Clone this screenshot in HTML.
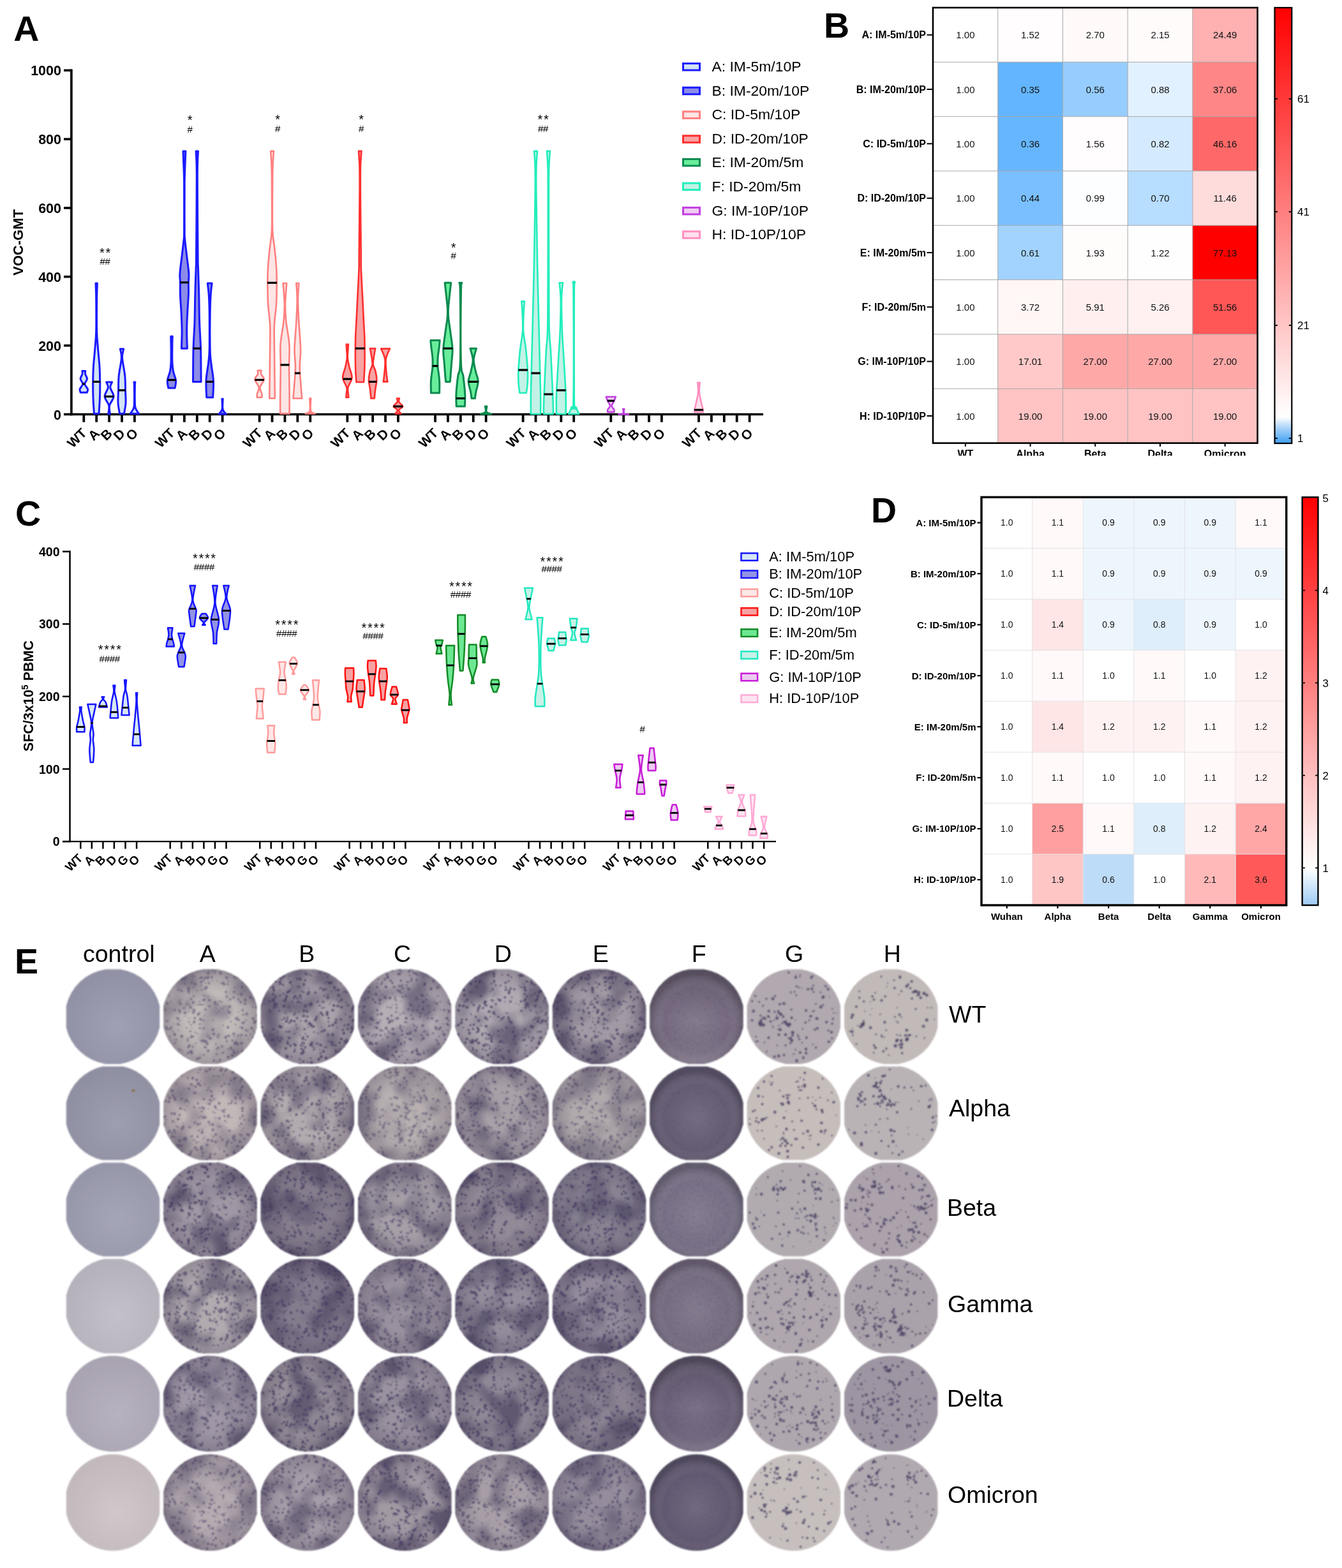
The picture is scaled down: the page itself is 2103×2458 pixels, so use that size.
<!DOCTYPE html>
<html><head><meta charset="utf-8"><title>Figure</title>
<style>html,body{margin:0;padding:0;background:#fff;width:2103px;height:2458px;overflow:hidden}svg{display:block}</style>
</head><body><svg xmlns="http://www.w3.org/2000/svg" width="2103" height="2458" viewBox="0 0 2103 2458" font-family="'Liberation Sans', Arial, Helvetica, sans-serif"><text x="21.2" y="64.2" font-size="55.5" font-weight="bold" text-anchor="start" fill="#000">A</text><line x1="111.9" y1="108.5" x2="111.9" y2="651.3" stroke="#000" stroke-width="3.6"/><line x1="100" y1="649.5" x2="111.9" y2="649.5" stroke="#000" stroke-width="3.6"/><text x="96" y="657.5" font-size="21.5" font-weight="bold" text-anchor="end" fill="#000">0</text><line x1="100" y1="541.7" x2="111.9" y2="541.7" stroke="#000" stroke-width="3.6"/><text x="96" y="549.7" font-size="21.5" font-weight="bold" text-anchor="end" fill="#000">200</text><line x1="100" y1="433.8" x2="111.9" y2="433.8" stroke="#000" stroke-width="3.6"/><text x="96" y="441.8" font-size="21.5" font-weight="bold" text-anchor="end" fill="#000">400</text><line x1="100" y1="326" x2="111.9" y2="326" stroke="#000" stroke-width="3.6"/><text x="96" y="334" font-size="21.5" font-weight="bold" text-anchor="end" fill="#000">600</text><line x1="100" y1="218.1" x2="111.9" y2="218.1" stroke="#000" stroke-width="3.6"/><text x="96" y="226.1" font-size="21.5" font-weight="bold" text-anchor="end" fill="#000">800</text><line x1="100" y1="110.3" x2="111.9" y2="110.3" stroke="#000" stroke-width="3.6"/><text x="96" y="118.3" font-size="21.5" font-weight="bold" text-anchor="end" fill="#000">1000</text><text transform="translate(36 380) rotate(-90)" font-size="22" font-weight="bold" text-anchor="middle">VOC-GMT</text><line x1="110.1" y1="649.5" x2="1196" y2="649.5" stroke="#000" stroke-width="3.6"/><line x1="131.3" y1="649.5" x2="131.3" y2="661.7" stroke="#000" stroke-width="3.8"/><text transform="translate(120.2 686.3) rotate(-45)" font-size="21" font-weight="bold" text-anchor="middle" y="7.5">WT</text><line x1="151.2" y1="649.5" x2="151.2" y2="661.7" stroke="#000" stroke-width="3.8"/><text transform="translate(146.7 681) rotate(-45)" font-size="21" font-weight="bold" text-anchor="middle" y="7.5">A</text><line x1="171.1" y1="649.5" x2="171.1" y2="661.7" stroke="#000" stroke-width="3.8"/><text transform="translate(166.6 681) rotate(-45)" font-size="21" font-weight="bold" text-anchor="middle" y="7.5">B</text><line x1="191" y1="649.5" x2="191" y2="661.7" stroke="#000" stroke-width="3.8"/><text transform="translate(186.5 681) rotate(-45)" font-size="21" font-weight="bold" text-anchor="middle" y="7.5">D</text><line x1="210.9" y1="649.5" x2="210.9" y2="661.7" stroke="#000" stroke-width="3.8"/><text transform="translate(206.4 681) rotate(-45)" font-size="21" font-weight="bold" text-anchor="middle" y="7.5">O</text><line x1="269" y1="649.5" x2="269" y2="661.7" stroke="#000" stroke-width="3.8"/><text transform="translate(257.9 686.3) rotate(-45)" font-size="21" font-weight="bold" text-anchor="middle" y="7.5">WT</text><line x1="288.9" y1="649.5" x2="288.9" y2="661.7" stroke="#000" stroke-width="3.8"/><text transform="translate(284.4 681) rotate(-45)" font-size="21" font-weight="bold" text-anchor="middle" y="7.5">A</text><line x1="308.8" y1="649.5" x2="308.8" y2="661.7" stroke="#000" stroke-width="3.8"/><text transform="translate(304.3 681) rotate(-45)" font-size="21" font-weight="bold" text-anchor="middle" y="7.5">B</text><line x1="328.7" y1="649.5" x2="328.7" y2="661.7" stroke="#000" stroke-width="3.8"/><text transform="translate(324.2 681) rotate(-45)" font-size="21" font-weight="bold" text-anchor="middle" y="7.5">D</text><line x1="348.6" y1="649.5" x2="348.6" y2="661.7" stroke="#000" stroke-width="3.8"/><text transform="translate(344.1 681) rotate(-45)" font-size="21" font-weight="bold" text-anchor="middle" y="7.5">O</text><line x1="406.6" y1="649.5" x2="406.6" y2="661.7" stroke="#000" stroke-width="3.8"/><text transform="translate(395.5 686.3) rotate(-45)" font-size="21" font-weight="bold" text-anchor="middle" y="7.5">WT</text><line x1="426.5" y1="649.5" x2="426.5" y2="661.7" stroke="#000" stroke-width="3.8"/><text transform="translate(422 681) rotate(-45)" font-size="21" font-weight="bold" text-anchor="middle" y="7.5">A</text><line x1="446.4" y1="649.5" x2="446.4" y2="661.7" stroke="#000" stroke-width="3.8"/><text transform="translate(441.9 681) rotate(-45)" font-size="21" font-weight="bold" text-anchor="middle" y="7.5">B</text><line x1="466.3" y1="649.5" x2="466.3" y2="661.7" stroke="#000" stroke-width="3.8"/><text transform="translate(461.8 681) rotate(-45)" font-size="21" font-weight="bold" text-anchor="middle" y="7.5">D</text><line x1="486.2" y1="649.5" x2="486.2" y2="661.7" stroke="#000" stroke-width="3.8"/><text transform="translate(481.7 681) rotate(-45)" font-size="21" font-weight="bold" text-anchor="middle" y="7.5">O</text><line x1="544.3" y1="649.5" x2="544.3" y2="661.7" stroke="#000" stroke-width="3.8"/><text transform="translate(533.2 686.3) rotate(-45)" font-size="21" font-weight="bold" text-anchor="middle" y="7.5">WT</text><line x1="564.2" y1="649.5" x2="564.2" y2="661.7" stroke="#000" stroke-width="3.8"/><text transform="translate(559.7 681) rotate(-45)" font-size="21" font-weight="bold" text-anchor="middle" y="7.5">A</text><line x1="584.1" y1="649.5" x2="584.1" y2="661.7" stroke="#000" stroke-width="3.8"/><text transform="translate(579.6 681) rotate(-45)" font-size="21" font-weight="bold" text-anchor="middle" y="7.5">B</text><line x1="604" y1="649.5" x2="604" y2="661.7" stroke="#000" stroke-width="3.8"/><text transform="translate(599.5 681) rotate(-45)" font-size="21" font-weight="bold" text-anchor="middle" y="7.5">D</text><line x1="623.9" y1="649.5" x2="623.9" y2="661.7" stroke="#000" stroke-width="3.8"/><text transform="translate(619.4 681) rotate(-45)" font-size="21" font-weight="bold" text-anchor="middle" y="7.5">O</text><line x1="682" y1="649.5" x2="682" y2="661.7" stroke="#000" stroke-width="3.8"/><text transform="translate(670.9 686.3) rotate(-45)" font-size="21" font-weight="bold" text-anchor="middle" y="7.5">WT</text><line x1="701.9" y1="649.5" x2="701.9" y2="661.7" stroke="#000" stroke-width="3.8"/><text transform="translate(697.4 681) rotate(-45)" font-size="21" font-weight="bold" text-anchor="middle" y="7.5">A</text><line x1="721.8" y1="649.5" x2="721.8" y2="661.7" stroke="#000" stroke-width="3.8"/><text transform="translate(717.3 681) rotate(-45)" font-size="21" font-weight="bold" text-anchor="middle" y="7.5">B</text><line x1="741.7" y1="649.5" x2="741.7" y2="661.7" stroke="#000" stroke-width="3.8"/><text transform="translate(737.2 681) rotate(-45)" font-size="21" font-weight="bold" text-anchor="middle" y="7.5">D</text><line x1="761.6" y1="649.5" x2="761.6" y2="661.7" stroke="#000" stroke-width="3.8"/><text transform="translate(757.1 681) rotate(-45)" font-size="21" font-weight="bold" text-anchor="middle" y="7.5">O</text><line x1="819.6" y1="649.5" x2="819.6" y2="661.7" stroke="#000" stroke-width="3.8"/><text transform="translate(808.5 686.3) rotate(-45)" font-size="21" font-weight="bold" text-anchor="middle" y="7.5">WT</text><line x1="839.5" y1="649.5" x2="839.5" y2="661.7" stroke="#000" stroke-width="3.8"/><text transform="translate(835 681) rotate(-45)" font-size="21" font-weight="bold" text-anchor="middle" y="7.5">A</text><line x1="859.4" y1="649.5" x2="859.4" y2="661.7" stroke="#000" stroke-width="3.8"/><text transform="translate(854.9 681) rotate(-45)" font-size="21" font-weight="bold" text-anchor="middle" y="7.5">B</text><line x1="879.3" y1="649.5" x2="879.3" y2="661.7" stroke="#000" stroke-width="3.8"/><text transform="translate(874.8 681) rotate(-45)" font-size="21" font-weight="bold" text-anchor="middle" y="7.5">D</text><line x1="899.2" y1="649.5" x2="899.2" y2="661.7" stroke="#000" stroke-width="3.8"/><text transform="translate(894.7 681) rotate(-45)" font-size="21" font-weight="bold" text-anchor="middle" y="7.5">O</text><line x1="957.3" y1="649.5" x2="957.3" y2="661.7" stroke="#000" stroke-width="3.8"/><text transform="translate(946.2 686.3) rotate(-45)" font-size="21" font-weight="bold" text-anchor="middle" y="7.5">WT</text><line x1="977.2" y1="649.5" x2="977.2" y2="661.7" stroke="#000" stroke-width="3.8"/><text transform="translate(972.7 681) rotate(-45)" font-size="21" font-weight="bold" text-anchor="middle" y="7.5">A</text><line x1="997.1" y1="649.5" x2="997.1" y2="661.7" stroke="#000" stroke-width="3.8"/><text transform="translate(992.6 681) rotate(-45)" font-size="21" font-weight="bold" text-anchor="middle" y="7.5">B</text><line x1="1017" y1="649.5" x2="1017" y2="661.7" stroke="#000" stroke-width="3.8"/><text transform="translate(1012.5 681) rotate(-45)" font-size="21" font-weight="bold" text-anchor="middle" y="7.5">D</text><line x1="1036.9" y1="649.5" x2="1036.9" y2="661.7" stroke="#000" stroke-width="3.8"/><text transform="translate(1032.4 681) rotate(-45)" font-size="21" font-weight="bold" text-anchor="middle" y="7.5">O</text><line x1="1095" y1="649.5" x2="1095" y2="661.7" stroke="#000" stroke-width="3.8"/><text transform="translate(1083.9 686.3) rotate(-45)" font-size="21" font-weight="bold" text-anchor="middle" y="7.5">WT</text><line x1="1114.9" y1="649.5" x2="1114.9" y2="661.7" stroke="#000" stroke-width="3.8"/><text transform="translate(1110.4 681) rotate(-45)" font-size="21" font-weight="bold" text-anchor="middle" y="7.5">A</text><line x1="1134.8" y1="649.5" x2="1134.8" y2="661.7" stroke="#000" stroke-width="3.8"/><text transform="translate(1130.3 681) rotate(-45)" font-size="21" font-weight="bold" text-anchor="middle" y="7.5">B</text><line x1="1154.7" y1="649.5" x2="1154.7" y2="661.7" stroke="#000" stroke-width="3.8"/><text transform="translate(1150.2 681) rotate(-45)" font-size="21" font-weight="bold" text-anchor="middle" y="7.5">D</text><line x1="1174.6" y1="649.5" x2="1174.6" y2="661.7" stroke="#000" stroke-width="3.8"/><text transform="translate(1170.1 681) rotate(-45)" font-size="21" font-weight="bold" text-anchor="middle" y="7.5">O</text><path d="M128.8 581.5C128.9 582.2 129.6 583.9 129.1 586C128.7 588.1 126 591.3 126.1 594C126.2 596.7 130 599.3 129.8 602C129.6 604.7 125.7 607.8 125.1 610C124.5 612.2 126.1 614.4 126.3 615.3L136.3 615.3C136.5 614.4 138.1 612.2 137.5 610C136.9 607.8 133 604.7 132.8 602C132.6 599.3 136.4 596.7 136.5 594C136.6 591.3 133.9 588.1 133.5 586C133.1 583.9 133.8 582.2 133.8 581.5Z" fill="#d2e3f3" stroke="#1a1aff" stroke-width="3.0" stroke-linejoin="round"/><line x1="129.5" y1="601.9" x2="133.1" y2="601.9" stroke="#000" stroke-width="3.2"/><path d="M150 444C150.1 448.2 150.6 456.5 150.7 469C150.8 481.5 151 506 150.7 519C150.4 532 149.5 537.7 148.8 547C148.1 556.3 146.9 566.5 146.4 575C145.9 583.5 145.8 589.8 145.7 598C145.6 606.2 145.7 616.1 146 624.5C146.3 632.9 147.2 644.4 147.4 648.4L155 648.4C155.2 644.4 156.1 632.9 156.4 624.5C156.7 616.1 156.8 606.2 156.7 598C156.6 589.8 156.5 583.5 156 575C155.5 566.5 154.3 556.3 153.6 547C152.9 537.7 152 532 151.7 519C151.4 506 151.6 481.5 151.7 469C151.8 456.5 152.3 448.2 152.4 444Z" fill="#d2e3f3" stroke="#1a1aff" stroke-width="3.0" stroke-linejoin="round"/><line x1="145.4" y1="598.4" x2="157" y2="598.4" stroke="#000" stroke-width="3.2"/><path d="M166.6 599C167.1 600.4 169.8 603.7 169.4 607.5C169 611.3 163.9 616.9 164.1 621.6C164.3 626.3 169.7 631.1 170.6 635.7C171.6 640.3 169.9 646.8 169.8 649L172.4 649C172.3 646.8 170.7 640.3 171.6 635.7C172.6 631.1 177.9 626.3 178.1 621.6C178.3 616.9 173.2 611.3 172.8 607.5C172.4 603.7 175.1 600.4 175.6 599Z" fill="#d2e3f3" stroke="#1a1aff" stroke-width="3.0" stroke-linejoin="round"/><line x1="163.8" y1="621.6" x2="178.4" y2="621.6" stroke="#000" stroke-width="3.2"/><path d="M188.3 547C188.7 549.3 190.8 554 190.4 561C190.1 568 187 580.5 186.2 589C185.4 597.5 185.7 604.7 185.5 611.8C185.3 618.9 184.7 625.4 185 631.5C185.3 637.6 187.1 645.6 187.5 648.4L194.5 648.4C194.9 645.6 196.7 637.6 197 631.5C197.3 625.4 196.7 618.9 196.5 611.8C196.3 604.7 196.6 597.5 195.8 589C195 580.5 191.9 568 191.6 561C191.2 554 193.3 549.3 193.7 547Z" fill="#d2e3f3" stroke="#1a1aff" stroke-width="3.0" stroke-linejoin="round"/><line x1="185.2" y1="611.8" x2="196.8" y2="611.8" stroke="#000" stroke-width="3.2"/><path d="M209.9 599C210 600 210.3 599.6 210.4 605C210.5 610.4 210.6 625.7 210.4 631.5C210.2 637.3 210.4 637.2 209.4 640C208.4 642.8 205.2 647 204.3 648.4L217.5 648.4C216.7 647 213.4 642.8 212.4 640C211.4 637.2 211.6 637.3 211.4 631.5C211.2 625.7 211.3 610.4 211.4 605C211.5 599.6 211.8 600 211.9 599Z" fill="#d2e3f3" stroke="#1a1aff" stroke-width="3.0" stroke-linejoin="round"/><path d="M267.7 527.2C267.7 530.2 268 538.2 268.1 545C268.1 551.8 268.2 561.8 268 568C267.7 574.2 267.4 577.3 266.5 582C265.5 586.7 262.8 591.9 262.4 596.3C261.9 600.7 263.5 606.2 263.8 608.2L274.2 608.2C274.4 606.2 276 600.7 275.6 596.3C275.1 591.9 272.4 586.7 271.5 582C270.5 577.3 270.2 574.2 270 568C269.7 561.8 269.8 551.8 269.9 545C269.9 538.2 270.2 530.2 270.3 527.2Z" fill="#8c8ce8" stroke="#1a1aff" stroke-width="3.0" stroke-linejoin="round"/><line x1="262.3" y1="595.6" x2="275.7" y2="595.6" stroke="#000" stroke-width="3.2"/><path d="M286.9 236.9C287.1 243.4 288.1 266 288.4 276C288.7 286 288.5 282.8 288.6 297C288.6 311.2 288.7 348 288.6 361C288.5 374 288.7 367.9 288.1 375C287.4 382.1 285.8 394.4 284.8 403.3C283.7 412.2 282.3 422.1 281.9 428.7C281.5 435.3 282.3 437.2 282.4 442.8C282.5 448.4 282.1 454.1 282.4 462C282.7 469.9 283.6 481.1 284.1 490.5C284.5 499.9 285 509.4 285.1 518.7C285.1 528 284.5 541.6 284.4 546.2L293.4 546.2C293.3 541.6 292.6 528 292.7 518.7C292.7 509.4 293.2 499.9 293.7 490.5C294.1 481.1 295.1 469.9 295.4 462C295.7 454.1 295.3 448.4 295.4 442.8C295.5 437.2 296.3 435.3 295.9 428.7C295.5 422.1 294 412.2 293 403.3C291.9 394.4 290.3 382.1 289.7 375C289 367.9 289.3 374 289.2 361C289.1 348 289.1 311.2 289.2 297C289.2 282.8 289.1 286 289.4 276C289.7 266 290.6 243.4 290.9 236.9Z" fill="#8c8ce8" stroke="#1a1aff" stroke-width="3.0" stroke-linejoin="round"/><line x1="282.1" y1="442.8" x2="295.7" y2="442.8" stroke="#000" stroke-width="3.2"/><path d="M307.1 236.9C307.3 243.4 308.2 248.3 308.3 276C308.3 303.7 307.7 379 307.5 403C307.3 427 307.4 410.2 307.1 420C306.8 429.8 306.1 447.9 305.8 462C305.4 476.1 305.4 490.4 305 504.6C304.5 518.8 303.4 531.4 303 547C302.6 562.6 302.6 589.8 302.5 598.4L315.1 598.4C315 589.8 315 562.6 314.6 547C314.2 531.4 313 518.8 312.6 504.6C312.1 490.4 312.1 476.1 311.8 462C311.4 447.9 310.8 429.8 310.5 420C310.2 410.2 310.3 427 310.1 403C309.9 379 309.2 303.7 309.3 276C309.3 248.3 310.3 243.4 310.5 236.9Z" fill="#8c8ce8" stroke="#1a1aff" stroke-width="3.0" stroke-linejoin="round"/><line x1="302.7" y1="546.2" x2="314.8" y2="546.2" stroke="#000" stroke-width="3.2"/><path d="M325.3 444C325.6 447 326.7 454.2 327.2 462C327.7 469.8 328 476.3 328.2 490.5C328.3 504.7 328.4 534.1 328.2 547C327.9 559.9 327.5 559.8 326.7 568C325.8 576.2 323.5 587.1 323 596.3C322.5 605.5 323.6 618.5 323.7 623L333.7 623C333.8 618.5 334.9 605.5 334.4 596.3C333.9 587.1 331.5 576.2 330.7 568C329.8 559.8 329.4 559.9 329.2 547C328.9 534.1 329 504.7 329.2 490.5C329.3 476.3 329.7 469.8 330.2 462C330.7 454.2 331.8 447 332.1 444Z" fill="#8c8ce8" stroke="#1a1aff" stroke-width="3.0" stroke-linejoin="round"/><line x1="322.7" y1="598.4" x2="334.6" y2="598.4" stroke="#000" stroke-width="3.2"/><path d="M347.9 625.2C347.9 627.9 348.9 637.4 348.1 641.4C347.3 645.4 343.9 647.7 343.1 649L354.1 649C353.2 647.7 349.9 645.4 349.1 641.4C348.3 637.4 349.2 627.9 349.3 625.2Z" fill="#8c8ce8" stroke="#1a1aff" stroke-width="3.0" stroke-linejoin="round"/><path d="M403.6 580.7C403.7 581.7 404.8 584 404.1 586.4C403.4 588.8 399.2 591.3 399.4 594.8C399.7 598.3 405.3 603.7 405.8 607.5C406.4 611.3 403.4 614.8 402.9 617.4C402.5 620 402.9 622.1 402.9 623L410.3 623C410.3 622.1 410.8 620 410.3 617.4C409.9 614.8 406.9 611.3 407.4 607.5C408 603.7 413.6 598.3 413.8 594.8C414.1 591.3 409.8 588.8 409.1 586.4C408.4 584 409.6 581.7 409.6 580.7Z" fill="#fde5e5" stroke="#ff8080" stroke-width="2.6" stroke-linejoin="round"/><line x1="399.5" y1="595.5" x2="413.8" y2="595.5" stroke="#000" stroke-width="3.2"/><path d="M424.1 236.9C424.4 240.8 425.2 249.5 425.5 260C425.9 270.5 426 283.2 426 300C426.1 316.8 426.5 346.2 425.9 361C425.4 375.8 423.7 379.2 422.7 389C421.7 398.8 420.5 410.9 419.9 420C419.4 429.1 419.3 433.9 419.3 443.3C419.4 452.7 419.4 465 420 476.4C420.7 487.8 422.8 497.6 423.2 511.7C423.7 525.8 423.1 542.2 422.9 561C422.8 579.8 422.4 613.9 422.2 624.5L430.8 624.5C430.7 613.9 430.3 579.8 430.1 561C430 542.2 429.4 525.8 429.8 511.7C430.3 497.6 432.4 487.8 433 476.4C433.7 465 433.7 452.7 433.7 443.3C433.8 433.9 433.7 429.1 433.1 420C432.6 410.9 431.3 398.8 430.3 389C429.3 379.2 427.7 375.8 427.1 361C426.6 346.2 427 316.8 427 300C427.1 283.2 427.2 270.5 427.5 260C427.9 249.5 428.7 240.8 428.9 236.9Z" fill="#fde5e5" stroke="#ff8080" stroke-width="2.6" stroke-linejoin="round"/><line x1="419" y1="443.3" x2="434" y2="443.3" stroke="#000" stroke-width="3.2"/><path d="M443.6 444C444 449.4 445.7 466.3 445.8 476.4C446 486.5 445.5 494 444.4 504.6C443.4 515.2 440.3 528.2 439.5 539.9C438.8 551.6 439.9 562.1 439.8 575C439.8 587.9 439.3 605.2 439.2 617.4C439.1 629.6 439.2 643.2 439.2 648.4L453.6 648.4C453.6 643.2 453.7 629.6 453.6 617.4C453.5 605.2 453.1 587.9 453 575C453 562.1 454.1 551.6 453.3 539.9C452.6 528.2 449.5 515.2 448.4 504.6C447.4 494 446.9 486.5 447 476.4C447.2 466.3 448.9 449.4 449.2 444Z" fill="#fde5e5" stroke="#ff8080" stroke-width="2.6" stroke-linejoin="round"/><line x1="439.5" y1="572" x2="453.4" y2="572" stroke="#000" stroke-width="3.2"/><path d="M464.3 444C464.6 448.2 465.7 459.3 465.7 469.4C465.7 479.5 465 491.7 464.3 504.6C463.6 517.5 461.8 535.3 461.5 547C461.3 558.7 463 565.6 462.9 575C462.9 584.4 461.8 595 461.2 603.3C460.7 611.5 459.7 621 459.4 624.5L473.2 624.5C472.9 621 472 611.5 471.4 603.3C470.9 595 469.8 584.4 469.7 575C469.7 565.6 471.4 558.7 471.1 547C470.9 535.3 469 517.5 468.3 504.6C467.6 491.7 466.9 479.5 466.9 469.4C466.9 459.3 468.1 448.2 468.3 444Z" fill="#fde5e5" stroke="#ff8080" stroke-width="2.6" stroke-linejoin="round"/><line x1="462" y1="585" x2="470.6" y2="585" stroke="#000" stroke-width="3.2"/><path d="M485.2 624.5C485.3 627.8 486.6 640.2 485.5 644.2C484.4 648.2 479.8 647.7 478.6 648.4L493.8 648.4C492.7 647.7 488 648.2 486.9 644.2C485.8 640.2 487.2 627.8 487.2 624.5Z" fill="#fde5e5" stroke="#ff8080" stroke-width="2.6" stroke-linejoin="round"/><path d="M542.7 539.9C542.8 541.1 542.9 543.5 543.1 547C543.3 550.5 544.1 556.3 543.8 561C543.5 565.7 542.4 569.8 541.3 575C540.2 580.2 536.8 586.6 537.1 592C537.4 597.4 542.4 603.3 543.3 607.5C544.3 611.7 543 614.8 542.8 617.4C542.6 620 542.4 622.1 542.3 623L546.3 623C546.2 622.1 546 620 545.8 617.4C545.6 614.8 544.4 611.7 545.3 607.5C546.3 603.3 551.2 597.4 551.5 592C551.8 586.6 548.4 580.2 547.3 575C546.2 569.8 545.1 565.7 544.8 561C544.5 556.3 545.3 550.5 545.5 547C545.7 543.5 545.8 541.1 545.9 539.9Z" fill="#f7a3a3" stroke="#ff2e2e" stroke-width="2.6" stroke-linejoin="round"/><line x1="537.6" y1="594.1" x2="551" y2="594.1" stroke="#000" stroke-width="3.2"/><path d="M562 236.9C562.2 240.8 563.1 249.5 563.4 260C563.7 270.5 563.7 277.2 563.6 300C563.5 322.8 562.9 377 562.7 397C562.5 417 563 409.1 562.6 420C562.2 430.9 561.2 448.2 560.5 462.3C559.8 476.4 559 492.9 558.4 504.6C557.8 516.4 557.2 521.1 557 532.8C556.8 544.5 556.8 564 557 575C557.2 586 558.2 595 558.4 599L570 599C570.2 595 571.2 586 571.4 575C571.6 564 571.6 544.5 571.4 532.8C571.2 521.1 570.6 516.4 570 504.6C569.4 492.9 568.6 476.4 567.9 462.3C567.2 448.2 566.2 430.9 565.8 420C565.4 409.1 565.9 417 565.7 397C565.5 377 564.9 322.8 564.8 300C564.7 277.2 564.7 270.5 565 260C565.3 249.5 566.2 240.8 566.4 236.9Z" fill="#f7a3a3" stroke="#ff2e2e" stroke-width="2.6" stroke-linejoin="round"/><line x1="556.7" y1="546.2" x2="571.7" y2="546.2" stroke="#000" stroke-width="3.2"/><path d="M580 546.2C580.2 547.5 580.8 549.9 581.4 554C582 558.1 583.9 566.2 583.6 570.9C583.3 575.6 580.7 577.8 579.7 582C578.8 586.2 577.9 591.6 577.9 596.3C578 601 579.4 605.7 580 610.4C580.6 615.1 581.2 622.1 581.4 624.5L586.8 624.5C587 622.1 587.6 615.1 588.2 610.4C588.8 605.7 590.3 601 590.3 596.3C590.4 591.6 589.5 586.2 588.5 582C587.6 577.8 584.9 575.6 584.6 570.9C584.3 566.2 586.2 558.1 586.8 554C587.4 549.9 588 547.5 588.2 546.2Z" fill="#f7a3a3" stroke="#ff2e2e" stroke-width="2.6" stroke-linejoin="round"/><line x1="577.9" y1="598.4" x2="590.3" y2="598.4" stroke="#000" stroke-width="3.2"/><path d="M597.1 546.6C598.2 549.5 602.6 556.7 603.4 563.8C604.2 570.9 602.5 583.4 602 589.2C601.5 595 600.8 596.9 600.6 598.4L607.4 598.4C607.2 596.9 606.5 595 606 589.2C605.5 583.4 603.8 570.9 604.6 563.8C605.4 556.7 609.9 549.5 610.9 546.6Z" fill="#f7a3a3" stroke="#ff2e2e" stroke-width="2.6" stroke-linejoin="round"/><path d="M621.9 624.5C622 625.4 623.6 627.9 622.7 630C621.8 632.1 616.7 635 616.7 637.1C616.7 639.2 622.4 640.9 622.9 642.8C623.4 644.7 620.1 647.5 619.5 648.4L628.3 648.4C627.7 647.5 624.4 644.7 624.9 642.8C625.4 640.9 631.1 639.2 631.1 637.1C631.1 635 626 632.1 625.1 630C624.2 627.9 625.8 625.4 625.9 624.5Z" fill="#f7a3a3" stroke="#ff2e2e" stroke-width="2.6" stroke-linejoin="round"/><line x1="616.4" y1="637.1" x2="631.4" y2="637.1" stroke="#000" stroke-width="3.2"/><path d="M674.8 533.5C674.9 535.2 675.3 539.4 675.8 544C676.3 548.6 677.5 555.8 677.9 561C678.2 566.2 678.3 569.1 677.9 575C677.5 580.9 675.8 589.5 675.4 596.3C675 603.1 675.4 612.7 675.4 616L688.6 616C688.6 612.7 689 603.1 688.6 596.3C688.2 589.5 686.5 580.9 686.1 575C685.7 569.1 685.7 566.2 686.1 561C686.4 555.8 687.7 548.6 688.2 544C688.7 539.4 689 535.2 689.2 533.5Z" fill="#68ee9b" stroke="#0b8a4f" stroke-width="3.0" stroke-linejoin="round"/><line x1="677.6" y1="573.7" x2="686.4" y2="573.7" stroke="#000" stroke-width="3.2"/><path d="M697.1 443.3C697.4 446.5 698.5 455.6 699.2 462.3C699.9 469 701 477.6 701.3 483.5C701.6 489.4 701.6 491.7 701.1 497.6C700.6 503.5 699.2 510.5 698.2 518.7C697.1 526.9 695 538.8 694.7 547C694.3 555.2 695.4 559.4 696.1 568C696.7 576.6 698.1 593.3 698.5 598.4L705.3 598.4C705.7 593.3 707 576.6 707.7 568C708.3 559.4 709.4 555.2 709.1 547C708.7 538.8 706.6 526.9 705.6 518.7C704.5 510.5 703.2 503.5 702.7 497.6C702.2 491.7 702.2 489.4 702.5 483.5C702.8 477.6 703.9 469 704.6 462.3C705.3 455.6 706.3 446.5 706.7 443.3Z" fill="#68ee9b" stroke="#0b8a4f" stroke-width="3.0" stroke-linejoin="round"/><line x1="694.5" y1="546.2" x2="709.3" y2="546.2" stroke="#000" stroke-width="3.2"/><path d="M719.8 443.3C720 446.1 720.9 439.2 721.2 460C721.4 480.8 721.8 546.5 721.2 568C720.6 589.5 718.7 581 717.7 589.2C716.6 597.4 715.3 609.4 714.9 617.4C714.5 625.4 715.1 633.8 715.2 637.1L728.4 637.1C728.4 633.8 729.1 625.4 728.7 617.4C728.3 609.4 726.9 597.4 725.9 589.2C724.8 581 723 589.5 722.4 568C721.8 546.5 722.1 480.8 722.4 460C722.6 439.2 723.5 446.1 723.8 443.3Z" fill="#68ee9b" stroke="#0b8a4f" stroke-width="3.0" stroke-linejoin="round"/><line x1="714.7" y1="624.5" x2="728.9" y2="624.5" stroke="#000" stroke-width="3.2"/><path d="M736.9 546.2C737.6 549.1 740.9 557.8 741.1 563.8C741.3 569.8 739.1 576.6 738 582.2C736.8 587.9 734.1 592.3 734.1 597.7C734 603.1 736.8 610.1 737.6 614.6C738.4 619.1 738.7 622.9 739 624.5L744.4 624.5C744.6 622.9 745 619.1 745.8 614.6C746.6 610.1 749.3 603.1 749.3 597.7C749.2 592.3 746.5 587.9 745.4 582.2C744.2 576.6 742.1 569.8 742.3 563.8C742.5 557.8 745.8 549.1 746.5 546.2Z" fill="#68ee9b" stroke="#0b8a4f" stroke-width="3.0" stroke-linejoin="round"/><line x1="733.9" y1="598.4" x2="749.4" y2="598.4" stroke="#000" stroke-width="3.2"/><path d="M760.3 637.1C760.4 638.5 762 643.6 760.9 645.6C759.8 647.6 754.8 648.4 753.6 649L769.6 649C768.4 648.4 763.4 647.6 762.3 645.6C761.2 643.6 762.8 638.5 762.9 637.1Z" fill="#68ee9b" stroke="#0b8a4f" stroke-width="3.0" stroke-linejoin="round"/><path d="M817.3 472.2C817.6 475.2 818.3 482.8 818.6 490.5C818.9 498.2 819.7 509.3 819.1 518.7C818.6 528.1 816.4 536.5 815.2 547C814.1 557.5 812.8 572.6 812.3 582C811.9 591.4 812.4 597.6 812.7 603.3C813.1 609 814.2 613.9 814.5 616L824.7 616C825 613.9 826.2 609 826.5 603.3C826.9 597.6 827.4 591.4 826.9 582C826.5 572.6 825.2 557.5 824 547C822.9 536.5 820.7 528.1 820.1 518.7C819.6 509.3 820.3 498.2 820.6 490.5C820.9 482.8 821.7 475.2 821.9 472.2Z" fill="#c2f2e6" stroke="#22eebb" stroke-width="2.6" stroke-linejoin="round"/><line x1="812.2" y1="580" x2="827.1" y2="580" stroke="#000" stroke-width="3.2"/><path d="M837 236.9C837.3 240.8 838.3 249.5 838.5 260C838.8 270.5 839 273.3 838.7 300C838.5 326.7 837.4 388.2 836.8 420C836.2 451.8 835.7 467 835.1 490.5C834.6 514 833.9 539.9 833.3 561C832.8 582.1 832.2 602.7 831.9 617.4C831.7 632.1 831.9 643.7 831.9 649L847.1 649C847.1 643.7 847.4 632.1 847.1 617.4C846.9 602.7 846.3 582.1 845.7 561C845.2 539.9 844.5 514 843.9 490.5C843.4 467 842.8 451.8 842.2 420C841.6 388.2 840.6 326.7 840.3 300C840.1 273.3 840.3 270.5 840.5 260C840.8 249.5 841.8 240.8 842 236.9Z" fill="#c2f2e6" stroke="#22eebb" stroke-width="2.6" stroke-linejoin="round"/><line x1="832.5" y1="585" x2="846.6" y2="585" stroke="#000" stroke-width="3.2"/><path d="M856.9 236.9C857.2 240.8 858.1 249.5 858.4 260C858.8 270.5 858.8 260 858.8 300C858.8 340 858.9 458.8 858.4 500C858 541.2 856.7 534.5 856 547C855.4 559.5 855.3 560.9 854.6 575C854 589.1 852.6 619.2 852.1 631.5C851.7 643.8 852.1 646.1 852.1 649L866.7 649C866.7 646.1 867.2 643.8 866.7 631.5C866.3 619.2 864.9 589.1 864.2 575C863.6 560.9 863.5 559.5 862.8 547C862.2 534.5 860.9 541.2 860.4 500C860 458.8 860 340 860 300C860 260 860.1 270.5 860.4 260C860.8 249.5 861.7 240.8 861.9 236.9Z" fill="#c2f2e6" stroke="#22eebb" stroke-width="2.6" stroke-linejoin="round"/><line x1="852.4" y1="618" x2="866.5" y2="618" stroke="#000" stroke-width="3.2"/><path d="M876.6 443.3C877 447.6 878.6 456.8 878.7 469.4C878.9 482 878.3 503.4 877.7 518.7C877.2 534 876.2 544.5 875.2 561C874.3 577.5 872.6 602.7 872 617.4C871.5 632.1 872 643.7 872 649L886.6 649C886.6 643.7 887.2 632.1 886.6 617.4C886.1 602.7 884.4 577.5 883.4 561C882.5 544.5 881.5 534 880.9 518.7C880.4 503.4 879.8 482 879.9 469.4C880.1 456.8 881.7 447.6 882 443.3Z" fill="#c2f2e6" stroke="#22eebb" stroke-width="2.6" stroke-linejoin="round"/><line x1="872.1" y1="611.8" x2="886.6" y2="611.8" stroke="#000" stroke-width="3.2"/><path d="M897.6 443.3C897.8 446.1 898.5 429.8 898.6 460C898.8 490.2 899.2 594.7 898.6 624.5C898.1 654.3 896.8 634.5 895.5 638.6C894.3 642.7 892 647.3 891.2 649L907.2 649C906.5 647.3 904.2 642.7 902.9 638.6C901.7 634.5 900.4 654.3 899.8 624.5C899.3 594.7 899.7 490.2 899.8 460C900 429.8 900.7 446.1 900.8 443.3Z" fill="#c2f2e6" stroke="#22eebb" stroke-width="2.6" stroke-linejoin="round"/><path d="M949.8 622C950.2 623 951.1 625.9 952.1 628.3C953.2 630.7 956 633.9 956 636.2C956.1 638.5 952.9 640.5 952.3 642.1C951.7 643.7 952.3 645.4 952.3 646L962.3 646C962.3 645.4 962.9 643.7 962.3 642.1C961.7 640.5 958.6 638.5 958.6 636.2C958.7 633.9 961.5 630.7 962.5 628.3C963.6 625.9 964.4 623 964.8 622Z" fill="#f0cdf5" stroke="#c040e0" stroke-width="2.6" stroke-linejoin="round"/><line x1="951.8" y1="628.3" x2="962.8" y2="628.3" stroke="#000" stroke-width="3.2"/><path d="M976.2 641.1C976.3 642.2 977.7 646.6 976.5 648C975.4 649.4 970.4 649.2 969.2 649.4L985.2 649.4C984 649.2 979.1 649.4 977.9 648C976.8 646.6 978.2 642.2 978.2 641.1Z" fill="#f0cdf5" stroke="#c040e0" stroke-width="2.6" stroke-linejoin="round"/><path d="M1093.2 599.7C1093.4 601.5 1094.1 607.4 1094.2 610.5C1094.3 613.6 1094.3 614.4 1093.7 618.4C1093 622.4 1091.2 630.2 1090.3 634.2C1089.4 638.2 1088.6 640.1 1088.3 642.1C1088 644.1 1088.3 645.4 1088.3 646L1101.7 646C1101.7 645.4 1102 644.1 1101.7 642.1C1101.4 640.1 1100.6 638.2 1099.7 634.2C1098.8 630.2 1096.9 622.4 1096.3 618.4C1095.6 614.4 1095.7 613.6 1095.8 610.5C1095.9 607.4 1096.6 601.5 1096.8 599.7Z" fill="#fde1ee" stroke="#ff8fc0" stroke-width="2.6" stroke-linejoin="round"/><line x1="1088" y1="642.5" x2="1102" y2="642.5" stroke="#000" stroke-width="3.2"/><text x="165.5" y="403" font-size="20" text-anchor="middle" letter-spacing="1.7">**</text><text x="164.5" y="415.1" font-size="15" text-anchor="middle" letter-spacing="-0.3">##</text><text x="298.4" y="195.3" font-size="20" text-anchor="middle" letter-spacing="1.7">*</text><text x="297.4" y="207.7" font-size="15" text-anchor="middle" letter-spacing="-0.3">#</text><text x="435.9" y="194.1" font-size="20" text-anchor="middle" letter-spacing="1.7">*</text><text x="434.9" y="206.6" font-size="15" text-anchor="middle" letter-spacing="-0.3">#</text><text x="567" y="194.1" font-size="20" text-anchor="middle" letter-spacing="1.7">*</text><text x="566" y="206.6" font-size="15" text-anchor="middle" letter-spacing="-0.3">#</text><text x="711.6" y="395" font-size="20" text-anchor="middle" letter-spacing="1.7">*</text><text x="710.6" y="406.1" font-size="15" text-anchor="middle" letter-spacing="-0.3">#</text><text x="852.1" y="194" font-size="20" text-anchor="middle" letter-spacing="1.7">**</text><text x="851.1" y="206.6" font-size="15" text-anchor="middle" letter-spacing="-0.3">##</text><rect x="1070.5" y="99.5" width="26" height="10.5" fill="#d2e3f3" stroke="#1a1aff" stroke-width="3"/><text x="1115.5" y="111.9" font-size="22.9" font-weight="normal" text-anchor="start" fill="#000">A: IM-5m/10P</text><rect x="1070.5" y="137.2" width="26" height="10.5" fill="#8c8ce8" stroke="#1a1aff" stroke-width="3"/><text x="1115.5" y="149.7" font-size="22.9" font-weight="normal" text-anchor="start" fill="#000">B: IM-20m/10P</text><rect x="1070.5" y="174.9" width="26" height="10.5" fill="#fde5e5" stroke="#ff8080" stroke-width="3"/><text x="1115.5" y="187.4" font-size="22.9" font-weight="normal" text-anchor="start" fill="#000">C: ID-5m/10P</text><rect x="1070.5" y="212.8" width="26" height="10.5" fill="#f7a3a3" stroke="#ff2e2e" stroke-width="3"/><text x="1115.5" y="225.2" font-size="22.9" font-weight="normal" text-anchor="start" fill="#000">D: ID-20m/10P</text><rect x="1070.5" y="249.4" width="26" height="10.5" fill="#68ee9b" stroke="#0b8a4f" stroke-width="3"/><text x="1115.5" y="261.9" font-size="22.9" font-weight="normal" text-anchor="start" fill="#000">E: IM-20m/5m</text><rect x="1070.5" y="287.1" width="26" height="10.5" fill="#c2f2e6" stroke="#22eebb" stroke-width="3"/><text x="1115.5" y="299.6" font-size="22.9" font-weight="normal" text-anchor="start" fill="#000">F: ID-20m/5m</text><rect x="1070.5" y="325.4" width="26" height="10.5" fill="#f0cdf5" stroke="#c040e0" stroke-width="3"/><text x="1115.5" y="337.8" font-size="22.9" font-weight="normal" text-anchor="start" fill="#000">G: IM-10P/10P</text><rect x="1070.5" y="362.8" width="26" height="10.5" fill="#fde1ee" stroke="#ff8fc0" stroke-width="3"/><text x="1115.5" y="375.2" font-size="22.9" font-weight="normal" text-anchor="start" fill="#000">H: ID-10P/10P</text><text x="1290.9" y="58.7" font-size="55.5" font-weight="bold" text-anchor="start" fill="#000">B</text><rect x="1462" y="12" width="102.2" height="85.8" fill="#ffffff"/><rect x="1563.7" y="12" width="102.2" height="85.8" fill="#fffdfd"/><rect x="1665.4" y="12" width="102.2" height="85.8" fill="#fff9f9"/><rect x="1767.2" y="12" width="102.2" height="85.8" fill="#fffbfb"/><rect x="1868.9" y="12" width="102.2" height="85.8" fill="#ffb0b0"/><rect x="1462" y="97.3" width="102.2" height="85.8" fill="#ffffff"/><rect x="1563.7" y="97.3" width="102.2" height="85.8" fill="#64b5ff"/><rect x="1665.4" y="97.3" width="102.2" height="85.8" fill="#96cdff"/><rect x="1767.2" y="97.3" width="102.2" height="85.8" fill="#e2f1ff"/><rect x="1868.9" y="97.3" width="102.2" height="85.8" fill="#ff8686"/><rect x="1462" y="182.7" width="102.2" height="85.8" fill="#ffffff"/><rect x="1563.7" y="182.7" width="102.2" height="85.8" fill="#66b6ff"/><rect x="1665.4" y="182.7" width="102.2" height="85.8" fill="#fffdfd"/><rect x="1767.2" y="182.7" width="102.2" height="85.8" fill="#d4ebff"/><rect x="1868.9" y="182.7" width="102.2" height="85.8" fill="#ff6868"/><rect x="1462" y="268" width="102.2" height="85.8" fill="#ffffff"/><rect x="1563.7" y="268" width="102.2" height="85.8" fill="#79bfff"/><rect x="1665.4" y="268" width="102.2" height="85.8" fill="#fdfeff"/><rect x="1767.2" y="268" width="102.2" height="85.8" fill="#b7ddff"/><rect x="1868.9" y="268" width="102.2" height="85.8" fill="#ffdcdc"/><rect x="1462" y="353.3" width="102.2" height="85.8" fill="#ffffff"/><rect x="1563.7" y="353.3" width="102.2" height="85.8" fill="#a2d3ff"/><rect x="1665.4" y="353.3" width="102.2" height="85.8" fill="#fffcfc"/><rect x="1767.2" y="353.3" width="102.2" height="85.8" fill="#fffefe"/><rect x="1868.9" y="353.3" width="102.2" height="85.8" fill="#ff0000"/><rect x="1462" y="438.6" width="102.2" height="85.8" fill="#ffffff"/><rect x="1563.7" y="438.6" width="102.2" height="85.8" fill="#fff6f6"/><rect x="1665.4" y="438.6" width="102.2" height="85.8" fill="#ffefef"/><rect x="1767.2" y="438.6" width="102.2" height="85.8" fill="#fff1f1"/><rect x="1868.9" y="438.6" width="102.2" height="85.8" fill="#ff5656"/><rect x="1462" y="524" width="102.2" height="85.8" fill="#ffffff"/><rect x="1563.7" y="524" width="102.2" height="85.8" fill="#ffc9c9"/><rect x="1665.4" y="524" width="102.2" height="85.8" fill="#ffa8a8"/><rect x="1767.2" y="524" width="102.2" height="85.8" fill="#ffa8a8"/><rect x="1868.9" y="524" width="102.2" height="85.8" fill="#ffa8a8"/><rect x="1462" y="609.3" width="102.2" height="85.8" fill="#ffffff"/><rect x="1563.7" y="609.3" width="102.2" height="85.8" fill="#ffc3c3"/><rect x="1665.4" y="609.3" width="102.2" height="85.8" fill="#ffc3c3"/><rect x="1767.2" y="609.3" width="102.2" height="85.8" fill="#ffc3c3"/><rect x="1868.9" y="609.3" width="102.2" height="85.8" fill="#ffc3c3"/><line x1="1563.7" y1="12.0" x2="1563.7" y2="694.6" stroke="#a8a8a8" stroke-width="1"/><line x1="1665.4" y1="12.0" x2="1665.4" y2="694.6" stroke="#a8a8a8" stroke-width="1"/><line x1="1767.2" y1="12.0" x2="1767.2" y2="694.6" stroke="#a8a8a8" stroke-width="1"/><line x1="1868.9" y1="12.0" x2="1868.9" y2="694.6" stroke="#a8a8a8" stroke-width="1"/><line x1="1462.0" y1="97.3" x2="1970.6" y2="97.3" stroke="#a8a8a8" stroke-width="1"/><line x1="1462.0" y1="182.7" x2="1970.6" y2="182.7" stroke="#a8a8a8" stroke-width="1"/><line x1="1462.0" y1="268" x2="1970.6" y2="268" stroke="#a8a8a8" stroke-width="1"/><line x1="1462.0" y1="353.3" x2="1970.6" y2="353.3" stroke="#a8a8a8" stroke-width="1"/><line x1="1462.0" y1="438.6" x2="1970.6" y2="438.6" stroke="#a8a8a8" stroke-width="1"/><line x1="1462.0" y1="524" x2="1970.6" y2="524" stroke="#a8a8a8" stroke-width="1"/><line x1="1462.0" y1="609.3" x2="1970.6" y2="609.3" stroke="#a8a8a8" stroke-width="1"/><text x="1512.9" y="60.2" font-size="15" font-weight="normal" text-anchor="middle" fill="#111">1.00</text><text x="1614.6" y="60.2" font-size="15" font-weight="normal" text-anchor="middle" fill="#111">1.52</text><text x="1716.3" y="60.2" font-size="15" font-weight="normal" text-anchor="middle" fill="#111">2.70</text><text x="1818" y="60.2" font-size="15" font-weight="normal" text-anchor="middle" fill="#111">2.15</text><text x="1919.7" y="60.2" font-size="15" font-weight="normal" text-anchor="middle" fill="#111">24.49</text><text x="1512.9" y="145.5" font-size="15" font-weight="normal" text-anchor="middle" fill="#111">1.00</text><text x="1614.6" y="145.5" font-size="15" font-weight="normal" text-anchor="middle" fill="#111">0.35</text><text x="1716.3" y="145.5" font-size="15" font-weight="normal" text-anchor="middle" fill="#111">0.56</text><text x="1818" y="145.5" font-size="15" font-weight="normal" text-anchor="middle" fill="#111">0.88</text><text x="1919.7" y="145.5" font-size="15" font-weight="normal" text-anchor="middle" fill="#111">37.06</text><text x="1512.9" y="230.8" font-size="15" font-weight="normal" text-anchor="middle" fill="#111">1.00</text><text x="1614.6" y="230.8" font-size="15" font-weight="normal" text-anchor="middle" fill="#111">0.36</text><text x="1716.3" y="230.8" font-size="15" font-weight="normal" text-anchor="middle" fill="#111">1.56</text><text x="1818" y="230.8" font-size="15" font-weight="normal" text-anchor="middle" fill="#111">0.82</text><text x="1919.7" y="230.8" font-size="15" font-weight="normal" text-anchor="middle" fill="#111">46.16</text><text x="1512.9" y="316.2" font-size="15" font-weight="normal" text-anchor="middle" fill="#111">1.00</text><text x="1614.6" y="316.2" font-size="15" font-weight="normal" text-anchor="middle" fill="#111">0.44</text><text x="1716.3" y="316.2" font-size="15" font-weight="normal" text-anchor="middle" fill="#111">0.99</text><text x="1818" y="316.2" font-size="15" font-weight="normal" text-anchor="middle" fill="#111">0.70</text><text x="1919.7" y="316.2" font-size="15" font-weight="normal" text-anchor="middle" fill="#111">11.46</text><text x="1512.9" y="401.5" font-size="15" font-weight="normal" text-anchor="middle" fill="#111">1.00</text><text x="1614.6" y="401.5" font-size="15" font-weight="normal" text-anchor="middle" fill="#111">0.61</text><text x="1716.3" y="401.5" font-size="15" font-weight="normal" text-anchor="middle" fill="#111">1.93</text><text x="1818" y="401.5" font-size="15" font-weight="normal" text-anchor="middle" fill="#111">1.22</text><text x="1919.7" y="401.5" font-size="15" font-weight="normal" text-anchor="middle" fill="#111">77.13</text><text x="1512.9" y="486.8" font-size="15" font-weight="normal" text-anchor="middle" fill="#111">1.00</text><text x="1614.6" y="486.8" font-size="15" font-weight="normal" text-anchor="middle" fill="#111">3.72</text><text x="1716.3" y="486.8" font-size="15" font-weight="normal" text-anchor="middle" fill="#111">5.91</text><text x="1818" y="486.8" font-size="15" font-weight="normal" text-anchor="middle" fill="#111">5.26</text><text x="1919.7" y="486.8" font-size="15" font-weight="normal" text-anchor="middle" fill="#111">51.56</text><text x="1512.9" y="572.1" font-size="15" font-weight="normal" text-anchor="middle" fill="#111">1.00</text><text x="1614.6" y="572.1" font-size="15" font-weight="normal" text-anchor="middle" fill="#111">17.01</text><text x="1716.3" y="572.1" font-size="15" font-weight="normal" text-anchor="middle" fill="#111">27.00</text><text x="1818" y="572.1" font-size="15" font-weight="normal" text-anchor="middle" fill="#111">27.00</text><text x="1919.7" y="572.1" font-size="15" font-weight="normal" text-anchor="middle" fill="#111">27.00</text><text x="1512.9" y="657.5" font-size="15" font-weight="normal" text-anchor="middle" fill="#111">1.00</text><text x="1614.6" y="657.5" font-size="15" font-weight="normal" text-anchor="middle" fill="#111">19.00</text><text x="1716.3" y="657.5" font-size="15" font-weight="normal" text-anchor="middle" fill="#111">19.00</text><text x="1818" y="657.5" font-size="15" font-weight="normal" text-anchor="middle" fill="#111">19.00</text><text x="1919.7" y="657.5" font-size="15" font-weight="normal" text-anchor="middle" fill="#111">19.00</text><rect x="1462.0" y="12.0" width="508.6" height="682.6" fill="none" stroke="#000" stroke-width="2.6"/><line x1="1452.5" y1="54.7" x2="1462.0" y2="54.7" stroke="#000" stroke-width="2"/><text x="1451" y="60.4" font-size="16" font-weight="bold" text-anchor="end" fill="#000">A: IM-5m/10P</text><line x1="1452.5" y1="140" x2="1462.0" y2="140" stroke="#000" stroke-width="2"/><text x="1451" y="145.7" font-size="16" font-weight="bold" text-anchor="end" fill="#000">B: IM-20m/10P</text><line x1="1452.5" y1="225.3" x2="1462.0" y2="225.3" stroke="#000" stroke-width="2"/><text x="1451" y="231" font-size="16" font-weight="bold" text-anchor="end" fill="#000">C: ID-5m/10P</text><line x1="1452.5" y1="310.7" x2="1462.0" y2="310.7" stroke="#000" stroke-width="2"/><text x="1451" y="316.4" font-size="16" font-weight="bold" text-anchor="end" fill="#000">D: ID-20m/10P</text><line x1="1452.5" y1="396" x2="1462.0" y2="396" stroke="#000" stroke-width="2"/><text x="1451" y="401.7" font-size="16" font-weight="bold" text-anchor="end" fill="#000">E: IM-20m/5m</text><line x1="1452.5" y1="481.3" x2="1462.0" y2="481.3" stroke="#000" stroke-width="2"/><text x="1451" y="487" font-size="16" font-weight="bold" text-anchor="end" fill="#000">F: ID-20m/5m</text><line x1="1452.5" y1="566.6" x2="1462.0" y2="566.6" stroke="#000" stroke-width="2"/><text x="1451" y="572.3" font-size="16" font-weight="bold" text-anchor="end" fill="#000">G: IM-10P/10P</text><line x1="1452.5" y1="652" x2="1462.0" y2="652" stroke="#000" stroke-width="2"/><text x="1451" y="657.7" font-size="16" font-weight="bold" text-anchor="end" fill="#000">H: ID-10P/10P</text><clipPath id="clipB"><rect x="1400" y="690" width="700" height="24.5"/></clipPath><g clip-path="url(#clipB)"><line x1="1512.9" y1="694.6" x2="1512.9" y2="700" stroke="#000" stroke-width="2"/><text x="1512.9" y="717.2" font-size="16" font-weight="bold" text-anchor="middle" fill="#000">WT</text><line x1="1614.6" y1="694.6" x2="1614.6" y2="700" stroke="#000" stroke-width="2"/><text x="1614.6" y="717.2" font-size="16" font-weight="bold" text-anchor="middle" fill="#000">Alpha</text><line x1="1716.3" y1="694.6" x2="1716.3" y2="700" stroke="#000" stroke-width="2"/><text x="1716.3" y="717.2" font-size="16" font-weight="bold" text-anchor="middle" fill="#000">Beta</text><line x1="1818" y1="694.6" x2="1818" y2="700" stroke="#000" stroke-width="2"/><text x="1818" y="717.2" font-size="16" font-weight="bold" text-anchor="middle" fill="#000">Delta</text><line x1="1919.7" y1="694.6" x2="1919.7" y2="700" stroke="#000" stroke-width="2"/><text x="1919.7" y="717.2" font-size="16" font-weight="bold" text-anchor="middle" fill="#000">Omicron</text></g><linearGradient id="gB" x1="0" y1="1" x2="0" y2="0"><stop offset="0" stop-color="#3d9ef2"/><stop offset="0.035" stop-color="#a8d2f8"/><stop offset="0.06" stop-color="#ffffff"/><stop offset="1" stop-color="#ff0000"/></linearGradient><rect x="1997.5" y="12" width="26.8" height="683" fill="url(#gB)" stroke="#000" stroke-width="2.2"/><line x1="1998" y1="155" x2="2002" y2="155" stroke="#000" stroke-width="1.8"/><line x1="2019.8" y1="155" x2="2024" y2="155" stroke="#000" stroke-width="1.8"/><text x="2033" y="161" font-size="17" font-weight="normal" text-anchor="start" fill="#000">61</text><line x1="1998" y1="332" x2="2002" y2="332" stroke="#000" stroke-width="1.8"/><line x1="2019.8" y1="332" x2="2024" y2="332" stroke="#000" stroke-width="1.8"/><text x="2033" y="338" font-size="17" font-weight="normal" text-anchor="start" fill="#000">41</text><line x1="1998" y1="510" x2="2002" y2="510" stroke="#000" stroke-width="1.8"/><line x1="2019.8" y1="510" x2="2024" y2="510" stroke="#000" stroke-width="1.8"/><text x="2033" y="516" font-size="17" font-weight="normal" text-anchor="start" fill="#000">21</text><line x1="1998" y1="687" x2="2002" y2="687" stroke="#000" stroke-width="1.8"/><line x1="2019.8" y1="687" x2="2024" y2="687" stroke="#000" stroke-width="1.8"/><text x="2033" y="693" font-size="17" font-weight="normal" text-anchor="start" fill="#000">1</text><text x="24" y="823.5" font-size="55.5" font-weight="bold" text-anchor="start" fill="#000">C</text><line x1="109.5" y1="863.3" x2="109.5" y2="1320.3" stroke="#000" stroke-width="2.5"/><line x1="98" y1="1319.1" x2="109.5" y2="1319.1" stroke="#000" stroke-width="2.5"/><text x="93.5" y="1326.1" font-size="19.5" font-weight="bold" text-anchor="end" fill="#000">0</text><line x1="98" y1="1205.5" x2="109.5" y2="1205.5" stroke="#000" stroke-width="2.5"/><text x="93.5" y="1212.5" font-size="19.5" font-weight="bold" text-anchor="end" fill="#000">100</text><line x1="98" y1="1091.8" x2="109.5" y2="1091.8" stroke="#000" stroke-width="2.5"/><text x="93.5" y="1098.8" font-size="19.5" font-weight="bold" text-anchor="end" fill="#000">200</text><line x1="98" y1="978.2" x2="109.5" y2="978.2" stroke="#000" stroke-width="2.5"/><text x="93.5" y="985.2" font-size="19.5" font-weight="bold" text-anchor="end" fill="#000">300</text><line x1="98" y1="864.6" x2="109.5" y2="864.6" stroke="#000" stroke-width="2.5"/><text x="93.5" y="871.6" font-size="19.5" font-weight="bold" text-anchor="end" fill="#000">400</text><text transform="translate(52 1091) rotate(-90)" font-size="21.5" font-weight="bold" text-anchor="middle">SFC/3x10<tspan font-size="14" dy="-8.5">5</tspan><tspan dy="8.5"> PBMC</tspan></text><line x1="98" y1="1319.1" x2="1216" y2="1319.1" stroke="#000" stroke-width="2.4"/><line x1="126.3" y1="1319.1" x2="126.3" y2="1330.6" stroke="#000" stroke-width="2.5"/><text transform="translate(115.5 1352.1) rotate(-45)" font-size="19" font-weight="bold" text-anchor="middle" y="6.8">WT</text><line x1="143.8" y1="1319.1" x2="143.8" y2="1330.6" stroke="#000" stroke-width="2.5"/><text transform="translate(139.5 1348.6) rotate(-45)" font-size="19" font-weight="bold" text-anchor="middle" y="6.8">A</text><line x1="161.4" y1="1319.1" x2="161.4" y2="1330.6" stroke="#000" stroke-width="2.5"/><text transform="translate(157.1 1348.6) rotate(-45)" font-size="19" font-weight="bold" text-anchor="middle" y="6.8">B</text><line x1="178.9" y1="1319.1" x2="178.9" y2="1330.6" stroke="#000" stroke-width="2.5"/><text transform="translate(174.6 1348.6) rotate(-45)" font-size="19" font-weight="bold" text-anchor="middle" y="6.8">D</text><line x1="196.5" y1="1319.1" x2="196.5" y2="1330.6" stroke="#000" stroke-width="2.5"/><text transform="translate(192.2 1348.6) rotate(-45)" font-size="19" font-weight="bold" text-anchor="middle" y="6.8">G</text><line x1="214.1" y1="1319.1" x2="214.1" y2="1330.6" stroke="#000" stroke-width="2.5"/><text transform="translate(209.8 1348.6) rotate(-45)" font-size="19" font-weight="bold" text-anchor="middle" y="6.8">O</text><line x1="266.7" y1="1319.1" x2="266.7" y2="1330.6" stroke="#000" stroke-width="2.5"/><text transform="translate(255.9 1352.1) rotate(-45)" font-size="19" font-weight="bold" text-anchor="middle" y="6.8">WT</text><line x1="284.3" y1="1319.1" x2="284.3" y2="1330.6" stroke="#000" stroke-width="2.5"/><text transform="translate(280 1348.6) rotate(-45)" font-size="19" font-weight="bold" text-anchor="middle" y="6.8">A</text><line x1="301.8" y1="1319.1" x2="301.8" y2="1330.6" stroke="#000" stroke-width="2.5"/><text transform="translate(297.5 1348.6) rotate(-45)" font-size="19" font-weight="bold" text-anchor="middle" y="6.8">B</text><line x1="319.4" y1="1319.1" x2="319.4" y2="1330.6" stroke="#000" stroke-width="2.5"/><text transform="translate(315.1 1348.6) rotate(-45)" font-size="19" font-weight="bold" text-anchor="middle" y="6.8">D</text><line x1="336.9" y1="1319.1" x2="336.9" y2="1330.6" stroke="#000" stroke-width="2.5"/><text transform="translate(332.6 1348.6) rotate(-45)" font-size="19" font-weight="bold" text-anchor="middle" y="6.8">G</text><line x1="354.5" y1="1319.1" x2="354.5" y2="1330.6" stroke="#000" stroke-width="2.5"/><text transform="translate(350.2 1348.6) rotate(-45)" font-size="19" font-weight="bold" text-anchor="middle" y="6.8">O</text><line x1="407.2" y1="1319.1" x2="407.2" y2="1330.6" stroke="#000" stroke-width="2.5"/><text transform="translate(396.4 1352.1) rotate(-45)" font-size="19" font-weight="bold" text-anchor="middle" y="6.8">WT</text><line x1="424.7" y1="1319.1" x2="424.7" y2="1330.6" stroke="#000" stroke-width="2.5"/><text transform="translate(420.4 1348.6) rotate(-45)" font-size="19" font-weight="bold" text-anchor="middle" y="6.8">A</text><line x1="442.3" y1="1319.1" x2="442.3" y2="1330.6" stroke="#000" stroke-width="2.5"/><text transform="translate(438 1348.6) rotate(-45)" font-size="19" font-weight="bold" text-anchor="middle" y="6.8">B</text><line x1="459.8" y1="1319.1" x2="459.8" y2="1330.6" stroke="#000" stroke-width="2.5"/><text transform="translate(455.5 1348.6) rotate(-45)" font-size="19" font-weight="bold" text-anchor="middle" y="6.8">D</text><line x1="477.4" y1="1319.1" x2="477.4" y2="1330.6" stroke="#000" stroke-width="2.5"/><text transform="translate(473.1 1348.6) rotate(-45)" font-size="19" font-weight="bold" text-anchor="middle" y="6.8">G</text><line x1="494.9" y1="1319.1" x2="494.9" y2="1330.6" stroke="#000" stroke-width="2.5"/><text transform="translate(490.6 1348.6) rotate(-45)" font-size="19" font-weight="bold" text-anchor="middle" y="6.8">O</text><line x1="547.6" y1="1319.1" x2="547.6" y2="1330.6" stroke="#000" stroke-width="2.5"/><text transform="translate(536.8 1352.1) rotate(-45)" font-size="19" font-weight="bold" text-anchor="middle" y="6.8">WT</text><line x1="565.1" y1="1319.1" x2="565.1" y2="1330.6" stroke="#000" stroke-width="2.5"/><text transform="translate(560.8 1348.6) rotate(-45)" font-size="19" font-weight="bold" text-anchor="middle" y="6.8">A</text><line x1="582.7" y1="1319.1" x2="582.7" y2="1330.6" stroke="#000" stroke-width="2.5"/><text transform="translate(578.4 1348.6) rotate(-45)" font-size="19" font-weight="bold" text-anchor="middle" y="6.8">B</text><line x1="600.2" y1="1319.1" x2="600.2" y2="1330.6" stroke="#000" stroke-width="2.5"/><text transform="translate(595.9 1348.6) rotate(-45)" font-size="19" font-weight="bold" text-anchor="middle" y="6.8">D</text><line x1="617.8" y1="1319.1" x2="617.8" y2="1330.6" stroke="#000" stroke-width="2.5"/><text transform="translate(613.5 1348.6) rotate(-45)" font-size="19" font-weight="bold" text-anchor="middle" y="6.8">G</text><line x1="635.3" y1="1319.1" x2="635.3" y2="1330.6" stroke="#000" stroke-width="2.5"/><text transform="translate(631 1348.6) rotate(-45)" font-size="19" font-weight="bold" text-anchor="middle" y="6.8">O</text><line x1="688" y1="1319.1" x2="688" y2="1330.6" stroke="#000" stroke-width="2.5"/><text transform="translate(677.2 1352.1) rotate(-45)" font-size="19" font-weight="bold" text-anchor="middle" y="6.8">WT</text><line x1="705.6" y1="1319.1" x2="705.6" y2="1330.6" stroke="#000" stroke-width="2.5"/><text transform="translate(701.3 1348.6) rotate(-45)" font-size="19" font-weight="bold" text-anchor="middle" y="6.8">A</text><line x1="723.1" y1="1319.1" x2="723.1" y2="1330.6" stroke="#000" stroke-width="2.5"/><text transform="translate(718.8 1348.6) rotate(-45)" font-size="19" font-weight="bold" text-anchor="middle" y="6.8">B</text><line x1="740.7" y1="1319.1" x2="740.7" y2="1330.6" stroke="#000" stroke-width="2.5"/><text transform="translate(736.4 1348.6) rotate(-45)" font-size="19" font-weight="bold" text-anchor="middle" y="6.8">D</text><line x1="758.2" y1="1319.1" x2="758.2" y2="1330.6" stroke="#000" stroke-width="2.5"/><text transform="translate(753.9 1348.6) rotate(-45)" font-size="19" font-weight="bold" text-anchor="middle" y="6.8">G</text><line x1="775.8" y1="1319.1" x2="775.8" y2="1330.6" stroke="#000" stroke-width="2.5"/><text transform="translate(771.5 1348.6) rotate(-45)" font-size="19" font-weight="bold" text-anchor="middle" y="6.8">O</text><line x1="828.5" y1="1319.1" x2="828.5" y2="1330.6" stroke="#000" stroke-width="2.5"/><text transform="translate(817.7 1352.1) rotate(-45)" font-size="19" font-weight="bold" text-anchor="middle" y="6.8">WT</text><line x1="846" y1="1319.1" x2="846" y2="1330.6" stroke="#000" stroke-width="2.5"/><text transform="translate(841.7 1348.6) rotate(-45)" font-size="19" font-weight="bold" text-anchor="middle" y="6.8">A</text><line x1="863.6" y1="1319.1" x2="863.6" y2="1330.6" stroke="#000" stroke-width="2.5"/><text transform="translate(859.3 1348.6) rotate(-45)" font-size="19" font-weight="bold" text-anchor="middle" y="6.8">B</text><line x1="881.1" y1="1319.1" x2="881.1" y2="1330.6" stroke="#000" stroke-width="2.5"/><text transform="translate(876.8 1348.6) rotate(-45)" font-size="19" font-weight="bold" text-anchor="middle" y="6.8">D</text><line x1="898.7" y1="1319.1" x2="898.7" y2="1330.6" stroke="#000" stroke-width="2.5"/><text transform="translate(894.4 1348.6) rotate(-45)" font-size="19" font-weight="bold" text-anchor="middle" y="6.8">G</text><line x1="916.2" y1="1319.1" x2="916.2" y2="1330.6" stroke="#000" stroke-width="2.5"/><text transform="translate(911.9 1348.6) rotate(-45)" font-size="19" font-weight="bold" text-anchor="middle" y="6.8">O</text><line x1="968.9" y1="1319.1" x2="968.9" y2="1330.6" stroke="#000" stroke-width="2.5"/><text transform="translate(958.1 1352.1) rotate(-45)" font-size="19" font-weight="bold" text-anchor="middle" y="6.8">WT</text><line x1="986.4" y1="1319.1" x2="986.4" y2="1330.6" stroke="#000" stroke-width="2.5"/><text transform="translate(982.1 1348.6) rotate(-45)" font-size="19" font-weight="bold" text-anchor="middle" y="6.8">A</text><line x1="1004" y1="1319.1" x2="1004" y2="1330.6" stroke="#000" stroke-width="2.5"/><text transform="translate(999.7 1348.6) rotate(-45)" font-size="19" font-weight="bold" text-anchor="middle" y="6.8">B</text><line x1="1021.5" y1="1319.1" x2="1021.5" y2="1330.6" stroke="#000" stroke-width="2.5"/><text transform="translate(1017.2 1348.6) rotate(-45)" font-size="19" font-weight="bold" text-anchor="middle" y="6.8">D</text><line x1="1039.1" y1="1319.1" x2="1039.1" y2="1330.6" stroke="#000" stroke-width="2.5"/><text transform="translate(1034.8 1348.6) rotate(-45)" font-size="19" font-weight="bold" text-anchor="middle" y="6.8">G</text><line x1="1056.6" y1="1319.1" x2="1056.6" y2="1330.6" stroke="#000" stroke-width="2.5"/><text transform="translate(1052.3 1348.6) rotate(-45)" font-size="19" font-weight="bold" text-anchor="middle" y="6.8">O</text><line x1="1109.3" y1="1319.1" x2="1109.3" y2="1330.6" stroke="#000" stroke-width="2.5"/><text transform="translate(1098.5 1352.1) rotate(-45)" font-size="19" font-weight="bold" text-anchor="middle" y="6.8">WT</text><line x1="1126.9" y1="1319.1" x2="1126.9" y2="1330.6" stroke="#000" stroke-width="2.5"/><text transform="translate(1122.6 1348.6) rotate(-45)" font-size="19" font-weight="bold" text-anchor="middle" y="6.8">A</text><line x1="1144.4" y1="1319.1" x2="1144.4" y2="1330.6" stroke="#000" stroke-width="2.5"/><text transform="translate(1140.1 1348.6) rotate(-45)" font-size="19" font-weight="bold" text-anchor="middle" y="6.8">B</text><line x1="1162" y1="1319.1" x2="1162" y2="1330.6" stroke="#000" stroke-width="2.5"/><text transform="translate(1157.7 1348.6) rotate(-45)" font-size="19" font-weight="bold" text-anchor="middle" y="6.8">D</text><line x1="1179.5" y1="1319.1" x2="1179.5" y2="1330.6" stroke="#000" stroke-width="2.5"/><text transform="translate(1175.2 1348.6) rotate(-45)" font-size="19" font-weight="bold" text-anchor="middle" y="6.8">G</text><line x1="1197.1" y1="1319.1" x2="1197.1" y2="1330.6" stroke="#000" stroke-width="2.5"/><text transform="translate(1192.8 1348.6) rotate(-45)" font-size="19" font-weight="bold" text-anchor="middle" y="6.8">O</text><path d="M124.8 1108.6C124.9 1109.6 125.6 1111.1 125.2 1114.7C124.8 1118.3 123.3 1126.1 122.5 1130.2C121.7 1134.3 120.6 1136.7 120.2 1139.5C119.8 1142.3 120.2 1145.9 120.2 1147.2L132.4 1147.2C132.4 1145.9 132.8 1142.3 132.4 1139.5C132 1136.7 130.9 1134.3 130.1 1130.2C129.3 1126.1 127.8 1118.3 127.4 1114.7C127 1111.1 127.7 1109.6 127.8 1108.6Z" fill="#d6e6f4" stroke="#1414ff" stroke-width="2.5" stroke-linejoin="round"/><line x1="119.9" y1="1139.5" x2="132.7" y2="1139.5" stroke="#000" stroke-width="2.8"/><path d="M137.3 1104C137.7 1105.8 138.7 1109.8 139.7 1114.7C140.6 1119.6 142.9 1127.4 143.2 1133.3C143.4 1139.2 141.4 1145.5 141.2 1150C140.9 1154.5 142 1155.8 141.8 1160C141.7 1164.2 140.4 1169.2 140.3 1175C140.3 1180.8 141.4 1191.7 141.7 1195L146 1195C146.3 1191.7 147.4 1180.8 147.3 1175C147.3 1169.2 146 1164.2 145.8 1160C145.7 1155.8 146.8 1154.5 146.5 1150C146.3 1145.5 144.3 1139.2 144.5 1133.3C144.8 1127.4 147.1 1119.6 148 1114.7C149 1109.8 150 1105.8 150.3 1104Z" fill="#d6e6f4" stroke="#1414ff" stroke-width="2.5" stroke-linejoin="round"/><line x1="142" y1="1133.3" x2="145.7" y2="1133.3" stroke="#000" stroke-width="2.8"/><path d="M159.5 1092.4C159.7 1093 161.3 1094.8 160.9 1096.2C160.5 1097.6 158.2 1098.8 157.2 1100.9C156.2 1103 155.3 1107.3 154.9 1108.6L167.9 1108.6C167.5 1107.3 166.6 1103 165.6 1100.9C164.6 1098.8 162.3 1097.6 161.9 1096.2C161.5 1094.8 163.1 1093 163.3 1092.4Z" fill="#d6e6f4" stroke="#1414ff" stroke-width="2.5" stroke-linejoin="round"/><line x1="155.1" y1="1107" x2="167.7" y2="1107" stroke="#000" stroke-width="2.8"/><path d="M177.4 1074.6C177.6 1076.1 178.7 1079.8 178.3 1083.9C178 1088 176.1 1092.9 175.1 1099.3C174.2 1105.7 173.2 1118.1 172.8 1122.5C172.5 1126.9 172.8 1125.1 172.8 1125.6L185 1125.6C185 1125.1 185.4 1126.9 185 1122.5C184.7 1118.1 183.7 1105.7 182.8 1099.3C181.8 1092.9 179.9 1088 179.5 1083.9C179.2 1079.8 180.3 1076.1 180.4 1074.6Z" fill="#d6e6f4" stroke="#1414ff" stroke-width="2.5" stroke-linejoin="round"/><line x1="173.2" y1="1116.3" x2="184.7" y2="1116.3" stroke="#000" stroke-width="2.8"/><path d="M195 1066.1C195.2 1068.5 196.2 1076.5 196 1080.8C195.8 1085 194.4 1084.9 193.5 1091.6C192.6 1098.3 190.9 1116 190.4 1120.9L202.6 1120.9C202.1 1116 200.4 1098.3 199.5 1091.6C198.6 1084.9 197.2 1085 197 1080.8C196.8 1076.5 197.8 1068.5 198 1066.1Z" fill="#d6e6f4" stroke="#1414ff" stroke-width="2.5" stroke-linejoin="round"/><line x1="191.3" y1="1109.3" x2="201.7" y2="1109.3" stroke="#000" stroke-width="2.8"/><path d="M213 1086.2C213.1 1088.4 213.8 1093.2 213.6 1099.3C213.4 1105.3 212.3 1116.1 211.8 1122.5C211.2 1128.9 210.7 1133.2 210.2 1137.9C209.8 1142.7 209.5 1145.8 209.1 1151C208.6 1156.2 207.8 1165.8 207.6 1168.8L220.6 1168.8C220.3 1165.8 219.5 1156.2 219.1 1151C218.6 1145.8 218.3 1142.7 217.9 1137.9C217.4 1133.2 216.9 1128.9 216.4 1122.5C215.8 1116.1 214.8 1105.3 214.6 1099.3C214.4 1093.2 215.1 1088.4 215.2 1086.2Z" fill="#d6e6f4" stroke="#1414ff" stroke-width="2.5" stroke-linejoin="round"/><line x1="208.8" y1="1151" x2="219.4" y2="1151" stroke="#000" stroke-width="2.8"/><path d="M262.9 984.3C263.2 986 264.4 991.3 264.4 994.3C264.5 997.2 263.7 999.7 263.2 1002C262.7 1004.3 261.8 1006.3 261.3 1008.2C260.9 1010.1 260.7 1012.7 260.6 1013.6L272.8 1013.6C272.7 1012.7 272.6 1010.1 272.1 1008.2C271.7 1006.3 270.7 1004.3 270.2 1002C269.7 999.7 269 997.2 269 994.3C269.1 991.3 270.3 986 270.5 984.3Z" fill="#9393e6" stroke="#1414ff" stroke-width="2.5" stroke-linejoin="round"/><line x1="262.9" y1="1002" x2="270.5" y2="1002" stroke="#000" stroke-width="2.8"/><path d="M279.3 992.8C280 995.9 283.6 1006.3 283.6 1011.3C283.6 1016.3 280.2 1019.8 279.3 1022.9C278.3 1026 277.6 1026.1 277.8 1029.8C277.9 1033.5 279.7 1042.7 280.1 1045.3L288.5 1045.3C288.9 1042.7 290.6 1033.5 290.8 1029.8C290.9 1026.1 290.2 1026 289.3 1022.9C288.3 1019.8 285 1016.3 285 1011.3C285 1006.3 288.6 995.9 289.3 992.8Z" fill="#9393e6" stroke="#1414ff" stroke-width="2.5" stroke-linejoin="round"/><line x1="279" y1="1022.9" x2="289.6" y2="1022.9" stroke="#000" stroke-width="2.8"/><path d="M297.6 917.9C298.2 921.6 301.5 934.2 301.3 940.3C301.2 946.3 297.7 951.1 296.8 954.2C296 957.3 295.7 954.2 296.1 958.8C296.5 963.4 298.6 978.1 299.1 982L304.5 982C305 978.1 307.1 963.4 307.5 958.8C307.9 954.2 307.7 957.3 306.8 954.2C306 951.1 302.5 946.3 302.3 940.3C302.2 934.2 305.4 921.6 306 917.9Z" fill="#9393e6" stroke="#1414ff" stroke-width="2.5" stroke-linejoin="round"/><line x1="296.5" y1="954.2" x2="307.1" y2="954.2" stroke="#000" stroke-width="2.8"/><path d="M316.4 961.9C315.8 963 312.5 966.5 312.9 968.8C313.3 971.1 318.2 974 318.9 975.8C319.6 977.6 317.4 979.1 317.1 979.7L321.7 979.7C321.4 979.1 319.2 977.6 319.9 975.8C320.6 974 325.5 971.1 325.9 968.8C326.3 966.5 323 963 322.4 961.9Z" fill="#9393e6" stroke="#1414ff" stroke-width="2.5" stroke-linejoin="round"/><line x1="312.6" y1="968.8" x2="326.2" y2="968.8" stroke="#000" stroke-width="2.8"/><path d="M333.1 917.9C333.7 922.4 336.8 936 336.4 944.9C336 953.8 331.2 963.5 330.8 971.2C330.4 978.9 333.3 984.9 333.9 991.2C334.6 997.5 334.5 1006 334.6 1009L339.2 1009C339.3 1006 339.3 997.5 339.9 991.2C340.6 984.9 343.4 978.9 343 971.2C342.6 963.5 337.8 953.8 337.4 944.9C337 936 340.2 922.4 340.7 917.9Z" fill="#9393e6" stroke="#1414ff" stroke-width="2.5" stroke-linejoin="round"/><line x1="330.5" y1="971.2" x2="343.3" y2="971.2" stroke="#000" stroke-width="2.8"/><path d="M350.3 917.9C350.8 921.1 354.1 930.6 353.7 937.2C353.3 943.8 348.3 949.1 348 957.3C347.6 965.5 350.9 981.7 351.5 986.6L357.5 986.6C358.1 981.7 361.3 965.5 361 957.3C360.6 949.1 355.7 943.8 355.3 937.2C354.9 930.6 358.1 921.1 358.7 917.9Z" fill="#9393e6" stroke="#1414ff" stroke-width="2.5" stroke-linejoin="round"/><line x1="347.7" y1="957.3" x2="361.3" y2="957.3" stroke="#000" stroke-width="2.8"/><path d="M400.7 1079.5C400.8 1081.6 401.4 1088.7 401.8 1092C402.1 1095.3 402.4 1096.9 402.7 1099.3C403 1101.7 403.6 1103.4 403.6 1106.6C403.5 1109.8 402.8 1115.1 402.5 1118.4C402.2 1121.7 401.9 1125.1 401.8 1126.4L412.6 1126.4C412.4 1125.1 412.2 1121.7 411.9 1118.4C411.6 1115.1 410.8 1109.8 410.8 1106.6C410.7 1103.4 411.4 1101.7 411.7 1099.3C412 1096.9 412.2 1095.3 412.6 1092C412.9 1088.7 413.5 1081.6 413.7 1079.5Z" fill="#fde8e8" stroke="#ff9c9c" stroke-width="2.5" stroke-linejoin="round"/><line x1="402.4" y1="1099.3" x2="412" y2="1099.3" stroke="#000" stroke-width="2.8"/><path d="M419.3 1137.5C419.5 1139.6 420.4 1145.4 420.2 1150C420 1154.6 418.4 1160 418.2 1165C418 1170 419 1177.3 419.2 1179.8L430.2 1179.8C430.4 1177.3 431.4 1170 431.2 1165C431 1160 429.4 1154.6 429.2 1150C429 1145.4 430 1139.6 430.1 1137.5Z" fill="#fde8e8" stroke="#ff9c9c" stroke-width="2.5" stroke-linejoin="round"/><line x1="418.4" y1="1161.5" x2="431" y2="1161.5" stroke="#000" stroke-width="2.8"/><path d="M436.9 1037.7C437.2 1040.4 439.1 1049.1 439.1 1053.9C439.1 1058.7 437.4 1062.4 436.9 1066.3C436.3 1070.2 435.7 1073.6 435.8 1077.3C435.8 1081 437 1086.5 437.3 1088.3L447.3 1088.3C447.5 1086.5 448.7 1081 448.8 1077.3C448.8 1073.6 448.2 1070.2 447.7 1066.3C447.1 1062.4 445.5 1058.7 445.5 1053.9C445.5 1049.1 447.3 1040.4 447.7 1037.7Z" fill="#fde8e8" stroke="#ff9c9c" stroke-width="2.5" stroke-linejoin="round"/><line x1="436.6" y1="1066.3" x2="448" y2="1066.3" stroke="#000" stroke-width="2.8"/><path d="M458.1 1030.4C457.4 1031.9 453.8 1036.3 453.7 1039.2C453.6 1042.1 456.4 1045.9 457.3 1048C458.2 1050.1 459.2 1050.2 459.3 1051.7C459.4 1053.2 458.3 1056 458.1 1056.8L461.5 1056.8C461.3 1056 460.2 1053.2 460.3 1051.7C460.4 1050.2 461.4 1050.1 462.3 1048C463.2 1045.9 466 1042.1 465.9 1039.2C465.8 1036.3 462.2 1031.9 461.5 1030.4Z" fill="#fde8e8" stroke="#ff9c9c" stroke-width="2.5" stroke-linejoin="round"/><line x1="453.9" y1="1040.4" x2="465.7" y2="1040.4" stroke="#000" stroke-width="2.8"/><path d="M476 1073.7C475.1 1075 471 1079.2 470.9 1081.7C470.7 1084.2 474.3 1087.3 475.3 1089C476.3 1090.7 476.8 1090.8 476.9 1092C476.9 1093.2 475.9 1095.7 475.7 1096.4L479.1 1096.4C478.9 1095.7 477.8 1093.2 477.9 1092C477.9 1090.8 478.5 1090.7 479.5 1089C480.5 1087.3 484 1084.2 483.9 1081.7C483.7 1079.2 479.6 1075 478.8 1073.7Z" fill="#fde8e8" stroke="#ff9c9c" stroke-width="2.5" stroke-linejoin="round"/><line x1="470.6" y1="1081.7" x2="484.2" y2="1081.7" stroke="#000" stroke-width="2.8"/><path d="M489.9 1066.3C490.3 1070.6 492 1085.6 492.1 1092C492.2 1098.4 491 1101 490.4 1104.9C489.8 1108.8 488.6 1111.5 488.4 1115.4C488.2 1119.4 489 1126.4 489.1 1128.6L500.7 1128.6C500.8 1126.4 501.6 1119.4 501.4 1115.4C501.2 1111.5 500 1108.8 499.4 1104.9C498.8 1101 497.6 1098.4 497.7 1092C497.8 1085.6 499.5 1070.6 499.9 1066.3Z" fill="#fde8e8" stroke="#ff9c9c" stroke-width="2.5" stroke-linejoin="round"/><line x1="490.1" y1="1104.9" x2="499.7" y2="1104.9" stroke="#000" stroke-width="2.8"/><path d="M541.1 1047.3C541 1048.9 540.7 1053.3 540.8 1056.8C540.9 1060.2 541.3 1064.1 541.6 1068C541.9 1071.9 542 1076.3 542.6 1080.3C543.2 1084.3 544.8 1088.7 545.1 1092C545.4 1095.3 544.5 1098.7 544.4 1100L550.8 1100C550.7 1098.7 549.8 1095.3 550.1 1092C550.4 1088.7 552 1084.3 552.6 1080.3C553.2 1076.3 553.3 1071.9 553.6 1068C553.9 1064.1 554.3 1060.2 554.4 1056.8C554.5 1053.3 554.1 1048.9 554.1 1047.3Z" fill="#f6a2a2" stroke="#ff1010" stroke-width="2.5" stroke-linejoin="round"/><line x1="541.3" y1="1068" x2="553.9" y2="1068" stroke="#000" stroke-width="2.8"/><path d="M559.7 1065.9C559.6 1067.8 558.8 1074.3 558.6 1077.3C558.5 1080.3 558.4 1080.2 558.8 1083.9C559.3 1087.6 560.6 1095.2 561.2 1099.3C561.9 1103.4 562.4 1107.2 562.6 1108.8L567.6 1108.8C567.9 1107.2 568.4 1103.4 569 1099.3C569.7 1095.2 571 1087.6 571.4 1083.9C571.9 1080.2 571.8 1080.3 571.6 1077.3C571.5 1074.3 570.7 1067.8 570.5 1065.9Z" fill="#f6a2a2" stroke="#ff1010" stroke-width="2.5" stroke-linejoin="round"/><line x1="558.5" y1="1083.9" x2="571.7" y2="1083.9" stroke="#000" stroke-width="2.8"/><path d="M576.6 1035.5C576.5 1037.1 575.8 1041.5 575.9 1045C576 1048.5 576.7 1052.6 577.2 1056.8C577.7 1061 578.6 1064.4 579.1 1070C579.6 1075.6 580 1087.1 580.2 1090.5L585.2 1090.5C585.4 1087.1 585.8 1075.6 586.3 1070C586.8 1064.4 587.7 1061 588.2 1056.8C588.7 1052.6 589.4 1048.5 589.5 1045C589.6 1041.5 588.9 1037.1 588.8 1035.5Z" fill="#f6a2a2" stroke="#ff1010" stroke-width="2.5" stroke-linejoin="round"/><line x1="576.9" y1="1056.8" x2="588.5" y2="1056.8" stroke="#000" stroke-width="2.8"/><path d="M595.2 1048C595 1050 593.9 1056.4 593.7 1059.7C593.6 1063 593.8 1063.8 594.2 1068C594.7 1072.2 596.1 1079.9 596.6 1084.7C597.2 1089.5 597.3 1095 597.4 1097.1L603 1097.1C603.2 1095 603.3 1089.5 603.8 1084.7C604.4 1079.9 605.8 1072.2 606.2 1068C606.7 1063.8 606.9 1063 606.7 1059.7C606.6 1056.4 605.5 1050 605.2 1048Z" fill="#f6a2a2" stroke="#ff1010" stroke-width="2.5" stroke-linejoin="round"/><line x1="593.9" y1="1068" x2="606.5" y2="1068" stroke="#000" stroke-width="2.8"/><path d="M614.6 1076.6C614.1 1078.7 611.4 1086 611.7 1089C611.9 1092 615.7 1092.5 616.1 1094.9C616.5 1097.4 614.3 1102.2 613.9 1103.7L621.7 1103.7C621.3 1102.2 619.1 1097.4 619.5 1094.9C619.9 1092.5 623.6 1092 623.9 1089C624.1 1086 621.5 1078.7 621 1076.6Z" fill="#f6a2a2" stroke="#ff1010" stroke-width="2.5" stroke-linejoin="round"/><line x1="611.4" y1="1089" x2="624.2" y2="1089" stroke="#000" stroke-width="2.8"/><path d="M631.7 1097.1C631.3 1099.4 629.6 1108.3 629.2 1111C628.8 1113.7 628.7 1110.8 629.3 1113.2C629.9 1115.7 632.3 1122.4 632.8 1125.7C633.4 1129 632.8 1131.8 632.8 1133L637.8 1133C637.8 1131.8 637.3 1129 637.8 1125.7C638.4 1122.4 640.7 1115.7 641.3 1113.2C641.9 1110.8 641.8 1113.7 641.4 1111C641 1108.3 639.4 1099.4 638.9 1097.1Z" fill="#f6a2a2" stroke="#ff1010" stroke-width="2.5" stroke-linejoin="round"/><line x1="629" y1="1113.2" x2="641.6" y2="1113.2" stroke="#000" stroke-width="2.8"/><path d="M682.2 1003.6C682.5 1005 683.4 1010.1 684 1012C684.6 1013.9 685.8 1012.7 685.7 1014.8C685.7 1016.9 684 1023.1 683.6 1024.7L692.4 1024.7C692.1 1023.1 690.4 1016.9 690.3 1014.8C690.3 1012.7 691.4 1013.9 692 1012C692.6 1010.1 693.5 1005 693.8 1003.6Z" fill="#6de892" stroke="#138a26" stroke-width="2.5" stroke-linejoin="round"/><line x1="683.7" y1="1012" x2="692.3" y2="1012" stroke="#000" stroke-width="2.8"/><path d="M699.1 1012C699.2 1017.2 699.6 1034.1 700.1 1043C700.5 1051.9 701.1 1058.1 701.9 1065.6C702.6 1073.1 704.3 1081.6 704.6 1088.2C704.8 1094.8 703.5 1102.2 703.3 1105L707.9 1105C707.7 1102.2 706.3 1094.8 706.6 1088.2C706.8 1081.6 708.5 1073.1 709.3 1065.6C710 1058.1 710.6 1051.9 711.1 1043C711.5 1034.1 711.9 1017.2 712.1 1012Z" fill="#6de892" stroke="#138a26" stroke-width="2.5" stroke-linejoin="round"/><line x1="699.8" y1="1043" x2="711.4" y2="1043" stroke="#000" stroke-width="2.8"/><path d="M717.3 964C717.3 966.8 717.3 976 717.3 981C717.4 986 717.4 986.7 717.6 993.7C717.9 1000.8 718.2 1013.7 718.7 1023.3C719.3 1032.9 720.5 1046.8 720.8 1051.5L725.4 1051.5C725.8 1046.8 727 1032.9 727.5 1023.3C728.1 1013.7 728.4 1000.8 728.6 993.7C728.9 986.7 728.9 986 728.9 981C729 976 728.9 966.8 728.9 964Z" fill="#6de892" stroke="#138a26" stroke-width="2.5" stroke-linejoin="round"/><line x1="717.3" y1="993.7" x2="728.9" y2="993.7" stroke="#000" stroke-width="2.8"/><path d="M734.9 1010.6C734.8 1014.1 734.6 1026.4 734.5 1031.8C734.4 1037.2 733.3 1037.8 734.2 1043C735 1048.2 739 1058.1 739.7 1062.8C740.4 1067.5 738.6 1069.8 738.4 1071.2L743 1071.2C742.8 1069.8 741 1067.5 741.7 1062.8C742.4 1058.1 746.3 1048.2 747.2 1043C748 1037.8 747 1037.2 746.9 1031.8C746.8 1026.4 746.5 1014.1 746.5 1010.6Z" fill="#6de892" stroke="#138a26" stroke-width="2.5" stroke-linejoin="round"/><line x1="734.2" y1="1031.8" x2="747.2" y2="1031.8" stroke="#000" stroke-width="2.8"/><path d="M755.2 997.9C754.8 1000.2 752.2 1006.4 752.4 1012C752.7 1017.6 755.9 1027.3 756.6 1031.8C757.3 1036.3 756.6 1037.6 756.6 1038.8L759.8 1038.8C759.8 1037.6 759.1 1036.3 759.8 1031.8C760.5 1027.3 763.8 1017.6 764 1012C764.3 1006.4 761.7 1000.2 761.2 997.9Z" fill="#6de892" stroke="#138a26" stroke-width="2.5" stroke-linejoin="round"/><line x1="752.3" y1="1012.8" x2="764.2" y2="1012.8" stroke="#000" stroke-width="2.8"/><path d="M770.7 1065.6C770.4 1066.8 768.8 1069.5 769.3 1072.7C769.7 1075.9 772.8 1082.8 773.5 1084.8L778.1 1084.8C778.8 1082.8 781.8 1075.9 782.3 1072.7C782.7 1069.5 781.1 1066.8 780.9 1065.6Z" fill="#6de892" stroke="#138a26" stroke-width="2.5" stroke-linejoin="round"/><line x1="769" y1="1072.7" x2="782.6" y2="1072.7" stroke="#000" stroke-width="2.8"/><path d="M822 921.8C822.5 924.6 824.5 933.5 825.5 938.7C826.4 943.9 827.8 947.4 827.5 952.8C827.1 958.2 824 968 823.4 971.1L833.6 971.1C832.9 968 829.8 958.2 829.5 952.8C829.1 947.4 830.5 943.9 831.5 938.7C832.4 933.5 834.4 924.6 835 921.8Z" fill="#c8f1e8" stroke="#22e8c0" stroke-width="2.5" stroke-linejoin="round"/><line x1="825.2" y1="938.7" x2="831.8" y2="938.7" stroke="#000" stroke-width="2.8"/><path d="M841.6 968.3C842.1 975.1 843.9 995.3 844.4 1009.2C844.9 1023.1 844.8 1041.1 844.4 1051.5C844 1061.9 842.9 1064.8 842 1071.8C841.1 1078.8 839.3 1087.9 838.8 1093.8C838.3 1099.7 838.8 1105 838.8 1107.3L853.2 1107.3C853.2 1105 853.7 1099.7 853.2 1093.8C852.7 1087.9 850.9 1078.8 850 1071.8C849.1 1064.8 848 1061.9 847.6 1051.5C847.2 1041.1 847.1 1023.1 847.6 1009.2C848.1 995.3 849.9 975.1 850.4 968.3Z" fill="#c8f1e8" stroke="#22e8c0" stroke-width="2.5" stroke-linejoin="round"/><line x1="841.7" y1="1071.8" x2="850.3" y2="1071.8" stroke="#000" stroke-width="2.8"/><path d="M858.5 1000.7C858.2 1002.1 856.8 1006 857.1 1009.2C857.3 1012.4 859.4 1018.1 859.9 1019.9L867.3 1019.9C867.7 1018.1 869.8 1012.4 870.1 1009.2C870.3 1006 868.9 1002.1 868.7 1000.7Z" fill="#c8f1e8" stroke="#22e8c0" stroke-width="2.5" stroke-linejoin="round"/><line x1="856.8" y1="1009.2" x2="870.4" y2="1009.2" stroke="#000" stroke-width="2.8"/><path d="M876 990.9C875.8 992.5 875.1 998.6 874.9 1000.7C874.7 1002.8 874.4 1001.8 874.6 1003.6C874.8 1005.4 875.8 1010.2 876 1011.5L886.2 1011.5C886.4 1010.2 887.4 1005.4 887.6 1003.6C887.8 1001.8 887.5 1002.8 887.3 1000.7C887.1 998.6 886.4 992.5 886.2 990.9Z" fill="#c8f1e8" stroke="#22e8c0" stroke-width="2.5" stroke-linejoin="round"/><line x1="874.6" y1="1000.7" x2="887.6" y2="1000.7" stroke="#000" stroke-width="2.8"/><path d="M892.9 969.7C893.2 972.1 894 980 894.7 983.8C895.4 987.6 897.1 989 897.1 992.3C897 995.6 894.7 1001.7 894.3 1003.6L903.1 1003.6C902.6 1001.7 900.3 995.6 900.3 992.3C900.2 989 902 987.6 902.7 983.8C903.4 980 904.2 972.1 904.5 969.7Z" fill="#c8f1e8" stroke="#22e8c0" stroke-width="2.5" stroke-linejoin="round"/><line x1="894.4" y1="983.8" x2="903" y2="983.8" stroke="#000" stroke-width="2.8"/><path d="M910.8 985.2C910.7 986.8 910.2 992.4 910 994.5C909.8 996.6 909.4 995.9 909.7 997.9C910 999.9 911.5 1005 911.8 1006.4L920.6 1006.4C921 1005 922.4 999.9 922.7 997.9C923 995.9 922.6 996.6 922.4 994.5C922.2 992.4 921.7 986.8 921.6 985.2Z" fill="#c8f1e8" stroke="#22e8c0" stroke-width="2.5" stroke-linejoin="round"/><line x1="909.7" y1="994.5" x2="922.7" y2="994.5" stroke="#000" stroke-width="2.8"/><path d="M962.4 1198.1C962.6 1199.8 963.2 1204.2 963.9 1208C964.6 1211.8 966.4 1216.2 966.6 1220.7C966.8 1225.2 965.4 1232.5 965.2 1234.8L972.6 1234.8C972.3 1232.5 971 1225.2 971.2 1220.7C971.4 1216.2 973.2 1211.8 973.9 1208C974.6 1204.2 975.1 1199.8 975.4 1198.1Z" fill="#eccaf1" stroke="#c81ad8" stroke-width="2.5" stroke-linejoin="round"/><line x1="963.6" y1="1208" x2="974.2" y2="1208" stroke="#000" stroke-width="2.8"/><path d="M980.6 1271.5C980.6 1272.6 980.4 1275.9 980.2 1278C980.1 1280.1 979.9 1283.2 979.8 1284.2L993 1284.2C993 1283.2 992.8 1280.1 992.6 1278C992.5 1275.9 992.3 1272.6 992.2 1271.5Z" fill="#eccaf1" stroke="#c81ad8" stroke-width="2.5" stroke-linejoin="round"/><line x1="979.9" y1="1278" x2="992.9" y2="1278" stroke="#000" stroke-width="2.8"/><path d="M1000.3 1184C1000.7 1187.8 1003.1 1199.5 1003 1206.6C1002.8 1213.6 1000.3 1220.7 999.5 1226.3C998.6 1231.9 998.1 1237.3 997.9 1240.4C997.6 1243.5 997.9 1244 997.9 1244.7L1010.1 1244.7C1010.1 1244 1010.3 1243.5 1010.1 1240.4C1009.8 1237.3 1009.3 1231.9 1008.5 1226.3C1007.6 1220.7 1005.1 1213.6 1005 1206.6C1004.8 1199.5 1007.2 1187.8 1007.7 1184Z" fill="#eccaf1" stroke="#c81ad8" stroke-width="2.5" stroke-linejoin="round"/><line x1="999.2" y1="1226.3" x2="1008.8" y2="1226.3" stroke="#000" stroke-width="2.8"/><path d="M1018.5 1172.8C1018.1 1176.5 1016.5 1190.6 1016 1195.3C1015.5 1200 1015.5 1198.9 1015.4 1201C1015.4 1203.1 1015.7 1206.8 1015.7 1208L1027.3 1208C1027.4 1206.8 1027.7 1203.1 1027.6 1201C1027.6 1198.9 1027.5 1200 1027 1195.3C1026.5 1190.6 1024.9 1176.5 1024.5 1172.8Z" fill="#eccaf1" stroke="#c81ad8" stroke-width="2.5" stroke-linejoin="round"/><line x1="1015.7" y1="1195.3" x2="1027.3" y2="1195.3" stroke="#000" stroke-width="2.8"/><path d="M1034 1223.5C1034 1224.6 1033.8 1228.1 1034.1 1230C1034.3 1231.9 1034.8 1231.9 1035.4 1234.8C1035.9 1237.7 1037.1 1245.4 1037.5 1247.5L1040.7 1247.5C1041 1245.4 1042.2 1237.7 1042.8 1234.8C1043.3 1231.9 1043.8 1231.9 1044.1 1230C1044.3 1228.1 1044.2 1224.6 1044.2 1223.5Z" fill="#eccaf1" stroke="#c81ad8" stroke-width="2.5" stroke-linejoin="round"/><line x1="1033.8" y1="1230" x2="1044.4" y2="1230" stroke="#000" stroke-width="2.8"/><path d="M1053.6 1261.6C1053.2 1263.7 1051.2 1270.3 1050.8 1274.3C1050.5 1278.3 1051.5 1283.7 1051.6 1285.6L1061.6 1285.6C1061.8 1283.7 1062.8 1278.3 1062.4 1274.3C1062.1 1270.3 1060.1 1263.7 1059.6 1261.6Z" fill="#eccaf1" stroke="#c81ad8" stroke-width="2.5" stroke-linejoin="round"/><line x1="1050.5" y1="1274.3" x2="1062.7" y2="1274.3" stroke="#000" stroke-width="2.8"/><path d="M1103.2 1264.4C1103.4 1265 1104 1266.6 1104.3 1268C1104.6 1269.4 1104.8 1272.1 1104.9 1272.9L1113.7 1272.9C1113.8 1272.1 1114 1269.4 1114.3 1268C1114.6 1266.6 1115.2 1265 1115.4 1264.4Z" fill="#fde5f1" stroke="#ffaad6" stroke-width="2.5" stroke-linejoin="round"/><line x1="1104" y1="1268" x2="1114.6" y2="1268" stroke="#000" stroke-width="2.8"/><path d="M1122 1279.9C1122.6 1281.3 1125.8 1286.1 1125.9 1288.4C1125.9 1290.8 1123.3 1292.1 1122.4 1294C1121.4 1295.9 1120.7 1298.8 1120.4 1299.7L1133.4 1299.7C1133 1298.8 1132.3 1295.9 1131.4 1294C1130.4 1292.1 1127.8 1290.8 1127.9 1288.4C1127.9 1286.1 1131.1 1281.3 1131.8 1279.9Z" fill="#fde5f1" stroke="#ffaad6" stroke-width="2.5" stroke-linejoin="round"/><line x1="1122.1" y1="1294" x2="1131.7" y2="1294" stroke="#000" stroke-width="2.8"/><path d="M1138.6 1230.6C1138.7 1231.3 1138.4 1232.7 1138.9 1234.8C1139.4 1236.9 1141 1241.9 1141.4 1243.3L1147.4 1243.3C1147.8 1241.9 1149.4 1236.9 1149.9 1234.8C1150.4 1232.7 1150.2 1231.3 1150.2 1230.6Z" fill="#fde5f1" stroke="#ffaad6" stroke-width="2.5" stroke-linejoin="round"/><line x1="1138.6" y1="1234.8" x2="1150.2" y2="1234.8" stroke="#000" stroke-width="2.8"/><path d="M1157.6 1246.1C1158.1 1248 1161.1 1253.4 1161 1257.4C1160.8 1261.4 1157.4 1266.3 1156.5 1270C1155.5 1273.7 1155.6 1277.8 1155.5 1279.4L1168.5 1279.4C1168.3 1277.8 1168.4 1273.7 1167.5 1270C1166.5 1266.3 1163.1 1261.4 1163 1257.4C1162.8 1253.4 1165.8 1248 1166.4 1246.1Z" fill="#fde5f1" stroke="#ffaad6" stroke-width="2.5" stroke-linejoin="round"/><line x1="1156.2" y1="1270" x2="1167.8" y2="1270" stroke="#000" stroke-width="2.8"/><path d="M1175.8 1246.1C1176.3 1252.7 1178.7 1276.7 1178.5 1285.6C1178.3 1294.5 1175.3 1296.4 1174.5 1299.7C1173.7 1303 1173.8 1303.7 1173.7 1305.3C1173.6 1306.9 1173.7 1308.8 1173.7 1309.5L1185.3 1309.5C1185.3 1308.8 1185.4 1306.9 1185.3 1305.3C1185.2 1303.7 1185.3 1303 1184.5 1299.7C1183.7 1296.4 1180.7 1294.5 1180.5 1285.6C1180.3 1276.7 1182.8 1252.7 1183.2 1246.1Z" fill="#fde5f1" stroke="#ffaad6" stroke-width="2.5" stroke-linejoin="round"/><line x1="1174.2" y1="1299.7" x2="1184.8" y2="1299.7" stroke="#000" stroke-width="2.8"/><path d="M1192.7 1279.9C1193.2 1282.7 1196.2 1292.3 1196.1 1296.8C1196 1301.3 1192.9 1303.9 1192.1 1306.7C1191.3 1309.5 1191.4 1312.6 1191.3 1313.8L1202.9 1313.8C1202.7 1312.6 1202.9 1309.5 1202.1 1306.7C1201.3 1303.9 1198.2 1301.3 1198.1 1296.8C1198 1292.3 1200.9 1282.7 1201.5 1279.9Z" fill="#fde5f1" stroke="#ffaad6" stroke-width="2.5" stroke-linejoin="round"/><line x1="1191.8" y1="1306.7" x2="1202.4" y2="1306.7" stroke="#000" stroke-width="2.8"/><text x="172.7" y="1024.5" font-size="20" text-anchor="middle" letter-spacing="1.7">****</text><text x="171.7" y="1037.7" font-size="15" text-anchor="middle" letter-spacing="-0.3">####</text><text x="320.9" y="881.7" font-size="20" text-anchor="middle" letter-spacing="1.7">****</text><text x="319.9" y="894.1" font-size="15" text-anchor="middle" letter-spacing="-0.3">####</text><text x="450.2" y="986.1" font-size="20" text-anchor="middle" letter-spacing="1.7">****</text><text x="449.2" y="998" font-size="15" text-anchor="middle" letter-spacing="-0.3">####</text><text x="585.5" y="990.5" font-size="20" text-anchor="middle" letter-spacing="1.7">****</text><text x="584.5" y="1001.9" font-size="15" text-anchor="middle" letter-spacing="-0.3">####</text><text x="722.9" y="926" font-size="20" text-anchor="middle" letter-spacing="1.7">****</text><text x="721.9" y="937.4" font-size="15" text-anchor="middle" letter-spacing="-0.3">####</text><text x="865.5" y="886.5" font-size="20" text-anchor="middle" letter-spacing="1.7">****</text><text x="864.5" y="897.1" font-size="15" text-anchor="middle" letter-spacing="-0.3">####</text><text x="1006.6" y="1147.5" font-size="15" text-anchor="middle">#</text><rect x="1161.5" y="867.2" width="25.6" height="11.5" fill="#d6e6f4" stroke="#1414ff" stroke-width="2.5"/><text x="1205.2" y="880.1" font-size="21.9" font-weight="normal" text-anchor="start" fill="#000">A: IM-5m/10P</text><rect x="1161.5" y="894.5" width="25.6" height="11.5" fill="#9393e6" stroke="#1414ff" stroke-width="2.5"/><text x="1205.2" y="907.1" font-size="21.9" font-weight="normal" text-anchor="start" fill="#000">B: IM-20m/10P</text><rect x="1161.5" y="923.6" width="25.6" height="11.5" fill="#fde8e8" stroke="#ff9c9c" stroke-width="2.5"/><text x="1205.2" y="936.6" font-size="21.9" font-weight="normal" text-anchor="start" fill="#000">C: ID-5m/10P</text><rect x="1161.5" y="953.1" width="25.6" height="11.5" fill="#f6a2a2" stroke="#ff1010" stroke-width="2.5"/><text x="1205.2" y="966" font-size="21.9" font-weight="normal" text-anchor="start" fill="#000">D: ID-20m/10P</text><rect x="1161.5" y="986.4" width="25.6" height="11.5" fill="#6de892" stroke="#138a26" stroke-width="2.5"/><text x="1205.2" y="999.3" font-size="21.9" font-weight="normal" text-anchor="start" fill="#000">E: IM-20m/5m</text><rect x="1161.5" y="1021.2" width="25.6" height="11.5" fill="#c8f1e8" stroke="#22e8c0" stroke-width="2.5"/><text x="1205.2" y="1033.8" font-size="21.9" font-weight="normal" text-anchor="start" fill="#000">F: ID-20m/5m</text><rect x="1161.5" y="1055.7" width="25.6" height="11.5" fill="#eccaf1" stroke="#c81ad8" stroke-width="2.5"/><text x="1205.2" y="1068.9" font-size="21.9" font-weight="normal" text-anchor="start" fill="#000">G: IM-10P/10P</text><rect x="1161.5" y="1089.5" width="25.6" height="11.5" fill="#fde5f1" stroke="#ffaad6" stroke-width="2.5"/><text x="1205.2" y="1102.2" font-size="21.9" font-weight="normal" text-anchor="start" fill="#000">H: ID-10P/10P</text><text x="1365.1" y="819.3" font-size="55.5" font-weight="bold" text-anchor="start" fill="#000">D</text><rect x="1538" y="779.4" width="80.1" height="80.5" fill="#ffffff"/><rect x="1617.6" y="779.4" width="80.1" height="80.5" fill="#fff9f9"/><rect x="1697.3" y="779.4" width="80.1" height="80.5" fill="#eef6fd"/><rect x="1776.9" y="779.4" width="80.1" height="80.5" fill="#eef6fd"/><rect x="1856.5" y="779.4" width="80.1" height="80.5" fill="#eef6fd"/><rect x="1936.2" y="779.4" width="80.1" height="80.5" fill="#fff9f9"/><rect x="1538" y="859.4" width="80.1" height="80.5" fill="#ffffff"/><rect x="1617.6" y="859.4" width="80.1" height="80.5" fill="#fff9f9"/><rect x="1697.3" y="859.4" width="80.1" height="80.5" fill="#eef6fd"/><rect x="1776.9" y="859.4" width="80.1" height="80.5" fill="#eef6fd"/><rect x="1856.5" y="859.4" width="80.1" height="80.5" fill="#eef6fd"/><rect x="1936.2" y="859.4" width="80.1" height="80.5" fill="#eef6fd"/><rect x="1538" y="939.3" width="80.1" height="80.5" fill="#ffffff"/><rect x="1617.6" y="939.3" width="80.1" height="80.5" fill="#ffe6e6"/><rect x="1697.3" y="939.3" width="80.1" height="80.5" fill="#eef6fd"/><rect x="1776.9" y="939.3" width="80.1" height="80.5" fill="#deeefb"/><rect x="1856.5" y="939.3" width="80.1" height="80.5" fill="#eef6fd"/><rect x="1936.2" y="939.3" width="80.1" height="80.5" fill="#ffffff"/><rect x="1538" y="1019.2" width="80.1" height="80.5" fill="#ffffff"/><rect x="1617.6" y="1019.2" width="80.1" height="80.5" fill="#fff9f9"/><rect x="1697.3" y="1019.2" width="80.1" height="80.5" fill="#ffffff"/><rect x="1776.9" y="1019.2" width="80.1" height="80.5" fill="#fff9f9"/><rect x="1856.5" y="1019.2" width="80.1" height="80.5" fill="#ffffff"/><rect x="1936.2" y="1019.2" width="80.1" height="80.5" fill="#fff2f2"/><rect x="1538" y="1099.2" width="80.1" height="80.5" fill="#ffffff"/><rect x="1617.6" y="1099.2" width="80.1" height="80.5" fill="#ffe6e6"/><rect x="1697.3" y="1099.2" width="80.1" height="80.5" fill="#fff2f2"/><rect x="1776.9" y="1099.2" width="80.1" height="80.5" fill="#fff2f2"/><rect x="1856.5" y="1099.2" width="80.1" height="80.5" fill="#fff9f9"/><rect x="1936.2" y="1099.2" width="80.1" height="80.5" fill="#fff2f2"/><rect x="1538" y="1179.2" width="80.1" height="80.5" fill="#ffffff"/><rect x="1617.6" y="1179.2" width="80.1" height="80.5" fill="#fff9f9"/><rect x="1697.3" y="1179.2" width="80.1" height="80.5" fill="#ffffff"/><rect x="1776.9" y="1179.2" width="80.1" height="80.5" fill="#ffffff"/><rect x="1856.5" y="1179.2" width="80.1" height="80.5" fill="#fff9f9"/><rect x="1936.2" y="1179.2" width="80.1" height="80.5" fill="#fff2f2"/><rect x="1538" y="1259.1" width="80.1" height="80.5" fill="#ffffff"/><rect x="1617.6" y="1259.1" width="80.1" height="80.5" fill="#ff9f9f"/><rect x="1697.3" y="1259.1" width="80.1" height="80.5" fill="#fff9f9"/><rect x="1776.9" y="1259.1" width="80.1" height="80.5" fill="#deeefb"/><rect x="1856.5" y="1259.1" width="80.1" height="80.5" fill="#fff2f2"/><rect x="1936.2" y="1259.1" width="80.1" height="80.5" fill="#ffa6a6"/><rect x="1538" y="1339" width="80.1" height="80.5" fill="#ffffff"/><rect x="1617.6" y="1339" width="80.1" height="80.5" fill="#ffc6c6"/><rect x="1697.3" y="1339" width="80.1" height="80.5" fill="#bddcf7"/><rect x="1776.9" y="1339" width="80.1" height="80.5" fill="#ffffff"/><rect x="1856.5" y="1339" width="80.1" height="80.5" fill="#ffb9b9"/><rect x="1936.2" y="1339" width="80.1" height="80.5" fill="#ff5959"/><line x1="1617.6" y1="779.4" x2="1617.6" y2="1419" stroke="#e2e2e6" stroke-width="1"/><line x1="1697.3" y1="779.4" x2="1697.3" y2="1419" stroke="#e2e2e6" stroke-width="1"/><line x1="1776.9" y1="779.4" x2="1776.9" y2="1419" stroke="#e2e2e6" stroke-width="1"/><line x1="1856.5" y1="779.4" x2="1856.5" y2="1419" stroke="#e2e2e6" stroke-width="1"/><line x1="1936.2" y1="779.4" x2="1936.2" y2="1419" stroke="#e2e2e6" stroke-width="1"/><line x1="1538.0" y1="859.4" x2="2015.8" y2="859.4" stroke="#e2e2e6" stroke-width="1"/><line x1="1538.0" y1="939.3" x2="2015.8" y2="939.3" stroke="#e2e2e6" stroke-width="1"/><line x1="1538.0" y1="1019.2" x2="2015.8" y2="1019.2" stroke="#e2e2e6" stroke-width="1"/><line x1="1538.0" y1="1099.2" x2="2015.8" y2="1099.2" stroke="#e2e2e6" stroke-width="1"/><line x1="1538.0" y1="1179.2" x2="2015.8" y2="1179.2" stroke="#e2e2e6" stroke-width="1"/><line x1="1538.0" y1="1259.1" x2="2015.8" y2="1259.1" stroke="#e2e2e6" stroke-width="1"/><line x1="1538.0" y1="1339" x2="2015.8" y2="1339" stroke="#e2e2e6" stroke-width="1"/><text x="1577.8" y="824.4" font-size="14" font-weight="normal" text-anchor="middle" fill="#111">1.0</text><text x="1657.4" y="824.4" font-size="14" font-weight="normal" text-anchor="middle" fill="#111">1.1</text><text x="1737.1" y="824.4" font-size="14" font-weight="normal" text-anchor="middle" fill="#111">0.9</text><text x="1816.7" y="824.4" font-size="14" font-weight="normal" text-anchor="middle" fill="#111">0.9</text><text x="1896.3" y="824.4" font-size="14" font-weight="normal" text-anchor="middle" fill="#111">0.9</text><text x="1976" y="824.4" font-size="14" font-weight="normal" text-anchor="middle" fill="#111">1.1</text><text x="1577.8" y="904.3" font-size="14" font-weight="normal" text-anchor="middle" fill="#111">1.0</text><text x="1657.4" y="904.3" font-size="14" font-weight="normal" text-anchor="middle" fill="#111">1.1</text><text x="1737.1" y="904.3" font-size="14" font-weight="normal" text-anchor="middle" fill="#111">0.9</text><text x="1816.7" y="904.3" font-size="14" font-weight="normal" text-anchor="middle" fill="#111">0.9</text><text x="1896.3" y="904.3" font-size="14" font-weight="normal" text-anchor="middle" fill="#111">0.9</text><text x="1976" y="904.3" font-size="14" font-weight="normal" text-anchor="middle" fill="#111">0.9</text><text x="1577.8" y="984.3" font-size="14" font-weight="normal" text-anchor="middle" fill="#111">1.0</text><text x="1657.4" y="984.3" font-size="14" font-weight="normal" text-anchor="middle" fill="#111">1.4</text><text x="1737.1" y="984.3" font-size="14" font-weight="normal" text-anchor="middle" fill="#111">0.9</text><text x="1816.7" y="984.3" font-size="14" font-weight="normal" text-anchor="middle" fill="#111">0.8</text><text x="1896.3" y="984.3" font-size="14" font-weight="normal" text-anchor="middle" fill="#111">0.9</text><text x="1976" y="984.3" font-size="14" font-weight="normal" text-anchor="middle" fill="#111">1.0</text><text x="1577.8" y="1064.2" font-size="14" font-weight="normal" text-anchor="middle" fill="#111">1.0</text><text x="1657.4" y="1064.2" font-size="14" font-weight="normal" text-anchor="middle" fill="#111">1.1</text><text x="1737.1" y="1064.2" font-size="14" font-weight="normal" text-anchor="middle" fill="#111">1.0</text><text x="1816.7" y="1064.2" font-size="14" font-weight="normal" text-anchor="middle" fill="#111">1.1</text><text x="1896.3" y="1064.2" font-size="14" font-weight="normal" text-anchor="middle" fill="#111">1.0</text><text x="1976" y="1064.2" font-size="14" font-weight="normal" text-anchor="middle" fill="#111">1.2</text><text x="1577.8" y="1144.2" font-size="14" font-weight="normal" text-anchor="middle" fill="#111">1.0</text><text x="1657.4" y="1144.2" font-size="14" font-weight="normal" text-anchor="middle" fill="#111">1.4</text><text x="1737.1" y="1144.2" font-size="14" font-weight="normal" text-anchor="middle" fill="#111">1.2</text><text x="1816.7" y="1144.2" font-size="14" font-weight="normal" text-anchor="middle" fill="#111">1.2</text><text x="1896.3" y="1144.2" font-size="14" font-weight="normal" text-anchor="middle" fill="#111">1.1</text><text x="1976" y="1144.2" font-size="14" font-weight="normal" text-anchor="middle" fill="#111">1.2</text><text x="1577.8" y="1224.1" font-size="14" font-weight="normal" text-anchor="middle" fill="#111">1.0</text><text x="1657.4" y="1224.1" font-size="14" font-weight="normal" text-anchor="middle" fill="#111">1.1</text><text x="1737.1" y="1224.1" font-size="14" font-weight="normal" text-anchor="middle" fill="#111">1.0</text><text x="1816.7" y="1224.1" font-size="14" font-weight="normal" text-anchor="middle" fill="#111">1.0</text><text x="1896.3" y="1224.1" font-size="14" font-weight="normal" text-anchor="middle" fill="#111">1.1</text><text x="1976" y="1224.1" font-size="14" font-weight="normal" text-anchor="middle" fill="#111">1.2</text><text x="1577.8" y="1304.1" font-size="14" font-weight="normal" text-anchor="middle" fill="#111">1.0</text><text x="1657.4" y="1304.1" font-size="14" font-weight="normal" text-anchor="middle" fill="#111">2.5</text><text x="1737.1" y="1304.1" font-size="14" font-weight="normal" text-anchor="middle" fill="#111">1.1</text><text x="1816.7" y="1304.1" font-size="14" font-weight="normal" text-anchor="middle" fill="#111">0.8</text><text x="1896.3" y="1304.1" font-size="14" font-weight="normal" text-anchor="middle" fill="#111">1.2</text><text x="1976" y="1304.1" font-size="14" font-weight="normal" text-anchor="middle" fill="#111">2.4</text><text x="1577.8" y="1384" font-size="14" font-weight="normal" text-anchor="middle" fill="#111">1.0</text><text x="1657.4" y="1384" font-size="14" font-weight="normal" text-anchor="middle" fill="#111">1.9</text><text x="1737.1" y="1384" font-size="14" font-weight="normal" text-anchor="middle" fill="#111">0.6</text><text x="1816.7" y="1384" font-size="14" font-weight="normal" text-anchor="middle" fill="#111">1.0</text><text x="1896.3" y="1384" font-size="14" font-weight="normal" text-anchor="middle" fill="#111">2.1</text><text x="1976" y="1384" font-size="14" font-weight="normal" text-anchor="middle" fill="#111">3.6</text><rect x="1538.0" y="779.4" width="477.8" height="639.6" fill="none" stroke="#000" stroke-width="3.4"/><line x1="1531.5" y1="819.4" x2="1538.0" y2="819.4" stroke="#000" stroke-width="2.2"/><text x="1529.5" y="824.7" font-size="15" font-weight="bold" text-anchor="end" fill="#000">A: IM-5m/10P</text><line x1="1531.5" y1="899.3" x2="1538.0" y2="899.3" stroke="#000" stroke-width="2.2"/><text x="1529.5" y="904.6" font-size="15" font-weight="bold" text-anchor="end" fill="#000">B: IM-20m/10P</text><line x1="1531.5" y1="979.3" x2="1538.0" y2="979.3" stroke="#000" stroke-width="2.2"/><text x="1529.5" y="984.6" font-size="15" font-weight="bold" text-anchor="end" fill="#000">C: ID-5m/10P</text><line x1="1531.5" y1="1059.2" x2="1538.0" y2="1059.2" stroke="#000" stroke-width="2.2"/><text x="1529.5" y="1064.5" font-size="15" font-weight="bold" text-anchor="end" fill="#000">D: ID-20m/10P</text><line x1="1531.5" y1="1139.2" x2="1538.0" y2="1139.2" stroke="#000" stroke-width="2.2"/><text x="1529.5" y="1144.5" font-size="15" font-weight="bold" text-anchor="end" fill="#000">E: IM-20m/5m</text><line x1="1531.5" y1="1219.1" x2="1538.0" y2="1219.1" stroke="#000" stroke-width="2.2"/><text x="1529.5" y="1224.4" font-size="15" font-weight="bold" text-anchor="end" fill="#000">F: ID-20m/5m</text><line x1="1531.5" y1="1299.1" x2="1538.0" y2="1299.1" stroke="#000" stroke-width="2.2"/><text x="1529.5" y="1304.4" font-size="15" font-weight="bold" text-anchor="end" fill="#000">G: IM-10P/10P</text><line x1="1531.5" y1="1379" x2="1538.0" y2="1379" stroke="#000" stroke-width="2.2"/><text x="1529.5" y="1384.3" font-size="15" font-weight="bold" text-anchor="end" fill="#000">H: ID-10P/10P</text><line x1="1577.8" y1="1419" x2="1577.8" y2="1424" stroke="#000" stroke-width="2.2"/><text x="1577.8" y="1441.6" font-size="15" font-weight="bold" text-anchor="middle" fill="#000">Wuhan</text><line x1="1657.4" y1="1419" x2="1657.4" y2="1424" stroke="#000" stroke-width="2.2"/><text x="1657.4" y="1441.6" font-size="15" font-weight="bold" text-anchor="middle" fill="#000">Alpha</text><line x1="1737.1" y1="1419" x2="1737.1" y2="1424" stroke="#000" stroke-width="2.2"/><text x="1737.1" y="1441.6" font-size="15" font-weight="bold" text-anchor="middle" fill="#000">Beta</text><line x1="1816.7" y1="1419" x2="1816.7" y2="1424" stroke="#000" stroke-width="2.2"/><text x="1816.7" y="1441.6" font-size="15" font-weight="bold" text-anchor="middle" fill="#000">Delta</text><line x1="1896.3" y1="1419" x2="1896.3" y2="1424" stroke="#000" stroke-width="2.2"/><text x="1896.3" y="1441.6" font-size="15" font-weight="bold" text-anchor="middle" fill="#000">Gamma</text><line x1="1976" y1="1419" x2="1976" y2="1424" stroke="#000" stroke-width="2.2"/><text x="1976" y="1441.6" font-size="15" font-weight="bold" text-anchor="middle" fill="#000">Omicron</text><linearGradient id="gD" x1="0" y1="1" x2="0" y2="0"><stop offset="0" stop-color="#9ccaf3"/><stop offset="0.09" stop-color="#ffffff"/><stop offset="1" stop-color="#ff0000"/></linearGradient><rect x="2040.7" y="779.4" width="24.8" height="639.6" fill="url(#gD)" stroke="#000" stroke-width="2.4"/><text x="2072.5" y="786.7" font-size="17" font-weight="normal" text-anchor="start" fill="#000">5</text><line x1="2041" y1="925.5" x2="2045" y2="925.5" stroke="#000" stroke-width="1.8"/><line x1="2061.2" y1="925.5" x2="2065.5" y2="925.5" stroke="#000" stroke-width="1.8"/><text x="2072.5" y="931.7" font-size="17" font-weight="normal" text-anchor="start" fill="#000">4</text><line x1="2041" y1="1070.5" x2="2045" y2="1070.5" stroke="#000" stroke-width="1.8"/><line x1="2061.2" y1="1070.5" x2="2065.5" y2="1070.5" stroke="#000" stroke-width="1.8"/><text x="2072.5" y="1076.7" font-size="17" font-weight="normal" text-anchor="start" fill="#000">3</text><line x1="2041" y1="1215.5" x2="2045" y2="1215.5" stroke="#000" stroke-width="1.8"/><line x1="2061.2" y1="1215.5" x2="2065.5" y2="1215.5" stroke="#000" stroke-width="1.8"/><text x="2072.5" y="1221.7" font-size="17" font-weight="normal" text-anchor="start" fill="#000">2</text><line x1="2041" y1="1360.5" x2="2045" y2="1360.5" stroke="#000" stroke-width="1.8"/><line x1="2061.2" y1="1360.5" x2="2065.5" y2="1360.5" stroke="#000" stroke-width="1.8"/><text x="2072.5" y="1366.7" font-size="17" font-weight="normal" text-anchor="start" fill="#000">1</text><text x="23" y="1526.3" font-size="55.5" font-weight="bold" text-anchor="start" fill="#000">E</text><text x="186.3" y="1508.4" font-size="37.5" font-weight="normal" text-anchor="middle" fill="#000">control</text><text x="325.3" y="1508.4" font-size="37.5" font-weight="normal" text-anchor="middle" fill="#000">A</text><text x="480.8" y="1508.4" font-size="37.5" font-weight="normal" text-anchor="middle" fill="#000">B</text><text x="630.5" y="1508.4" font-size="37.5" font-weight="normal" text-anchor="middle" fill="#000">C</text><text x="788.4" y="1508.4" font-size="37.5" font-weight="normal" text-anchor="middle" fill="#000">D</text><text x="941.2" y="1508.4" font-size="37.5" font-weight="normal" text-anchor="middle" fill="#000">E</text><text x="1095.2" y="1508.4" font-size="37.5" font-weight="normal" text-anchor="middle" fill="#000">F</text><text x="1244.7" y="1508.4" font-size="37.5" font-weight="normal" text-anchor="middle" fill="#000">G</text><text x="1398.4" y="1508.4" font-size="37.5" font-weight="normal" text-anchor="middle" fill="#000">H</text><text x="1487" y="1602.9" font-size="37.5" font-weight="normal" text-anchor="start" fill="#000">WT</text><text x="1487" y="1750.1" font-size="37.5" font-weight="normal" text-anchor="start" fill="#000">Alpha</text><text x="1484" y="1906" font-size="37.5" font-weight="normal" text-anchor="start" fill="#000">Beta</text><text x="1485" y="2056.8" font-size="37.5" font-weight="normal" text-anchor="start" fill="#000">Gamma</text><text x="1484" y="2204.6" font-size="37.5" font-weight="normal" text-anchor="start" fill="#000">Delta</text><text x="1485" y="2356.3" font-size="37.5" font-weight="normal" text-anchor="start" fill="#000">Omicron</text><defs><filter id="fcl" x="0" y="0" width="1" height="1" color-interpolation-filters="sRGB"><feTurbulence type="fractalNoise" baseFrequency="0.022" numOctaves="2" seed="9"/><feColorMatrix type="matrix" values="0 0 0 0 0.30 0 0 0 0 0.27 0 0 0 0 0.38 3.2 0 0 0 -1.35"/><feComposite in2="SourceGraphic" operator="in"/></filter><filter id="fd3" x="0" y="0" width="1" height="1" color-interpolation-filters="sRGB"><feTurbulence type="fractalNoise" baseFrequency="0.3" numOctaves="1" seed="5"/><feColorMatrix type="matrix" values="0 0 0 0 0.30 0 0 0 0 0.27 0 0 0 0 0.38 5 0 0 0 -2.8"/><feComposite in2="SourceGraphic" operator="in"/></filter><pattern id="pda" patternUnits="userSpaceOnUse" width="211" height="197"><g fill="#4a3f66"><circle cx="122.6" cy="38.4" r="2.3"/><circle cx="195" cy="92" r="2.3"/><circle cx="45.3" cy="43.7" r="1.6"/><circle cx="102.4" cy="154.3" r="1.6"/><circle cx="204.9" cy="13.9" r="1.3"/><circle cx="34" cy="87.7" r="2.3"/><circle cx="77.3" cy="92.9" r="1.6"/><circle cx="50.4" cy="155.9" r="1.9"/><circle cx="43.9" cy="84.7" r="1.6"/><circle cx="44.7" cy="128.5" r="2.3"/><circle cx="143.5" cy="131" r="1.6"/><circle cx="83.3" cy="74.7" r="1.9"/><circle cx="16.2" cy="146.7" r="1.9"/><circle cx="1.4" cy="91.4" r="2.3"/><circle cx="20" cy="156.7" r="1.6"/><circle cx="148.7" cy="1.9" r="2.3"/><circle cx="172.9" cy="194.2" r="1.9"/><circle cx="38.2" cy="13" r="1.3"/><circle cx="85.4" cy="195.2" r="1.6"/><circle cx="189.1" cy="112.1" r="1.3"/><circle cx="105.2" cy="172.6" r="1.6"/><circle cx="183.2" cy="35.7" r="2.3"/><circle cx="144.2" cy="1.2" r="1.0"/><circle cx="13.9" cy="113.4" r="2.3"/><circle cx="199.6" cy="172.5" r="1.0"/><circle cx="142.6" cy="120.1" r="2.3"/><circle cx="170.8" cy="156.1" r="1.3"/><circle cx="144.7" cy="182.1" r="1.3"/><circle cx="155.8" cy="175.8" r="1.9"/><circle cx="205.7" cy="190.8" r="1.0"/><circle cx="202" cy="174.2" r="1.6"/><circle cx="79.1" cy="11.7" r="2.3"/><circle cx="145.4" cy="69" r="1.0"/><circle cx="40.6" cy="133.8" r="1.6"/><circle cx="19.1" cy="184.6" r="1.6"/><circle cx="98.4" cy="83.7" r="2.3"/><circle cx="207" cy="177.5" r="1.6"/><circle cx="51.6" cy="55.3" r="1.3"/><circle cx="2.6" cy="124.7" r="2.3"/><circle cx="96.8" cy="112.2" r="1.6"/><circle cx="50.3" cy="53.8" r="1.3"/><circle cx="116.5" cy="105.5" r="1.6"/><circle cx="3.9" cy="26.3" r="1.6"/><circle cx="143.2" cy="176.1" r="1.9"/><circle cx="134.7" cy="146.8" r="2.3"/><circle cx="14" cy="29.2" r="1.0"/><circle cx="30.8" cy="23.9" r="1.0"/><circle cx="94.4" cy="131" r="1.6"/><circle cx="108.3" cy="123.4" r="1.3"/><circle cx="26.9" cy="107.5" r="1.6"/><circle cx="63.3" cy="59.3" r="1.6"/><circle cx="50.8" cy="85.7" r="1.9"/><circle cx="205.5" cy="148" r="1.3"/><circle cx="10.5" cy="195.6" r="1.9"/><circle cx="92.5" cy="10.2" r="2.3"/><circle cx="149.9" cy="187.3" r="1.9"/><circle cx="205.7" cy="121.8" r="1.0"/><circle cx="2.8" cy="182.7" r="1.6"/><circle cx="162.5" cy="188" r="1.9"/><circle cx="157.6" cy="169" r="1.0"/><circle cx="7.5" cy="171.4" r="2.3"/><circle cx="134.7" cy="136.2" r="2.3"/><circle cx="168.4" cy="66.8" r="1.0"/><circle cx="31" cy="140.6" r="1.9"/><circle cx="22.9" cy="1.3" r="1.6"/><circle cx="45.7" cy="156.9" r="1.0"/><circle cx="207.1" cy="144.5" r="1.3"/><circle cx="36.3" cy="180.5" r="1.3"/><circle cx="94.7" cy="7.4" r="1.3"/><circle cx="189.1" cy="185.6" r="2.3"/><circle cx="185.7" cy="20.7" r="2.3"/><circle cx="197.2" cy="65.6" r="2.3"/><circle cx="190.7" cy="113.6" r="1.9"/><circle cx="191.5" cy="21.6" r="1.0"/><circle cx="94.6" cy="112.4" r="2.3"/><circle cx="127.1" cy="195.8" r="1.9"/><circle cx="159.1" cy="137.9" r="1.0"/><circle cx="60.8" cy="104.6" r="1.0"/><circle cx="62.7" cy="46.3" r="1.9"/><circle cx="138.4" cy="74.7" r="1.6"/><circle cx="147.1" cy="47.3" r="1.9"/><circle cx="189.4" cy="92.5" r="1.3"/><circle cx="86.1" cy="117.9" r="1.9"/><circle cx="92.6" cy="182.4" r="1.6"/><circle cx="159.9" cy="149" r="1.3"/><circle cx="69.5" cy="7.6" r="1.6"/><circle cx="110.9" cy="6.6" r="1.9"/><circle cx="27.1" cy="116.8" r="2.3"/><circle cx="77.9" cy="156.1" r="1.9"/><circle cx="130.2" cy="193" r="1.0"/><circle cx="95.6" cy="59.5" r="1.3"/><circle cx="139.5" cy="73.1" r="1.0"/><circle cx="179.8" cy="75.7" r="1.6"/><circle cx="12" cy="0.5" r="1.3"/><circle cx="103.2" cy="77.1" r="1.0"/><circle cx="193.4" cy="36.7" r="1.9"/><circle cx="56.9" cy="191.3" r="1.3"/><circle cx="144.4" cy="56.1" r="1.9"/><circle cx="29.1" cy="32.4" r="1.9"/><circle cx="62.7" cy="45.5" r="2.3"/><circle cx="9.9" cy="104.5" r="1.0"/><circle cx="158.7" cy="96.5" r="1.9"/><circle cx="132" cy="122.8" r="1.3"/><circle cx="77" cy="94.6" r="1.3"/><circle cx="162.5" cy="146.3" r="1.9"/><circle cx="21.4" cy="150" r="1.0"/><circle cx="210.5" cy="12.1" r="1.9"/><circle cx="57.4" cy="68.1" r="1.9"/><circle cx="34.7" cy="15.1" r="1.3"/><circle cx="182.8" cy="168" r="2.3"/><circle cx="107.6" cy="188.7" r="1.9"/><circle cx="161" cy="179.6" r="1.0"/><circle cx="79.1" cy="164.5" r="1.0"/><circle cx="2.7" cy="50.3" r="1.3"/><circle cx="111.6" cy="110.8" r="1.6"/><circle cx="111.6" cy="114.6" r="1.3"/><circle cx="116.5" cy="144.1" r="1.0"/><circle cx="40.7" cy="10.1" r="1.3"/><circle cx="174.4" cy="23.5" r="1.3"/><circle cx="101.8" cy="191.2" r="1.3"/><circle cx="29.6" cy="31.2" r="1.9"/><circle cx="101.5" cy="11.7" r="1.6"/><circle cx="170" cy="14.7" r="1.6"/><circle cx="37.8" cy="0.9" r="1.6"/><circle cx="7.9" cy="52.6" r="1.3"/><circle cx="209.8" cy="170.1" r="1.9"/><circle cx="51.9" cy="169.9" r="1.6"/><circle cx="31" cy="182.4" r="1.6"/><circle cx="73.9" cy="174.6" r="1.9"/><circle cx="67.4" cy="113" r="1.6"/><circle cx="201.9" cy="101.7" r="1.9"/><circle cx="205.8" cy="31.1" r="1.3"/><circle cx="150.6" cy="2.2" r="1.0"/><circle cx="111.4" cy="162.3" r="1.3"/><circle cx="52.9" cy="87.8" r="2.3"/><circle cx="44.2" cy="20.6" r="1.9"/><circle cx="190" cy="158.1" r="1.9"/><circle cx="185" cy="2.3" r="1.3"/><circle cx="130.4" cy="98.8" r="1.9"/><circle cx="12.9" cy="139.9" r="1.6"/><circle cx="129.7" cy="135.3" r="1.3"/><circle cx="166.4" cy="109.6" r="1.6"/><circle cx="165.1" cy="34" r="1.0"/><circle cx="81.4" cy="196.8" r="2.3"/><circle cx="42.4" cy="171.2" r="2.3"/><circle cx="102.1" cy="29.6" r="1.6"/><circle cx="36.4" cy="97.7" r="1.3"/><circle cx="65.3" cy="86.9" r="1.0"/><circle cx="88.7" cy="86.4" r="1.0"/><circle cx="146.8" cy="68.5" r="1.0"/><circle cx="169" cy="72.1" r="2.3"/><circle cx="69.1" cy="13.6" r="1.0"/><circle cx="167.1" cy="92.3" r="1.6"/><circle cx="47.1" cy="157.3" r="1.3"/><circle cx="177.9" cy="39.9" r="1.3"/><circle cx="109" cy="56.2" r="2.3"/><circle cx="21.7" cy="140" r="1.6"/><circle cx="146" cy="5.5" r="1.3"/><circle cx="128.9" cy="131.9" r="2.3"/><circle cx="59.6" cy="112.2" r="1.3"/><circle cx="87.8" cy="100.2" r="1.3"/><circle cx="91.7" cy="12.1" r="1.6"/><circle cx="78.3" cy="162.6" r="1.3"/><circle cx="160.6" cy="154.1" r="1.0"/><circle cx="205.6" cy="172.6" r="1.0"/><circle cx="64.9" cy="53.9" r="1.6"/><circle cx="3.8" cy="43.5" r="1.0"/><circle cx="111.5" cy="56.6" r="2.3"/><circle cx="84.2" cy="90.6" r="1.0"/><circle cx="84.6" cy="176.4" r="1.9"/><circle cx="151" cy="66.1" r="1.9"/><circle cx="14.7" cy="21.3" r="1.6"/><circle cx="115.5" cy="152.2" r="1.0"/><circle cx="88.4" cy="30.4" r="1.3"/><circle cx="103.1" cy="21.7" r="2.3"/><circle cx="167.1" cy="179.6" r="2.3"/><circle cx="59.5" cy="147.6" r="1.9"/><circle cx="16" cy="31.6" r="1.6"/><circle cx="70.9" cy="193.1" r="1.3"/><circle cx="18.1" cy="39.3" r="2.3"/><circle cx="156.7" cy="168.6" r="1.0"/><circle cx="176" cy="142.2" r="1.3"/><circle cx="73.7" cy="119.6" r="1.0"/><circle cx="85.5" cy="132" r="1.9"/><circle cx="139.7" cy="142.3" r="1.0"/><circle cx="186.4" cy="40.3" r="1.3"/><circle cx="102" cy="143.8" r="1.3"/><circle cx="89.3" cy="74.9" r="2.3"/><circle cx="129.3" cy="158.4" r="1.0"/><circle cx="161.5" cy="101.2" r="1.9"/><circle cx="31.5" cy="128.4" r="1.3"/><circle cx="142.6" cy="50.1" r="2.3"/><circle cx="116" cy="139.6" r="1.3"/><circle cx="22.3" cy="88.8" r="1.3"/><circle cx="148.3" cy="11" r="2.3"/><circle cx="150.9" cy="25.5" r="1.3"/><circle cx="70.4" cy="95.1" r="1.0"/><circle cx="10.1" cy="42" r="1.3"/><circle cx="104.3" cy="109.8" r="1.0"/><circle cx="199.1" cy="196.1" r="1.6"/><circle cx="161.9" cy="47.7" r="1.6"/><circle cx="37.6" cy="119.4" r="1.9"/><circle cx="181.4" cy="184.5" r="2.3"/><circle cx="15.7" cy="2.1" r="1.0"/><circle cx="25.5" cy="13.5" r="1.3"/><circle cx="204.8" cy="141.1" r="2.3"/><circle cx="166.3" cy="179.3" r="1.6"/><circle cx="133.9" cy="123.5" r="1.0"/><circle cx="188.8" cy="25.4" r="2.3"/><circle cx="23.3" cy="86" r="1.6"/><circle cx="161.6" cy="22.1" r="1.9"/><circle cx="69.5" cy="30.4" r="1.6"/><circle cx="171.6" cy="113.8" r="1.3"/><circle cx="67.7" cy="29.2" r="1.9"/><circle cx="89.8" cy="146" r="1.0"/><circle cx="115.5" cy="160.7" r="1.3"/><circle cx="169.1" cy="7.5" r="1.9"/><circle cx="101.2" cy="109.5" r="2.3"/><circle cx="61" cy="159.9" r="1.6"/><circle cx="74.8" cy="49.9" r="1.3"/><circle cx="87.3" cy="40.7" r="1.6"/><circle cx="196.5" cy="186.7" r="1.3"/><circle cx="67.4" cy="20.3" r="2.3"/><circle cx="110.9" cy="153.7" r="2.3"/><circle cx="104" cy="196.7" r="1.6"/><circle cx="53.2" cy="151.1" r="1.0"/><circle cx="4.2" cy="165.3" r="1.6"/><circle cx="195.2" cy="83.5" r="1.0"/><circle cx="52.9" cy="182.3" r="1.3"/><circle cx="97.5" cy="144.1" r="1.3"/><circle cx="140.2" cy="105.8" r="2.3"/><circle cx="144.3" cy="153.8" r="2.3"/><circle cx="14" cy="20.9" r="1.6"/><circle cx="151" cy="112.9" r="1.0"/><circle cx="38.3" cy="97.8" r="1.3"/><circle cx="210.8" cy="71.4" r="1.6"/><circle cx="166" cy="192.2" r="1.9"/><circle cx="14.2" cy="96.6" r="1.9"/><circle cx="196.4" cy="81.1" r="1.3"/><circle cx="201.8" cy="54.3" r="2.3"/><circle cx="207.7" cy="125.9" r="2.3"/><circle cx="133.8" cy="135.5" r="1.3"/><circle cx="86.6" cy="96.1" r="1.0"/><circle cx="51.6" cy="194.2" r="1.9"/><circle cx="107.3" cy="159.3" r="1.0"/><circle cx="5.5" cy="85.2" r="1.6"/><circle cx="199.2" cy="72.8" r="2.3"/><circle cx="122.4" cy="141.5" r="1.6"/><circle cx="27.9" cy="181" r="2.3"/><circle cx="161.1" cy="60.4" r="2.3"/><circle cx="168.6" cy="110.6" r="2.3"/><circle cx="115.1" cy="147.1" r="1.9"/><circle cx="206.3" cy="60.4" r="2.3"/><circle cx="178.3" cy="107.1" r="1.9"/><circle cx="12.9" cy="73.8" r="2.3"/><circle cx="154.6" cy="44.6" r="1.9"/><circle cx="53.8" cy="168.3" r="1.6"/><circle cx="95.4" cy="140" r="1.9"/><circle cx="173.7" cy="101.8" r="2.3"/><circle cx="119.7" cy="134.6" r="1.3"/><circle cx="89.2" cy="72.3" r="2.3"/><circle cx="108.2" cy="77.5" r="1.6"/><circle cx="102.1" cy="196.7" r="2.3"/><circle cx="151.2" cy="104.6" r="1.0"/><circle cx="195.4" cy="23" r="1.0"/><circle cx="192.3" cy="44.1" r="1.3"/><circle cx="68.5" cy="39.1" r="1.0"/><circle cx="156.7" cy="43.8" r="1.3"/><circle cx="133.2" cy="190.3" r="1.6"/><circle cx="185.2" cy="50" r="1.9"/><circle cx="15.4" cy="70.9" r="1.3"/><circle cx="120.8" cy="153.2" r="1.9"/><circle cx="30.8" cy="125.5" r="1.0"/><circle cx="176.8" cy="94.3" r="1.3"/><circle cx="131.5" cy="9.1" r="1.3"/><circle cx="209.9" cy="33.5" r="1.3"/><circle cx="113.8" cy="60.4" r="2.3"/><circle cx="208.6" cy="165" r="1.6"/><circle cx="88.5" cy="46.1" r="1.0"/><circle cx="86.6" cy="120.9" r="2.3"/><circle cx="133.3" cy="94.3" r="1.6"/><circle cx="67.2" cy="153.7" r="2.3"/><circle cx="176.7" cy="126.9" r="1.6"/><circle cx="72.8" cy="124" r="2.3"/><circle cx="55" cy="118.6" r="2.3"/><circle cx="102.1" cy="82.2" r="1.9"/><circle cx="132.9" cy="88" r="1.0"/><circle cx="193" cy="161.8" r="1.9"/><circle cx="70.7" cy="189.1" r="1.6"/><circle cx="5.7" cy="44.8" r="2.3"/><circle cx="208" cy="39.7" r="1.9"/><circle cx="125.7" cy="145.9" r="1.3"/><circle cx="108.6" cy="156.8" r="1.6"/><circle cx="105.7" cy="94.1" r="1.3"/><circle cx="138.9" cy="31.6" r="1.3"/><circle cx="10.1" cy="196.6" r="2.3"/><circle cx="74.5" cy="71.3" r="1.0"/><circle cx="20.3" cy="71.2" r="2.3"/><circle cx="188" cy="43.3" r="1.3"/><circle cx="87.2" cy="2.1" r="1.0"/><circle cx="198.5" cy="188.9" r="1.6"/><circle cx="202.8" cy="147.7" r="2.3"/><circle cx="111.9" cy="111.4" r="1.9"/><circle cx="95.1" cy="164.1" r="1.9"/><circle cx="193.4" cy="178.6" r="1.0"/><circle cx="20" cy="34.1" r="1.6"/><circle cx="194.7" cy="36.8" r="1.6"/><circle cx="22.1" cy="76.2" r="2.3"/><circle cx="169" cy="161.9" r="1.0"/><circle cx="145.9" cy="9" r="1.0"/><circle cx="156.8" cy="152.3" r="1.9"/><circle cx="173.1" cy="150" r="1.0"/><circle cx="48" cy="192.1" r="1.0"/><circle cx="73.7" cy="48.4" r="2.3"/><circle cx="159" cy="20.8" r="2.3"/><circle cx="150.5" cy="67.7" r="1.9"/><circle cx="38.1" cy="47.5" r="1.0"/><circle cx="166.6" cy="100.3" r="1.0"/><circle cx="108.1" cy="36.1" r="1.9"/><circle cx="136.7" cy="191.7" r="1.3"/><circle cx="60.7" cy="69.7" r="1.0"/><circle cx="164" cy="45.4" r="1.0"/><circle cx="128.7" cy="76.5" r="1.6"/><circle cx="55.1" cy="48.7" r="1.3"/><circle cx="18.9" cy="147.3" r="1.0"/><circle cx="106.5" cy="130" r="1.0"/><circle cx="143.2" cy="50.6" r="1.9"/><circle cx="138.5" cy="161.5" r="1.9"/><circle cx="70.6" cy="68.9" r="1.6"/><circle cx="193.3" cy="78.3" r="2.3"/><circle cx="61.5" cy="123.6" r="1.9"/><circle cx="13" cy="152.5" r="1.0"/><circle cx="91.6" cy="168.7" r="1.3"/><circle cx="0.4" cy="57.9" r="2.3"/><circle cx="128.2" cy="68.8" r="1.3"/><circle cx="80.2" cy="153.3" r="1.6"/><circle cx="68.9" cy="169.1" r="1.0"/><circle cx="74.1" cy="154.9" r="2.3"/><circle cx="89.4" cy="161.1" r="1.6"/><circle cx="67.7" cy="172.5" r="1.6"/><circle cx="98.1" cy="196.6" r="1.3"/><circle cx="25.4" cy="77" r="1.9"/><circle cx="62.3" cy="120.7" r="1.3"/><circle cx="97.9" cy="174.5" r="1.0"/><circle cx="183.7" cy="186.4" r="1.0"/><circle cx="3.5" cy="71.6" r="1.3"/><circle cx="78.2" cy="3.5" r="1.3"/><circle cx="110.8" cy="171.2" r="1.9"/><circle cx="123.7" cy="87.2" r="1.3"/><circle cx="162.1" cy="135.7" r="1.6"/><circle cx="70.3" cy="23.9" r="1.3"/><circle cx="175.4" cy="164" r="1.6"/><circle cx="130.6" cy="49.5" r="1.9"/><circle cx="189.1" cy="140.5" r="1.0"/><circle cx="170.5" cy="27.2" r="2.3"/><circle cx="71.1" cy="9.8" r="1.9"/><circle cx="176.9" cy="161.1" r="1.6"/><circle cx="149.2" cy="99.1" r="2.3"/><circle cx="58.6" cy="117" r="1.9"/><circle cx="107.8" cy="23.3" r="1.6"/><circle cx="30.6" cy="1.9" r="1.0"/><circle cx="46.2" cy="160" r="1.6"/><circle cx="105.1" cy="153.6" r="2.3"/><circle cx="199.3" cy="84.9" r="1.6"/><circle cx="154.4" cy="70.1" r="1.6"/><circle cx="105.4" cy="165.7" r="1.3"/><circle cx="121.3" cy="130.7" r="1.9"/><circle cx="101.1" cy="96.8" r="1.3"/><circle cx="186.5" cy="63.8" r="1.9"/><circle cx="161.6" cy="72.4" r="1.0"/><circle cx="16.2" cy="85.2" r="1.0"/><circle cx="118.5" cy="51.8" r="2.3"/><circle cx="85.3" cy="9.6" r="1.0"/><circle cx="158" cy="30" r="1.3"/><circle cx="99.6" cy="14.3" r="2.3"/><circle cx="104.3" cy="160.3" r="2.3"/><circle cx="13.9" cy="7.8" r="1.9"/><circle cx="106.3" cy="96.9" r="1.6"/><circle cx="17.9" cy="86" r="1.0"/><circle cx="103.1" cy="133.4" r="1.6"/><circle cx="155.9" cy="175.4" r="1.3"/><circle cx="152.7" cy="78.2" r="1.0"/><circle cx="126.6" cy="143.2" r="1.3"/><circle cx="117" cy="1.1" r="1.9"/><circle cx="124.9" cy="193.3" r="1.6"/><circle cx="140.1" cy="163.7" r="2.3"/><circle cx="87.6" cy="3" r="2.3"/><circle cx="161.3" cy="18.1" r="1.0"/><circle cx="86" cy="63.3" r="2.3"/><circle cx="32.1" cy="164.7" r="2.3"/><circle cx="152.8" cy="78.5" r="2.3"/><circle cx="194.3" cy="66.3" r="1.9"/><circle cx="140.9" cy="106.7" r="1.0"/><circle cx="147.6" cy="189.9" r="1.0"/><circle cx="90.7" cy="121.9" r="1.6"/><circle cx="30.4" cy="51.7" r="2.3"/><circle cx="21" cy="7.4" r="1.9"/><circle cx="79.3" cy="92.5" r="1.3"/><circle cx="192.8" cy="196.4" r="1.0"/><circle cx="19.6" cy="184.6" r="1.0"/><circle cx="78.2" cy="149.5" r="2.3"/><circle cx="32.7" cy="162.9" r="2.3"/><circle cx="88.5" cy="186.8" r="1.9"/><circle cx="5.4" cy="129.2" r="1.9"/><circle cx="27.4" cy="54.5" r="1.3"/><circle cx="104.5" cy="114.6" r="2.3"/><circle cx="55.1" cy="37.3" r="1.9"/><circle cx="19.6" cy="158.4" r="1.0"/><circle cx="109.3" cy="65.3" r="1.6"/><circle cx="19.9" cy="148.1" r="1.6"/><circle cx="189.6" cy="120.9" r="1.0"/><circle cx="165.5" cy="191.6" r="1.0"/><circle cx="80.8" cy="92.1" r="1.9"/><circle cx="56.8" cy="74.1" r="1.3"/><circle cx="207.2" cy="167.8" r="1.3"/><circle cx="21.1" cy="141.3" r="1.6"/><circle cx="98.1" cy="44.2" r="1.3"/><circle cx="179.7" cy="88.9" r="1.9"/><circle cx="82.5" cy="147.6" r="1.0"/><circle cx="102.4" cy="35.8" r="1.9"/><circle cx="163.3" cy="22.6" r="1.9"/><circle cx="204.1" cy="175.3" r="1.9"/><circle cx="130.1" cy="196.3" r="1.6"/><circle cx="86.1" cy="40.6" r="1.0"/><circle cx="0.3" cy="62.3" r="1.0"/><circle cx="83.7" cy="56.3" r="1.3"/><circle cx="144.4" cy="48.3" r="1.3"/><circle cx="126.6" cy="191.5" r="1.9"/><circle cx="57.4" cy="34.7" r="1.9"/><circle cx="112" cy="58" r="1.6"/><circle cx="167.6" cy="59.5" r="2.3"/><circle cx="200.9" cy="20.3" r="2.3"/><circle cx="37.2" cy="71.1" r="1.6"/><circle cx="55.4" cy="119" r="1.6"/><circle cx="181.9" cy="130.7" r="1.0"/><circle cx="85.3" cy="20.3" r="1.0"/><circle cx="195.4" cy="45" r="2.3"/><circle cx="177.1" cy="180.8" r="1.0"/><circle cx="182.6" cy="102.8" r="2.3"/><circle cx="116.8" cy="46.8" r="1.0"/><circle cx="89.4" cy="35.7" r="1.0"/><circle cx="50.1" cy="75.3" r="1.0"/><circle cx="145.6" cy="163.8" r="1.6"/><circle cx="24.3" cy="99.6" r="2.3"/><circle cx="198.9" cy="127" r="1.0"/><circle cx="70.9" cy="116.4" r="2.3"/><circle cx="158.7" cy="85.5" r="1.0"/><circle cx="87.7" cy="91.4" r="1.3"/><circle cx="106.4" cy="196" r="1.6"/><circle cx="209.2" cy="135.1" r="1.6"/><circle cx="61.4" cy="74.5" r="1.3"/><circle cx="84.5" cy="172.7" r="2.3"/><circle cx="129.5" cy="88.3" r="1.3"/><circle cx="201.3" cy="58.1" r="1.0"/><circle cx="67.7" cy="192.3" r="1.0"/><circle cx="82.7" cy="136.3" r="1.3"/><circle cx="20.7" cy="135.6" r="2.3"/><circle cx="51.3" cy="60.2" r="1.0"/><circle cx="32" cy="40.9" r="1.9"/><circle cx="50.6" cy="36.7" r="1.9"/><circle cx="94.3" cy="20" r="1.9"/><circle cx="124.2" cy="86.5" r="1.9"/><circle cx="4.8" cy="126.2" r="1.6"/><circle cx="184.8" cy="148.6" r="1.9"/><circle cx="94.4" cy="42.1" r="1.3"/><circle cx="200.8" cy="34.6" r="1.0"/><circle cx="13.9" cy="144.5" r="1.0"/><circle cx="157.1" cy="60" r="2.3"/><circle cx="85.3" cy="129.6" r="2.3"/><circle cx="0.5" cy="26.1" r="1.6"/><circle cx="156.4" cy="47.2" r="1.0"/><circle cx="85.3" cy="131.3" r="1.3"/><circle cx="81.7" cy="35.2" r="1.3"/><circle cx="197.2" cy="79.6" r="1.0"/><circle cx="11.5" cy="156.1" r="1.9"/><circle cx="135.9" cy="104.9" r="1.3"/><circle cx="154.9" cy="106.5" r="1.0"/><circle cx="207.1" cy="72.8" r="1.3"/><circle cx="153.3" cy="56" r="1.3"/><circle cx="110.1" cy="16" r="1.0"/><circle cx="47.4" cy="6.9" r="1.6"/><circle cx="75.1" cy="96.7" r="1.6"/><circle cx="91.2" cy="65.9" r="1.3"/><circle cx="181.5" cy="45.5" r="1.3"/><circle cx="92.4" cy="48.7" r="1.6"/><circle cx="21.5" cy="187.8" r="1.3"/><circle cx="207.9" cy="77.5" r="1.3"/><circle cx="30" cy="152.5" r="1.0"/><circle cx="84.1" cy="51.8" r="1.3"/><circle cx="57.6" cy="6.6" r="1.0"/><circle cx="85.1" cy="25.9" r="1.3"/><circle cx="94" cy="163.2" r="1.6"/><circle cx="11.5" cy="15.7" r="1.6"/><circle cx="4.4" cy="94.1" r="1.6"/><circle cx="79.1" cy="84.8" r="2.3"/><circle cx="146.9" cy="159.6" r="1.3"/><circle cx="8.9" cy="150.1" r="1.3"/><circle cx="115.2" cy="152.3" r="1.9"/><circle cx="93.1" cy="26.7" r="1.9"/><circle cx="49.9" cy="24.8" r="1.3"/><circle cx="208.5" cy="93.6" r="1.9"/><circle cx="92.8" cy="151.1" r="1.3"/><circle cx="146.5" cy="81.2" r="2.3"/><circle cx="39.7" cy="141.8" r="1.9"/><circle cx="115.1" cy="154.7" r="1.9"/><circle cx="203.9" cy="166.7" r="1.9"/><circle cx="141.3" cy="2.2" r="1.3"/><circle cx="37" cy="45.6" r="1.9"/><circle cx="30.3" cy="70.3" r="1.0"/><circle cx="195.5" cy="168" r="1.9"/><circle cx="117.2" cy="188.7" r="2.3"/><circle cx="169.3" cy="169.2" r="1.3"/><circle cx="185.2" cy="153" r="2.3"/><circle cx="90.3" cy="125.4" r="1.0"/><circle cx="114.8" cy="183.5" r="1.6"/><circle cx="11.6" cy="159" r="1.3"/><circle cx="87.5" cy="113.2" r="1.9"/><circle cx="144.4" cy="184.4" r="1.6"/><circle cx="63" cy="7.3" r="1.9"/><circle cx="168.7" cy="168.3" r="1.9"/><circle cx="74.9" cy="124.8" r="2.3"/><circle cx="136.5" cy="97.2" r="1.9"/><circle cx="115.2" cy="71.3" r="2.3"/><circle cx="29.7" cy="6" r="2.3"/><circle cx="18.6" cy="188.8" r="1.3"/><circle cx="19.8" cy="68.2" r="1.6"/><circle cx="117" cy="162.7" r="1.6"/><circle cx="3.5" cy="20.2" r="2.3"/><circle cx="162.1" cy="153.8" r="1.9"/><circle cx="128.4" cy="46.5" r="1.0"/><circle cx="71.8" cy="140.7" r="1.0"/><circle cx="154.4" cy="136.7" r="1.3"/><circle cx="175.5" cy="13.6" r="2.3"/><circle cx="123.9" cy="44.7" r="2.3"/><circle cx="138" cy="4.9" r="1.3"/><circle cx="202.9" cy="48.1" r="1.0"/><circle cx="122.7" cy="23.7" r="1.3"/><circle cx="185.3" cy="84.3" r="2.3"/><circle cx="36.7" cy="41.3" r="1.0"/><circle cx="93.5" cy="25.5" r="1.9"/><circle cx="6.9" cy="160.3" r="1.6"/><circle cx="76.7" cy="108.7" r="1.3"/><circle cx="192.6" cy="24.6" r="1.9"/><circle cx="71" cy="172.6" r="1.3"/><circle cx="53.3" cy="57.3" r="1.3"/><circle cx="44.8" cy="106.5" r="1.3"/><circle cx="173.2" cy="188.5" r="2.3"/><circle cx="194.7" cy="131.1" r="1.9"/><circle cx="195.3" cy="138.6" r="1.9"/><circle cx="81.5" cy="192.8" r="1.3"/><circle cx="27.6" cy="46.8" r="1.6"/><circle cx="15.2" cy="127.6" r="1.0"/><circle cx="137.2" cy="64.3" r="1.9"/><circle cx="161" cy="61.6" r="1.0"/><circle cx="157" cy="155" r="1.0"/><circle cx="83.4" cy="190.1" r="1.3"/><circle cx="91.8" cy="192.5" r="2.3"/><circle cx="191.5" cy="16.1" r="1.9"/><circle cx="70" cy="81.6" r="1.6"/><circle cx="172.7" cy="140.8" r="1.0"/><circle cx="92.1" cy="65.1" r="1.0"/><circle cx="60.2" cy="40.9" r="1.3"/><circle cx="155.9" cy="74" r="2.3"/><circle cx="198.8" cy="10.4" r="1.6"/><circle cx="168.1" cy="27.5" r="1.3"/><circle cx="206.3" cy="158.4" r="1.9"/><circle cx="65.9" cy="156.1" r="1.9"/><circle cx="61.4" cy="29.3" r="1.0"/><circle cx="205.3" cy="35.9" r="1.9"/><circle cx="110.2" cy="169.6" r="1.6"/><circle cx="57.4" cy="113.6" r="2.3"/><circle cx="9.6" cy="44.3" r="1.9"/><circle cx="82.4" cy="84.4" r="1.3"/><circle cx="192.6" cy="141.9" r="2.3"/><circle cx="182.8" cy="108" r="1.6"/><circle cx="199.6" cy="4" r="1.6"/><circle cx="127.3" cy="60.3" r="1.3"/><circle cx="82.4" cy="54.1" r="1.6"/><circle cx="183.7" cy="92.4" r="1.6"/><circle cx="84.2" cy="65.5" r="1.9"/><circle cx="92.4" cy="138.1" r="1.0"/><circle cx="103.7" cy="166.6" r="1.0"/><circle cx="192.7" cy="37.5" r="1.3"/><circle cx="77.1" cy="4.3" r="1.6"/><circle cx="13" cy="120" r="1.0"/><circle cx="49.9" cy="34.4" r="1.9"/><circle cx="84.4" cy="170.1" r="2.3"/><circle cx="84.2" cy="108.5" r="1.9"/><circle cx="128.6" cy="12.7" r="1.0"/><circle cx="167.8" cy="46.2" r="1.9"/><circle cx="7.6" cy="144.1" r="1.6"/><circle cx="12.8" cy="133.3" r="1.0"/><circle cx="208.3" cy="46.4" r="1.9"/><circle cx="203.5" cy="130.4" r="1.9"/><circle cx="94.2" cy="102.2" r="2.3"/><circle cx="37.2" cy="20.5" r="1.6"/><circle cx="6.8" cy="130.2" r="1.6"/><circle cx="112.6" cy="168.6" r="2.3"/><circle cx="35.4" cy="106.9" r="1.6"/><circle cx="46.9" cy="109.9" r="2.3"/><circle cx="159.8" cy="146" r="1.6"/><circle cx="90.8" cy="62.9" r="1.0"/><circle cx="10.4" cy="21.9" r="1.0"/><circle cx="100.4" cy="134.5" r="2.3"/><circle cx="135.7" cy="162.5" r="1.3"/><circle cx="69.6" cy="79" r="1.3"/><circle cx="47.8" cy="68.5" r="1.0"/><circle cx="48.6" cy="138.5" r="1.9"/><circle cx="106.1" cy="110.3" r="1.9"/><circle cx="10.6" cy="53.4" r="2.3"/><circle cx="2.2" cy="96.7" r="2.3"/><circle cx="203.5" cy="80.1" r="1.9"/><circle cx="86.3" cy="72.5" r="1.6"/><circle cx="133.9" cy="85.7" r="1.9"/><circle cx="31.2" cy="74.5" r="1.9"/><circle cx="190.6" cy="118.9" r="1.9"/><circle cx="200.8" cy="139.9" r="1.3"/><circle cx="205.1" cy="32.3" r="1.6"/><circle cx="59.5" cy="104.4" r="1.3"/><circle cx="30.5" cy="158.8" r="1.0"/><circle cx="148.5" cy="48.6" r="1.3"/><circle cx="177.8" cy="53.1" r="1.0"/><circle cx="27.1" cy="84.5" r="1.0"/><circle cx="114.6" cy="48.8" r="1.6"/><circle cx="176.9" cy="133.2" r="1.3"/><circle cx="33.3" cy="172.4" r="1.0"/><circle cx="91.9" cy="6.5" r="1.6"/><circle cx="79.9" cy="16.9" r="1.0"/><circle cx="186.7" cy="152.9" r="1.6"/><circle cx="56.7" cy="164.5" r="1.6"/><circle cx="130.8" cy="66.4" r="1.9"/><circle cx="105.6" cy="55.5" r="2.3"/><circle cx="146.2" cy="34.5" r="2.3"/><circle cx="19.5" cy="117.1" r="1.9"/><circle cx="208.8" cy="183.9" r="1.6"/><circle cx="180.9" cy="156.2" r="1.9"/><circle cx="139.6" cy="115.6" r="1.3"/><circle cx="112.7" cy="45.2" r="1.0"/><circle cx="25.1" cy="17.9" r="1.6"/><circle cx="121.1" cy="157.9" r="1.0"/><circle cx="154.9" cy="184.8" r="1.9"/><circle cx="30.1" cy="191.8" r="2.3"/><circle cx="22.9" cy="111.8" r="1.9"/><circle cx="174.4" cy="47.1" r="1.9"/><circle cx="9.4" cy="142.1" r="1.6"/><circle cx="133.7" cy="143.7" r="1.0"/><circle cx="109.8" cy="187.9" r="1.9"/><circle cx="148.4" cy="88.5" r="1.9"/><circle cx="87.9" cy="71.1" r="1.0"/><circle cx="76.9" cy="85.3" r="2.3"/><circle cx="182.6" cy="144.1" r="2.3"/><circle cx="21.4" cy="75.4" r="1.9"/><circle cx="38" cy="148.1" r="2.3"/><circle cx="19.3" cy="134.5" r="1.3"/><circle cx="104" cy="98.4" r="2.3"/><circle cx="52.2" cy="24.4" r="1.6"/><circle cx="162.2" cy="10.6" r="1.0"/><circle cx="197.6" cy="183.6" r="1.3"/><circle cx="152.4" cy="54.9" r="1.3"/><circle cx="107.7" cy="126.5" r="1.0"/><circle cx="20.8" cy="128.7" r="1.9"/><circle cx="8.5" cy="137.7" r="1.3"/><circle cx="15.8" cy="47.2" r="1.0"/><circle cx="168.5" cy="35.3" r="2.3"/><circle cx="122.9" cy="117.6" r="1.6"/><circle cx="187.9" cy="26.8" r="2.3"/><circle cx="70" cy="102.6" r="1.9"/><circle cx="72.1" cy="194.7" r="1.9"/><circle cx="7" cy="6.2" r="1.9"/><circle cx="51.6" cy="125.7" r="1.6"/><circle cx="109.1" cy="181.7" r="1.6"/><circle cx="174.4" cy="38.9" r="1.9"/><circle cx="4.3" cy="160" r="1.3"/><circle cx="138.6" cy="138.7" r="1.3"/><circle cx="37.1" cy="119.8" r="1.0"/><circle cx="201" cy="129.7" r="2.3"/><circle cx="190" cy="3.6" r="1.6"/><circle cx="4.4" cy="169" r="1.0"/><circle cx="197.7" cy="20.7" r="1.0"/><circle cx="127.3" cy="3.8" r="1.0"/><circle cx="132.2" cy="45.5" r="1.6"/><circle cx="130.4" cy="118.5" r="1.0"/><circle cx="54.5" cy="60.9" r="1.9"/><circle cx="158.1" cy="57.8" r="1.9"/><circle cx="111.3" cy="65.7" r="1.9"/><circle cx="60.4" cy="145.2" r="1.3"/><circle cx="181.7" cy="102.4" r="1.9"/><circle cx="10.1" cy="42.4" r="1.9"/><circle cx="166" cy="49.6" r="1.0"/><circle cx="0.6" cy="98.2" r="1.6"/><circle cx="34.5" cy="187.9" r="1.9"/><circle cx="145.3" cy="19.5" r="1.0"/><circle cx="184.3" cy="124.3" r="1.9"/><circle cx="139.4" cy="119.7" r="1.3"/><circle cx="158.7" cy="57.4" r="1.6"/><circle cx="26.5" cy="12" r="1.6"/><circle cx="132.6" cy="134.5" r="1.3"/><circle cx="89" cy="49.5" r="2.3"/><circle cx="164.2" cy="125.9" r="1.9"/><circle cx="172.4" cy="174.4" r="1.0"/></g></pattern><pattern id="pdb" patternUnits="userSpaceOnUse" width="197" height="211"><g fill="#4a3f66"><circle cx="150.5" cy="136" r="1.9"/><circle cx="172" cy="41.4" r="1.9"/><circle cx="190.9" cy="90.3" r="1.9"/><circle cx="7.1" cy="111.4" r="1.3"/><circle cx="46.8" cy="132.9" r="2.3"/><circle cx="37.9" cy="84.9" r="1.9"/><circle cx="25.3" cy="98.1" r="1.0"/><circle cx="102.9" cy="158.8" r="1.9"/><circle cx="92.9" cy="181.8" r="1.6"/><circle cx="190.7" cy="196.2" r="1.3"/><circle cx="171.2" cy="162.6" r="1.0"/><circle cx="74.9" cy="2.5" r="1.3"/><circle cx="180.3" cy="26.3" r="1.3"/><circle cx="173.1" cy="145.4" r="1.3"/><circle cx="85.8" cy="50.2" r="1.6"/><circle cx="37.8" cy="61.6" r="1.9"/><circle cx="196.5" cy="51.1" r="1.6"/><circle cx="151.5" cy="129.4" r="1.9"/><circle cx="77.1" cy="160.9" r="1.6"/><circle cx="68.8" cy="33.3" r="2.3"/><circle cx="173.1" cy="187.1" r="1.0"/><circle cx="191.7" cy="123.9" r="1.0"/><circle cx="15.9" cy="140.5" r="2.3"/><circle cx="76.8" cy="206.7" r="1.0"/><circle cx="56.7" cy="155.6" r="1.6"/><circle cx="170.2" cy="142.9" r="1.6"/><circle cx="195.2" cy="137.4" r="1.3"/><circle cx="110.2" cy="140.1" r="1.9"/><circle cx="26.3" cy="11.5" r="1.0"/><circle cx="33.9" cy="153.2" r="1.9"/><circle cx="91.8" cy="127.5" r="1.0"/><circle cx="98.5" cy="39.6" r="1.3"/><circle cx="125.5" cy="186.1" r="1.0"/><circle cx="97.8" cy="1.3" r="1.3"/><circle cx="102.9" cy="142.4" r="1.0"/><circle cx="40.6" cy="98.6" r="1.0"/><circle cx="183.1" cy="53.6" r="1.9"/><circle cx="98.4" cy="165.7" r="1.3"/><circle cx="167.4" cy="203.8" r="2.3"/><circle cx="34" cy="47.4" r="1.9"/><circle cx="122.1" cy="49.4" r="2.3"/><circle cx="40.9" cy="8.9" r="1.0"/><circle cx="127.5" cy="106.8" r="2.3"/><circle cx="100.3" cy="79.2" r="1.9"/><circle cx="111.2" cy="102.9" r="1.6"/><circle cx="61.2" cy="52.7" r="1.0"/><circle cx="118.7" cy="113.4" r="2.3"/><circle cx="88.5" cy="81.1" r="2.3"/><circle cx="23.4" cy="173.3" r="1.3"/><circle cx="125.1" cy="63.5" r="1.9"/><circle cx="108" cy="25.3" r="2.3"/><circle cx="137.9" cy="185.1" r="1.3"/><circle cx="72.4" cy="88.2" r="1.9"/><circle cx="29.2" cy="203.9" r="2.3"/><circle cx="39.6" cy="99.9" r="1.6"/><circle cx="192.5" cy="155.9" r="2.3"/><circle cx="42.4" cy="17.4" r="1.6"/><circle cx="134.6" cy="133.8" r="1.3"/><circle cx="160.1" cy="63.6" r="1.3"/><circle cx="180.9" cy="93.5" r="1.0"/><circle cx="136.3" cy="171.4" r="1.6"/><circle cx="66.4" cy="29.4" r="1.3"/><circle cx="143.7" cy="178.1" r="1.0"/><circle cx="4.2" cy="63.5" r="1.9"/><circle cx="63" cy="123.3" r="1.9"/><circle cx="9.7" cy="120.7" r="1.6"/><circle cx="188.4" cy="189.5" r="1.6"/><circle cx="52.1" cy="90" r="1.3"/><circle cx="136.7" cy="55" r="1.3"/><circle cx="81.3" cy="148.6" r="1.6"/><circle cx="89" cy="133" r="1.3"/><circle cx="56.3" cy="179.4" r="2.3"/><circle cx="170.2" cy="149.8" r="1.3"/><circle cx="107.1" cy="72.7" r="1.3"/><circle cx="182.5" cy="110.8" r="2.3"/><circle cx="46.4" cy="65.4" r="1.6"/><circle cx="122.7" cy="35.2" r="1.9"/><circle cx="116.8" cy="164" r="1.6"/><circle cx="85.3" cy="203.7" r="2.3"/><circle cx="53.6" cy="112.7" r="1.0"/><circle cx="147.5" cy="77.7" r="1.3"/><circle cx="190.8" cy="178.3" r="1.3"/><circle cx="138.4" cy="157.5" r="1.9"/><circle cx="115.1" cy="102.3" r="1.0"/><circle cx="184.1" cy="205.1" r="1.0"/><circle cx="97.8" cy="168.6" r="1.6"/><circle cx="74.4" cy="109.4" r="1.3"/><circle cx="176.4" cy="166.7" r="1.6"/><circle cx="176.2" cy="150.5" r="1.3"/><circle cx="12.3" cy="72.3" r="1.9"/><circle cx="160.8" cy="42" r="1.6"/><circle cx="165" cy="41.4" r="1.9"/><circle cx="3.3" cy="32" r="1.0"/><circle cx="28.1" cy="210.4" r="1.3"/><circle cx="173.7" cy="176.9" r="2.3"/><circle cx="119.1" cy="53.9" r="1.6"/><circle cx="58.8" cy="102.2" r="1.3"/><circle cx="6" cy="200.1" r="2.3"/><circle cx="41.3" cy="103.1" r="1.0"/><circle cx="87.2" cy="202.3" r="2.3"/><circle cx="179.6" cy="90.6" r="1.9"/><circle cx="93.7" cy="132.1" r="1.3"/><circle cx="76.5" cy="57.9" r="2.3"/><circle cx="173.5" cy="160.3" r="1.6"/><circle cx="169.2" cy="9.4" r="1.0"/><circle cx="54.7" cy="140.4" r="1.6"/><circle cx="34.8" cy="49" r="1.0"/><circle cx="12.4" cy="188.4" r="2.3"/><circle cx="5" cy="16.5" r="2.3"/><circle cx="50.2" cy="80.4" r="1.6"/><circle cx="175.6" cy="108.7" r="2.3"/><circle cx="13" cy="184.2" r="1.6"/><circle cx="1.2" cy="117.8" r="1.9"/><circle cx="47.3" cy="49.9" r="2.3"/><circle cx="28.9" cy="107.7" r="1.9"/><circle cx="154.8" cy="10.9" r="1.9"/><circle cx="157.3" cy="133.4" r="1.3"/><circle cx="181.3" cy="74.2" r="1.6"/><circle cx="31" cy="153.8" r="1.3"/><circle cx="177.4" cy="117" r="1.3"/><circle cx="114.3" cy="138.3" r="2.3"/><circle cx="181.8" cy="84.5" r="1.0"/><circle cx="52.2" cy="28.3" r="1.0"/><circle cx="87.7" cy="116.5" r="1.9"/><circle cx="168.9" cy="92.5" r="1.6"/><circle cx="145.4" cy="163.4" r="1.0"/><circle cx="70.4" cy="4.6" r="1.0"/><circle cx="119.8" cy="82.2" r="1.3"/><circle cx="60.8" cy="63.2" r="2.3"/><circle cx="93.1" cy="130.2" r="1.0"/><circle cx="101.2" cy="10.9" r="1.0"/><circle cx="179.5" cy="197.9" r="1.6"/><circle cx="33.9" cy="81.1" r="1.9"/><circle cx="62.7" cy="199.6" r="1.3"/><circle cx="149.8" cy="153.6" r="1.9"/><circle cx="180.7" cy="72.5" r="1.3"/><circle cx="85.4" cy="123.4" r="2.3"/><circle cx="154.9" cy="61.6" r="1.9"/><circle cx="46.1" cy="12.4" r="1.3"/><circle cx="68.6" cy="84.9" r="2.3"/><circle cx="127.1" cy="161.2" r="1.9"/><circle cx="21.1" cy="34" r="1.6"/><circle cx="45.2" cy="194.4" r="1.3"/><circle cx="139.9" cy="121.2" r="1.9"/><circle cx="195.4" cy="28.2" r="1.9"/><circle cx="95.9" cy="46" r="1.0"/><circle cx="50.8" cy="100" r="2.3"/><circle cx="196.6" cy="179.1" r="2.3"/><circle cx="114.6" cy="84.1" r="1.6"/><circle cx="18.2" cy="158.1" r="1.0"/><circle cx="131.8" cy="126.2" r="2.3"/><circle cx="126.1" cy="157.3" r="2.3"/><circle cx="111.3" cy="4.9" r="2.3"/><circle cx="148.3" cy="94.4" r="1.3"/><circle cx="88" cy="148" r="1.9"/><circle cx="20" cy="204.4" r="1.9"/><circle cx="8.4" cy="51.7" r="1.9"/><circle cx="59" cy="126.3" r="1.6"/><circle cx="140" cy="56.5" r="1.3"/><circle cx="51.7" cy="43.5" r="1.3"/><circle cx="189" cy="88.7" r="1.0"/><circle cx="195.8" cy="33.5" r="1.9"/><circle cx="14.1" cy="86.3" r="1.3"/><circle cx="153.3" cy="206.5" r="1.0"/><circle cx="22.7" cy="209.5" r="1.6"/><circle cx="60.8" cy="108.3" r="1.3"/><circle cx="31.3" cy="205.4" r="1.6"/><circle cx="119.9" cy="47.5" r="1.6"/><circle cx="172.4" cy="185" r="1.0"/><circle cx="182.6" cy="108.4" r="1.0"/><circle cx="189.8" cy="117.1" r="1.9"/><circle cx="3.2" cy="86.3" r="1.9"/><circle cx="107.5" cy="168.7" r="1.0"/><circle cx="9.6" cy="79.5" r="2.3"/><circle cx="54.8" cy="123.9" r="2.3"/><circle cx="89.7" cy="72.3" r="1.0"/><circle cx="122.1" cy="63.9" r="2.3"/><circle cx="131.9" cy="168.6" r="1.3"/><circle cx="92.6" cy="160.9" r="2.3"/><circle cx="133.3" cy="198.2" r="1.0"/><circle cx="6.2" cy="16.3" r="1.0"/><circle cx="120.7" cy="124.6" r="1.6"/><circle cx="156.9" cy="151.8" r="1.6"/><circle cx="48.7" cy="91.6" r="1.0"/><circle cx="44.6" cy="153" r="1.3"/><circle cx="154.8" cy="154.5" r="2.3"/><circle cx="187.3" cy="171.9" r="1.3"/><circle cx="6.1" cy="74.2" r="1.3"/><circle cx="37.8" cy="178.6" r="1.9"/><circle cx="116.2" cy="49" r="1.6"/><circle cx="23.3" cy="9.9" r="1.6"/><circle cx="170.3" cy="201.9" r="2.3"/><circle cx="78.6" cy="167.1" r="1.9"/><circle cx="29.2" cy="52.2" r="2.3"/><circle cx="153.8" cy="55.2" r="1.9"/><circle cx="63.6" cy="13.3" r="1.3"/><circle cx="10.3" cy="76" r="1.9"/><circle cx="146.8" cy="65.1" r="2.3"/><circle cx="9" cy="170.4" r="1.9"/><circle cx="10.8" cy="172.8" r="1.0"/><circle cx="190.1" cy="163.1" r="1.3"/><circle cx="133.1" cy="190.3" r="1.0"/><circle cx="84.3" cy="59.8" r="1.9"/><circle cx="96.5" cy="193.2" r="1.6"/><circle cx="82.8" cy="115.7" r="1.9"/><circle cx="116.6" cy="199.9" r="1.6"/><circle cx="81.9" cy="206.8" r="1.9"/><circle cx="87.9" cy="187.6" r="1.3"/><circle cx="67" cy="113.9" r="1.6"/><circle cx="159.1" cy="122.8" r="2.3"/><circle cx="63.7" cy="24.9" r="1.6"/><circle cx="158.7" cy="136.6" r="2.3"/><circle cx="29.5" cy="199.5" r="2.3"/><circle cx="117.4" cy="14" r="1.6"/><circle cx="179.1" cy="7.8" r="1.6"/><circle cx="126.3" cy="202" r="2.3"/><circle cx="61.1" cy="127" r="1.0"/><circle cx="134.8" cy="23.4" r="1.3"/><circle cx="171.5" cy="120.4" r="1.3"/><circle cx="161" cy="60.8" r="2.3"/><circle cx="182.2" cy="206.1" r="1.9"/><circle cx="105.8" cy="142.7" r="1.0"/><circle cx="109.6" cy="162" r="1.6"/><circle cx="166.4" cy="64" r="1.0"/><circle cx="69.9" cy="192.1" r="1.0"/><circle cx="156.4" cy="201.5" r="1.9"/><circle cx="28.8" cy="70.8" r="1.6"/><circle cx="126.3" cy="41.8" r="1.0"/><circle cx="120.8" cy="118.8" r="1.9"/><circle cx="84.8" cy="48.9" r="1.6"/><circle cx="56.4" cy="119.9" r="1.6"/><circle cx="25.7" cy="68.5" r="1.0"/><circle cx="140.8" cy="64.1" r="1.3"/><circle cx="107.5" cy="160.6" r="1.9"/><circle cx="111.2" cy="26" r="1.0"/><circle cx="132.8" cy="121.5" r="1.9"/><circle cx="80.5" cy="162.3" r="1.3"/><circle cx="76.6" cy="32.8" r="2.3"/><circle cx="54.4" cy="204.8" r="1.9"/><circle cx="68.3" cy="167.6" r="1.3"/><circle cx="18.8" cy="147.4" r="2.3"/><circle cx="66.5" cy="87.8" r="1.9"/><circle cx="195.5" cy="120.4" r="2.3"/><circle cx="33.8" cy="145.8" r="1.0"/><circle cx="108.3" cy="174.2" r="1.6"/><circle cx="53.3" cy="90" r="2.3"/><circle cx="55.2" cy="87.7" r="1.3"/><circle cx="44" cy="74.8" r="1.0"/><circle cx="145.6" cy="156.5" r="1.3"/><circle cx="160.6" cy="99.8" r="1.9"/><circle cx="109.3" cy="179.4" r="2.3"/><circle cx="175.7" cy="26.9" r="1.9"/><circle cx="167.2" cy="161.9" r="2.3"/><circle cx="57.9" cy="32.1" r="1.9"/><circle cx="12.4" cy="207.3" r="1.0"/><circle cx="73.7" cy="69.6" r="1.9"/><circle cx="159.3" cy="193.7" r="2.3"/><circle cx="45.5" cy="82.5" r="1.0"/><circle cx="195.4" cy="203.7" r="1.6"/><circle cx="193.7" cy="2.1" r="1.3"/><circle cx="186" cy="67.4" r="1.6"/><circle cx="109.5" cy="15.2" r="1.9"/><circle cx="150.1" cy="156.6" r="2.3"/><circle cx="107.1" cy="47.6" r="1.6"/><circle cx="155.6" cy="51.4" r="1.3"/><circle cx="158.8" cy="139.7" r="1.9"/><circle cx="112" cy="103.3" r="1.0"/><circle cx="139.4" cy="210.7" r="1.3"/><circle cx="165.2" cy="180.2" r="1.9"/><circle cx="68" cy="110.8" r="1.6"/><circle cx="190.5" cy="146.8" r="1.3"/><circle cx="72.6" cy="21.9" r="2.3"/><circle cx="19.6" cy="0.8" r="1.9"/><circle cx="18.5" cy="74.1" r="1.3"/><circle cx="91.6" cy="51.1" r="1.3"/><circle cx="179.6" cy="31.2" r="1.6"/><circle cx="37" cy="99.3" r="1.6"/><circle cx="144.7" cy="210.1" r="1.6"/><circle cx="190.2" cy="139.2" r="1.9"/><circle cx="59.6" cy="140.1" r="1.6"/><circle cx="134" cy="37.2" r="1.9"/><circle cx="71.8" cy="94.3" r="1.6"/><circle cx="179.5" cy="2.2" r="1.0"/><circle cx="46" cy="7.4" r="1.9"/><circle cx="61.9" cy="123.1" r="2.3"/><circle cx="170.1" cy="119" r="2.3"/><circle cx="127.3" cy="129.7" r="2.3"/><circle cx="172.1" cy="33.4" r="2.3"/><circle cx="45.6" cy="164.9" r="1.0"/><circle cx="103.4" cy="93.7" r="1.6"/><circle cx="36.7" cy="161.7" r="1.3"/><circle cx="9" cy="60.9" r="1.6"/><circle cx="59.5" cy="76.6" r="2.3"/><circle cx="101.3" cy="120.3" r="1.9"/><circle cx="109.7" cy="133.5" r="1.0"/><circle cx="57.6" cy="53.4" r="1.0"/><circle cx="90.2" cy="78" r="1.9"/><circle cx="91" cy="125.6" r="1.6"/><circle cx="77.5" cy="87.9" r="1.6"/><circle cx="137.5" cy="190.7" r="1.0"/><circle cx="77.3" cy="123.2" r="1.3"/><circle cx="168.5" cy="95.2" r="2.3"/><circle cx="10.6" cy="123.8" r="1.9"/><circle cx="50.4" cy="127.7" r="1.0"/><circle cx="35" cy="75.3" r="2.3"/><circle cx="32.4" cy="65.7" r="1.3"/><circle cx="18.4" cy="199.6" r="1.9"/><circle cx="166.4" cy="38.1" r="1.6"/><circle cx="20.8" cy="3" r="1.0"/><circle cx="51.9" cy="92" r="1.9"/><circle cx="34.1" cy="136.2" r="1.6"/><circle cx="63.9" cy="195" r="1.6"/><circle cx="108.7" cy="71.7" r="1.6"/><circle cx="25.5" cy="153" r="1.0"/><circle cx="103" cy="11.7" r="1.9"/><circle cx="20.7" cy="12.8" r="1.0"/><circle cx="104.4" cy="92.1" r="1.0"/><circle cx="29.1" cy="7.4" r="1.9"/><circle cx="192.5" cy="91.1" r="2.3"/><circle cx="178.4" cy="195.4" r="1.6"/><circle cx="166.5" cy="6.4" r="1.0"/><circle cx="147.7" cy="114.1" r="1.0"/><circle cx="87" cy="108.3" r="2.3"/><circle cx="132.6" cy="184" r="2.3"/><circle cx="42.9" cy="67" r="1.0"/><circle cx="115.3" cy="11.9" r="2.3"/><circle cx="150.4" cy="199.1" r="1.9"/><circle cx="191" cy="200.9" r="1.6"/><circle cx="156" cy="141.2" r="1.6"/><circle cx="52" cy="109.8" r="1.3"/><circle cx="71.6" cy="119" r="1.9"/><circle cx="78.8" cy="174.4" r="2.3"/><circle cx="16.1" cy="189.1" r="1.0"/><circle cx="45.8" cy="42.8" r="1.9"/><circle cx="179" cy="101.6" r="2.3"/><circle cx="139.8" cy="168.3" r="1.3"/><circle cx="170.9" cy="93.2" r="1.6"/><circle cx="150.4" cy="14.7" r="1.9"/><circle cx="35.5" cy="102.5" r="1.9"/><circle cx="119.8" cy="86.7" r="2.3"/><circle cx="114" cy="165.5" r="1.0"/><circle cx="183.1" cy="91.5" r="1.0"/><circle cx="44.2" cy="46.4" r="1.3"/><circle cx="69" cy="161.6" r="2.3"/><circle cx="141" cy="102" r="2.3"/><circle cx="155.5" cy="69.2" r="1.6"/><circle cx="65" cy="190.2" r="2.3"/><circle cx="176.1" cy="27" r="1.6"/><circle cx="73.4" cy="93.1" r="1.9"/><circle cx="111.8" cy="114.3" r="1.9"/><circle cx="105.7" cy="115" r="1.0"/><circle cx="43.9" cy="107.3" r="1.6"/><circle cx="185.9" cy="167.1" r="1.3"/><circle cx="26.3" cy="54.5" r="1.0"/><circle cx="20.8" cy="96.2" r="1.0"/><circle cx="37.4" cy="96.4" r="2.3"/><circle cx="15.2" cy="0" r="1.9"/><circle cx="129.1" cy="99.3" r="2.3"/><circle cx="8.3" cy="185.9" r="1.0"/><circle cx="62.6" cy="72.9" r="1.3"/><circle cx="43.1" cy="0.6" r="1.9"/><circle cx="84.6" cy="164.5" r="1.9"/><circle cx="31.8" cy="53.1" r="1.3"/><circle cx="87.7" cy="34.6" r="1.9"/><circle cx="82.1" cy="66.2" r="2.3"/><circle cx="70.1" cy="129.8" r="1.0"/><circle cx="118.7" cy="62.3" r="1.3"/><circle cx="44.4" cy="131.9" r="2.3"/><circle cx="109.7" cy="192.5" r="1.9"/><circle cx="15.8" cy="140.8" r="2.3"/><circle cx="67.5" cy="123" r="1.6"/><circle cx="44.6" cy="47.9" r="2.3"/><circle cx="30.4" cy="2.7" r="1.0"/><circle cx="51.7" cy="205.2" r="1.9"/><circle cx="73.8" cy="29.1" r="1.9"/><circle cx="50" cy="53.8" r="1.6"/><circle cx="54.7" cy="177.1" r="1.3"/><circle cx="71.2" cy="135" r="1.6"/><circle cx="4.5" cy="110.6" r="1.0"/><circle cx="1.1" cy="182.3" r="2.3"/><circle cx="158.7" cy="103.6" r="2.3"/><circle cx="56.9" cy="117.2" r="1.3"/><circle cx="34" cy="70.8" r="2.3"/><circle cx="108.3" cy="14.8" r="1.0"/><circle cx="51.8" cy="119" r="1.9"/><circle cx="182.8" cy="49.3" r="2.3"/><circle cx="80.4" cy="151.2" r="2.3"/><circle cx="21" cy="159.4" r="1.3"/><circle cx="120.8" cy="34" r="1.0"/><circle cx="179.2" cy="65.1" r="1.6"/><circle cx="137.3" cy="93.6" r="1.6"/><circle cx="56.7" cy="78.5" r="2.3"/><circle cx="41.7" cy="40.3" r="1.6"/><circle cx="170" cy="159.5" r="1.3"/><circle cx="46.4" cy="58.2" r="1.6"/><circle cx="67.5" cy="39" r="2.3"/><circle cx="131.3" cy="36.3" r="1.6"/><circle cx="188.7" cy="186.8" r="1.0"/><circle cx="52.3" cy="31.3" r="1.0"/><circle cx="192.7" cy="33" r="1.6"/><circle cx="86.6" cy="27.7" r="1.0"/><circle cx="28.7" cy="192.3" r="1.0"/><circle cx="34.9" cy="89.7" r="2.3"/><circle cx="148.1" cy="158.2" r="1.9"/><circle cx="105.1" cy="2.2" r="2.3"/><circle cx="93.8" cy="95" r="1.6"/><circle cx="45.1" cy="154.8" r="1.6"/><circle cx="149.1" cy="201" r="2.3"/><circle cx="81.9" cy="78.5" r="1.3"/><circle cx="79.9" cy="157.5" r="1.9"/><circle cx="60.2" cy="194.1" r="1.9"/><circle cx="79.2" cy="77.4" r="1.3"/><circle cx="51.2" cy="26.9" r="1.3"/><circle cx="164.7" cy="6.1" r="1.3"/><circle cx="118" cy="165.5" r="1.0"/><circle cx="60.9" cy="162.2" r="1.9"/><circle cx="146.6" cy="111.7" r="1.0"/><circle cx="180.1" cy="21.4" r="2.3"/><circle cx="93.1" cy="129.1" r="2.3"/><circle cx="196.2" cy="166.8" r="1.3"/><circle cx="49.9" cy="67.2" r="1.6"/><circle cx="84.7" cy="143.6" r="1.3"/><circle cx="193.1" cy="68" r="1.6"/><circle cx="26.1" cy="51.6" r="1.9"/><circle cx="125.6" cy="77.7" r="1.0"/><circle cx="93.2" cy="100.8" r="1.0"/><circle cx="27.9" cy="208.7" r="1.3"/><circle cx="179.2" cy="152" r="1.9"/><circle cx="183.1" cy="63.2" r="1.3"/><circle cx="77" cy="94.3" r="1.6"/><circle cx="184.7" cy="1.2" r="2.3"/><circle cx="42.3" cy="2.6" r="1.9"/><circle cx="5.7" cy="133.8" r="1.9"/><circle cx="54.9" cy="84.6" r="2.3"/><circle cx="69.9" cy="4.4" r="1.3"/><circle cx="128.2" cy="20.5" r="1.6"/><circle cx="169.7" cy="151.9" r="1.0"/><circle cx="33.7" cy="92.2" r="1.9"/><circle cx="165.9" cy="37.5" r="1.0"/><circle cx="107" cy="99.3" r="1.6"/><circle cx="158.7" cy="197.6" r="2.3"/><circle cx="172.9" cy="189" r="1.6"/><circle cx="82.8" cy="158.7" r="1.6"/><circle cx="43.8" cy="47.5" r="1.0"/><circle cx="105.7" cy="183.6" r="2.3"/><circle cx="13.1" cy="54.9" r="1.3"/><circle cx="92" cy="19.7" r="1.0"/><circle cx="144.8" cy="142.8" r="2.3"/><circle cx="150.3" cy="168.1" r="1.9"/><circle cx="135.9" cy="74.9" r="2.3"/><circle cx="165.5" cy="145.3" r="1.0"/><circle cx="131.5" cy="75.2" r="1.3"/><circle cx="164.7" cy="146.2" r="1.3"/><circle cx="177.9" cy="77" r="1.3"/><circle cx="35.5" cy="172.7" r="1.3"/><circle cx="62.8" cy="179.6" r="1.3"/><circle cx="66.1" cy="79.1" r="1.0"/><circle cx="182.4" cy="189.1" r="1.6"/><circle cx="161.8" cy="11.5" r="1.9"/><circle cx="46.4" cy="200.7" r="1.6"/><circle cx="67.6" cy="143.6" r="1.3"/><circle cx="136.6" cy="83.3" r="2.3"/><circle cx="91.5" cy="97.5" r="2.3"/><circle cx="131.8" cy="199.3" r="2.3"/><circle cx="88" cy="208.3" r="1.6"/><circle cx="182.9" cy="60.2" r="1.6"/><circle cx="161.3" cy="131" r="1.0"/><circle cx="133" cy="22.5" r="1.6"/><circle cx="183.1" cy="209.9" r="1.9"/><circle cx="31.1" cy="45.7" r="1.6"/><circle cx="133.5" cy="90.1" r="1.0"/><circle cx="161.9" cy="63.8" r="1.0"/><circle cx="52.2" cy="53.1" r="1.6"/><circle cx="99.8" cy="122.2" r="1.9"/><circle cx="112.5" cy="93.7" r="1.9"/><circle cx="63.4" cy="67.7" r="1.3"/><circle cx="80.9" cy="197.9" r="1.9"/><circle cx="179.1" cy="155.4" r="2.3"/><circle cx="44.5" cy="62.8" r="2.3"/><circle cx="181.2" cy="181.9" r="1.6"/><circle cx="184" cy="14.7" r="1.3"/><circle cx="80" cy="11.2" r="1.3"/><circle cx="31.9" cy="208.4" r="1.9"/><circle cx="155.9" cy="169.8" r="1.9"/><circle cx="173.5" cy="151.8" r="1.6"/><circle cx="141.7" cy="173.2" r="2.3"/><circle cx="21" cy="195.5" r="1.6"/><circle cx="67.3" cy="123.8" r="1.9"/><circle cx="45" cy="56.3" r="1.3"/><circle cx="149.9" cy="165" r="1.3"/><circle cx="165.1" cy="143.3" r="1.9"/><circle cx="75.8" cy="189.6" r="1.3"/><circle cx="185.1" cy="61.2" r="1.0"/><circle cx="196.6" cy="139.1" r="1.3"/><circle cx="173.2" cy="121.2" r="1.3"/><circle cx="57" cy="14.2" r="1.0"/><circle cx="165.4" cy="168.2" r="1.6"/><circle cx="23.2" cy="170.1" r="1.3"/><circle cx="119.1" cy="88.4" r="1.3"/><circle cx="131.2" cy="42.4" r="2.3"/><circle cx="151.5" cy="98.6" r="1.9"/><circle cx="41.3" cy="149.4" r="1.3"/><circle cx="145.9" cy="154.6" r="1.6"/><circle cx="146" cy="130.2" r="1.6"/><circle cx="162.5" cy="187.5" r="1.6"/><circle cx="87.5" cy="50" r="1.3"/><circle cx="84.5" cy="100.1" r="2.3"/><circle cx="182.2" cy="16.2" r="2.3"/><circle cx="4.5" cy="70.4" r="1.6"/><circle cx="166.6" cy="102.8" r="1.6"/><circle cx="77.6" cy="162.8" r="1.0"/><circle cx="36" cy="61.3" r="1.0"/><circle cx="81.4" cy="112.2" r="1.0"/><circle cx="17.4" cy="133.3" r="1.6"/><circle cx="49" cy="55.8" r="1.6"/><circle cx="172.2" cy="99.6" r="1.3"/><circle cx="165" cy="103.7" r="1.3"/><circle cx="113.6" cy="204.6" r="1.3"/><circle cx="158.2" cy="71.5" r="1.0"/><circle cx="0.4" cy="191.9" r="1.9"/><circle cx="76.9" cy="146" r="1.0"/><circle cx="162.7" cy="84.3" r="1.9"/><circle cx="135" cy="30.4" r="2.3"/><circle cx="176.6" cy="162.7" r="1.3"/><circle cx="121.9" cy="131.2" r="1.9"/><circle cx="160.7" cy="102.6" r="1.0"/><circle cx="169.8" cy="98.4" r="1.9"/><circle cx="92.4" cy="39.6" r="1.3"/><circle cx="181.8" cy="170.9" r="1.0"/><circle cx="94.2" cy="188.5" r="2.3"/><circle cx="66.9" cy="159.7" r="1.6"/><circle cx="184.8" cy="113.1" r="1.3"/><circle cx="71.8" cy="57.3" r="1.9"/><circle cx="149.4" cy="78.6" r="1.0"/><circle cx="174.2" cy="20.2" r="1.0"/><circle cx="183.7" cy="37.9" r="1.9"/><circle cx="30.9" cy="33.3" r="2.3"/><circle cx="112.9" cy="171.3" r="2.3"/><circle cx="117.1" cy="6.5" r="1.0"/><circle cx="105.7" cy="13.7" r="1.0"/><circle cx="123.4" cy="11.6" r="1.3"/><circle cx="186" cy="97.1" r="1.9"/><circle cx="94.9" cy="158.1" r="2.3"/><circle cx="143.4" cy="137.5" r="1.9"/><circle cx="17.1" cy="153" r="1.9"/><circle cx="62.5" cy="61.5" r="1.3"/><circle cx="55.8" cy="110" r="1.0"/><circle cx="121.4" cy="155.2" r="1.3"/><circle cx="159" cy="158.1" r="2.3"/><circle cx="183.3" cy="41.6" r="1.3"/><circle cx="140.5" cy="186.6" r="1.0"/><circle cx="29.1" cy="191.8" r="1.9"/><circle cx="182.1" cy="3.2" r="1.9"/><circle cx="8.7" cy="117.6" r="1.9"/><circle cx="12" cy="199.9" r="1.9"/><circle cx="36" cy="12.5" r="1.9"/><circle cx="56.7" cy="158.8" r="2.3"/><circle cx="11.9" cy="93" r="1.9"/><circle cx="123.7" cy="94.9" r="1.0"/><circle cx="74.3" cy="0.3" r="1.9"/><circle cx="30.1" cy="145.6" r="1.3"/><circle cx="157.2" cy="134.2" r="1.9"/><circle cx="90.3" cy="191.8" r="1.6"/><circle cx="130.3" cy="17.3" r="1.3"/><circle cx="77.3" cy="197.4" r="1.9"/><circle cx="48.3" cy="121.5" r="1.6"/><circle cx="196.1" cy="155.1" r="1.6"/><circle cx="76.1" cy="84" r="2.3"/><circle cx="75.8" cy="183.6" r="1.6"/><circle cx="118.7" cy="110.1" r="2.3"/><circle cx="141.3" cy="49.8" r="1.3"/><circle cx="28" cy="94.6" r="1.0"/><circle cx="167.2" cy="190.7" r="1.9"/><circle cx="81.3" cy="172.6" r="2.3"/><circle cx="102.6" cy="194.2" r="1.3"/><circle cx="40.8" cy="95.8" r="1.0"/><circle cx="94.7" cy="97.7" r="1.9"/><circle cx="169.6" cy="117" r="1.3"/><circle cx="153" cy="23.4" r="1.9"/><circle cx="64.1" cy="92.9" r="1.6"/><circle cx="179.7" cy="33.8" r="1.9"/><circle cx="27.2" cy="32.3" r="1.9"/><circle cx="119.9" cy="143.5" r="1.3"/><circle cx="124" cy="186" r="1.6"/><circle cx="58.3" cy="58.3" r="1.0"/><circle cx="154.5" cy="117.1" r="1.9"/><circle cx="192" cy="169.3" r="1.9"/><circle cx="182.6" cy="144.3" r="1.0"/><circle cx="41.4" cy="180.7" r="1.6"/><circle cx="76.6" cy="71.2" r="1.0"/><circle cx="4" cy="17.6" r="1.3"/><circle cx="80.4" cy="116.1" r="1.6"/><circle cx="181.2" cy="5.6" r="1.0"/><circle cx="179.4" cy="147.8" r="1.9"/><circle cx="77.6" cy="36.3" r="1.9"/><circle cx="177.3" cy="197.8" r="2.3"/><circle cx="20.7" cy="9.6" r="1.0"/><circle cx="129.3" cy="50.3" r="1.0"/><circle cx="179.2" cy="101.5" r="1.6"/><circle cx="98" cy="140.8" r="1.6"/><circle cx="170.6" cy="169.3" r="1.6"/><circle cx="138" cy="185.2" r="1.9"/><circle cx="56" cy="39.3" r="1.9"/><circle cx="60.1" cy="196.4" r="1.0"/><circle cx="69.8" cy="128.2" r="1.0"/><circle cx="120.1" cy="146.1" r="1.9"/><circle cx="140.2" cy="46.7" r="2.3"/><circle cx="4" cy="74.9" r="1.6"/><circle cx="4" cy="196.3" r="1.6"/><circle cx="81.4" cy="170.1" r="1.9"/><circle cx="82.7" cy="167.4" r="1.0"/><circle cx="82.1" cy="107.3" r="2.3"/><circle cx="1.5" cy="157.5" r="1.6"/><circle cx="46.6" cy="149.1" r="1.3"/><circle cx="33.3" cy="204.2" r="1.6"/><circle cx="2.5" cy="20.6" r="2.3"/><circle cx="135.3" cy="100" r="2.3"/><circle cx="140.8" cy="151.7" r="2.3"/><circle cx="54.6" cy="180.1" r="1.3"/><circle cx="66.4" cy="160" r="1.3"/><circle cx="81.3" cy="186.9" r="1.9"/><circle cx="83.2" cy="136.4" r="1.9"/><circle cx="58.3" cy="140.3" r="1.3"/><circle cx="187.3" cy="185.8" r="1.3"/><circle cx="178.3" cy="174" r="1.6"/><circle cx="28.4" cy="92.6" r="1.9"/><circle cx="144.8" cy="78" r="1.3"/><circle cx="146.3" cy="41.6" r="2.3"/><circle cx="149.3" cy="53.6" r="1.0"/><circle cx="95.2" cy="36.9" r="2.3"/><circle cx="84.7" cy="153.1" r="1.6"/><circle cx="138.8" cy="35.1" r="1.6"/><circle cx="137.3" cy="211" r="1.9"/><circle cx="164.6" cy="3.4" r="1.0"/><circle cx="115.1" cy="63.8" r="1.3"/><circle cx="170.9" cy="131.8" r="2.3"/><circle cx="95.3" cy="163.1" r="1.6"/><circle cx="53.8" cy="166.2" r="2.3"/><circle cx="184.1" cy="81" r="1.0"/><circle cx="59.1" cy="150.1" r="2.3"/><circle cx="118.5" cy="188.4" r="1.6"/><circle cx="175.6" cy="145.2" r="2.3"/><circle cx="141.1" cy="90.5" r="2.3"/><circle cx="13.5" cy="126.1" r="2.3"/><circle cx="62.4" cy="37.8" r="1.9"/><circle cx="99" cy="18.7" r="1.9"/><circle cx="160.2" cy="197.6" r="1.0"/><circle cx="57.7" cy="211" r="2.3"/><circle cx="172.4" cy="1.8" r="1.0"/><circle cx="170.2" cy="3.1" r="2.3"/><circle cx="132.2" cy="171.1" r="1.9"/><circle cx="55.9" cy="43.7" r="1.9"/><circle cx="44.6" cy="84" r="1.3"/><circle cx="97.2" cy="132.3" r="2.3"/><circle cx="41.4" cy="140.6" r="1.3"/><circle cx="23" cy="43.4" r="1.9"/><circle cx="127.1" cy="144.9" r="2.3"/><circle cx="7.2" cy="199.2" r="2.3"/><circle cx="12" cy="209.6" r="1.3"/><circle cx="109.2" cy="111" r="2.3"/><circle cx="172.4" cy="0.5" r="1.9"/><circle cx="48.2" cy="150.8" r="1.6"/><circle cx="130.3" cy="71" r="2.3"/><circle cx="116.7" cy="73.7" r="1.6"/><circle cx="26.2" cy="51.8" r="1.6"/><circle cx="121.7" cy="97.5" r="1.0"/><circle cx="163.5" cy="130.9" r="1.0"/><circle cx="148.7" cy="156.1" r="1.0"/><circle cx="94.5" cy="128.2" r="1.3"/><circle cx="181.9" cy="171.4" r="1.6"/><circle cx="35.7" cy="97.8" r="1.9"/><circle cx="144.1" cy="51.9" r="1.0"/><circle cx="43.8" cy="172.9" r="1.3"/><circle cx="70.6" cy="156.5" r="1.0"/><circle cx="157.7" cy="107.7" r="1.9"/><circle cx="52.3" cy="20.7" r="1.6"/><circle cx="138.9" cy="199.4" r="1.3"/><circle cx="112.9" cy="74.6" r="2.3"/><circle cx="113.2" cy="41.6" r="1.9"/><circle cx="116.7" cy="181.5" r="2.3"/><circle cx="18.2" cy="73.6" r="1.9"/><circle cx="89.5" cy="128.2" r="1.6"/><circle cx="16.7" cy="192.9" r="2.3"/><circle cx="35" cy="136.9" r="1.3"/><circle cx="32.9" cy="47.5" r="1.0"/><circle cx="102.2" cy="117.1" r="1.9"/><circle cx="25.7" cy="165.4" r="1.0"/><circle cx="97.8" cy="2" r="1.3"/><circle cx="131.6" cy="161.6" r="1.9"/><circle cx="113.3" cy="10.6" r="2.3"/><circle cx="21.8" cy="204.1" r="1.6"/><circle cx="152.6" cy="26.9" r="1.6"/><circle cx="191.3" cy="187.6" r="1.6"/><circle cx="67.5" cy="170.9" r="1.9"/><circle cx="152.3" cy="52.8" r="1.9"/><circle cx="93.8" cy="52.8" r="1.0"/><circle cx="152.7" cy="208.1" r="1.0"/><circle cx="147.5" cy="21.6" r="1.0"/><circle cx="148.7" cy="151.7" r="1.0"/><circle cx="3.1" cy="93.3" r="1.0"/></g></pattern><filter id="fsoft" x="-0.05" y="-0.05" width="1.1" height="1.1"><feGaussianBlur stdDeviation="1.3"/></filter><radialGradient id="gF" cx="0.5" cy="0.55" r="0.5"><stop offset="0" stop-color="#fff" stop-opacity="0.10"/><stop offset="0.7" stop-color="#fff" stop-opacity="0"/><stop offset="1" stop-color="#000" stop-opacity="0.18"/></radialGradient><radialGradient id="gC" cx="0.55" cy="0.6" r="0.6"><stop offset="0" stop-color="#fff" stop-opacity="0.06"/><stop offset="1" stop-color="#000" stop-opacity="0.06"/></radialGradient><linearGradient id="gFv" x1="0" y1="0" x2="0" y2="1"><stop offset="0" stop-color="#000" stop-opacity="0.12"/><stop offset="0.55" stop-color="#000" stop-opacity="0"/><stop offset="1" stop-color="#fff" stop-opacity="0.12"/></linearGradient><radialGradient id="gV" cx="0.5" cy="0.5" r="0.5"><stop offset="0.55" stop-color="#2a2040" stop-opacity="0"/><stop offset="1" stop-color="#2a2040" stop-opacity="0.22"/></radialGradient></defs><g filter="url(#fsoft)"><path d="M165.4 1519.4L188.6 1519.4A75.2 75.2 0 0 1 250.2 1576.5L250.2 1610.9A75.2 75.2 0 0 1 188.6 1668L165.4 1668A75.2 75.2 0 0 1 103.8 1610.9L103.8 1576.5A75.2 75.2 0 0 1 165.4 1519.4Z" fill="#9a9ab0"/><path d="M165.4 1519.4L188.6 1519.4A75.2 75.2 0 0 1 250.2 1576.5L250.2 1610.9A75.2 75.2 0 0 1 188.6 1668L165.4 1668A75.2 75.2 0 0 1 103.8 1610.9L103.8 1576.5A75.2 75.2 0 0 1 165.4 1519.4Z" fill="url(#gC)"/><path d="M317.8 1519.4L341 1519.4A75.2 75.2 0 0 1 402.6 1576.5L402.6 1610.9A75.2 75.2 0 0 1 341 1668L317.8 1668A75.2 75.2 0 0 1 256.2 1610.9L256.2 1576.5A75.2 75.2 0 0 1 317.8 1519.4Z" fill="#c0b9b8"/><path d="M317.8 1519.4L341 1519.4A75.2 75.2 0 0 1 402.6 1576.5L402.6 1610.9A75.2 75.2 0 0 1 341 1668L317.8 1668A75.2 75.2 0 0 1 256.2 1610.9L256.2 1576.5A75.2 75.2 0 0 1 317.8 1519.4Z" fill="#000" opacity="0.4" filter="url(#fcl)"/><path d="M317.8 1519.4L341 1519.4A75.2 75.2 0 0 1 402.6 1576.5L402.6 1610.9A75.2 75.2 0 0 1 341 1668L317.8 1668A75.2 75.2 0 0 1 256.2 1610.9L256.2 1576.5A75.2 75.2 0 0 1 317.8 1519.4Z" fill="url(#pda)" opacity="0.55"/><path d="M317.8 1519.4L341 1519.4A75.2 75.2 0 0 1 402.6 1576.5L402.6 1610.9A75.2 75.2 0 0 1 341 1668L317.8 1668A75.2 75.2 0 0 1 256.2 1610.9L256.2 1576.5A75.2 75.2 0 0 1 317.8 1519.4Z" fill="url(#gV)"/><path d="M470.2 1519.4L493.4 1519.4A75.2 75.2 0 0 1 555 1576.5L555 1610.9A75.2 75.2 0 0 1 493.4 1668L470.2 1668A75.2 75.2 0 0 1 408.6 1610.9L408.6 1576.5A75.2 75.2 0 0 1 470.2 1519.4Z" fill="#aaa2aa"/><path d="M470.2 1519.4L493.4 1519.4A75.2 75.2 0 0 1 555 1576.5L555 1610.9A75.2 75.2 0 0 1 493.4 1668L470.2 1668A75.2 75.2 0 0 1 408.6 1610.9L408.6 1576.5A75.2 75.2 0 0 1 470.2 1519.4Z" fill="#000" opacity="0.7" filter="url(#fcl)"/><path d="M470.2 1519.4L493.4 1519.4A75.2 75.2 0 0 1 555 1576.5L555 1610.9A75.2 75.2 0 0 1 493.4 1668L470.2 1668A75.2 75.2 0 0 1 408.6 1610.9L408.6 1576.5A75.2 75.2 0 0 1 470.2 1519.4Z" fill="url(#pdb)" opacity="0.85"/><path d="M470.2 1519.4L493.4 1519.4A75.2 75.2 0 0 1 555 1576.5L555 1610.9A75.2 75.2 0 0 1 493.4 1668L470.2 1668A75.2 75.2 0 0 1 408.6 1610.9L408.6 1576.5A75.2 75.2 0 0 1 470.2 1519.4Z" fill="url(#gV)"/><path d="M622.6 1519.4L645.8 1519.4A75.2 75.2 0 0 1 707.4 1576.5L707.4 1610.9A75.2 75.2 0 0 1 645.8 1668L622.6 1668A75.2 75.2 0 0 1 561 1610.9L561 1576.5A75.2 75.2 0 0 1 622.6 1519.4Z" fill="#b6aeb5"/><path d="M622.6 1519.4L645.8 1519.4A75.2 75.2 0 0 1 707.4 1576.5L707.4 1610.9A75.2 75.2 0 0 1 645.8 1668L622.6 1668A75.2 75.2 0 0 1 561 1610.9L561 1576.5A75.2 75.2 0 0 1 622.6 1519.4Z" fill="#000" opacity="0.6" filter="url(#fcl)"/><path d="M622.6 1519.4L645.8 1519.4A75.2 75.2 0 0 1 707.4 1576.5L707.4 1610.9A75.2 75.2 0 0 1 645.8 1668L622.6 1668A75.2 75.2 0 0 1 561 1610.9L561 1576.5A75.2 75.2 0 0 1 622.6 1519.4Z" fill="url(#pda)" opacity="0.7"/><path d="M622.6 1519.4L645.8 1519.4A75.2 75.2 0 0 1 707.4 1576.5L707.4 1610.9A75.2 75.2 0 0 1 645.8 1668L622.6 1668A75.2 75.2 0 0 1 561 1610.9L561 1576.5A75.2 75.2 0 0 1 622.6 1519.4Z" fill="url(#gV)"/><path d="M775 1519.4L798.2 1519.4A75.2 75.2 0 0 1 859.8 1576.5L859.8 1610.9A75.2 75.2 0 0 1 798.2 1668L775 1668A75.2 75.2 0 0 1 713.4 1610.9L713.4 1576.5A75.2 75.2 0 0 1 775 1519.4Z" fill="#b0a9b1"/><path d="M775 1519.4L798.2 1519.4A75.2 75.2 0 0 1 859.8 1576.5L859.8 1610.9A75.2 75.2 0 0 1 798.2 1668L775 1668A75.2 75.2 0 0 1 713.4 1610.9L713.4 1576.5A75.2 75.2 0 0 1 775 1519.4Z" fill="#000" opacity="0.7" filter="url(#fcl)"/><path d="M775 1519.4L798.2 1519.4A75.2 75.2 0 0 1 859.8 1576.5L859.8 1610.9A75.2 75.2 0 0 1 798.2 1668L775 1668A75.2 75.2 0 0 1 713.4 1610.9L713.4 1576.5A75.2 75.2 0 0 1 775 1519.4Z" fill="url(#pdb)" opacity="0.85"/><path d="M775 1519.4L798.2 1519.4A75.2 75.2 0 0 1 859.8 1576.5L859.8 1610.9A75.2 75.2 0 0 1 798.2 1668L775 1668A75.2 75.2 0 0 1 713.4 1610.9L713.4 1576.5A75.2 75.2 0 0 1 775 1519.4Z" fill="url(#gV)"/><path d="M927.4 1519.4L950.6 1519.4A75.2 75.2 0 0 1 1012.2 1576.5L1012.2 1610.9A75.2 75.2 0 0 1 950.6 1668L927.4 1668A75.2 75.2 0 0 1 865.8 1610.9L865.8 1576.5A75.2 75.2 0 0 1 927.4 1519.4Z" fill="#a199a3"/><path d="M927.4 1519.4L950.6 1519.4A75.2 75.2 0 0 1 1012.2 1576.5L1012.2 1610.9A75.2 75.2 0 0 1 950.6 1668L927.4 1668A75.2 75.2 0 0 1 865.8 1610.9L865.8 1576.5A75.2 75.2 0 0 1 927.4 1519.4Z" fill="#000" opacity="0.7" filter="url(#fcl)"/><path d="M927.4 1519.4L950.6 1519.4A75.2 75.2 0 0 1 1012.2 1576.5L1012.2 1610.9A75.2 75.2 0 0 1 950.6 1668L927.4 1668A75.2 75.2 0 0 1 865.8 1610.9L865.8 1576.5A75.2 75.2 0 0 1 927.4 1519.4Z" fill="url(#pda)" opacity="0.85"/><path d="M927.4 1519.4L950.6 1519.4A75.2 75.2 0 0 1 1012.2 1576.5L1012.2 1610.9A75.2 75.2 0 0 1 950.6 1668L927.4 1668A75.2 75.2 0 0 1 865.8 1610.9L865.8 1576.5A75.2 75.2 0 0 1 927.4 1519.4Z" fill="url(#gV)"/><path d="M1079.8 1519.4L1103 1519.4A75.2 75.2 0 0 1 1164.6 1576.5L1164.6 1610.9A75.2 75.2 0 0 1 1103 1668L1079.8 1668A75.2 75.2 0 0 1 1018.2 1610.9L1018.2 1576.5A75.2 75.2 0 0 1 1079.8 1519.4Z" fill="#786c82"/><path d="M1079.8 1519.4L1103 1519.4A75.2 75.2 0 0 1 1164.6 1576.5L1164.6 1610.9A75.2 75.2 0 0 1 1103 1668L1079.8 1668A75.2 75.2 0 0 1 1018.2 1610.9L1018.2 1576.5A75.2 75.2 0 0 1 1079.8 1519.4Z" fill="#000" opacity="0.35" filter="url(#fd3)"/><path d="M1079.8 1519.4L1103 1519.4A75.2 75.2 0 0 1 1164.6 1576.5L1164.6 1610.9A75.2 75.2 0 0 1 1103 1668L1079.8 1668A75.2 75.2 0 0 1 1018.2 1610.9L1018.2 1576.5A75.2 75.2 0 0 1 1079.8 1519.4Z" fill="url(#gF)"/><path d="M1079.8 1519.4L1103 1519.4A75.2 75.2 0 0 1 1164.6 1576.5L1164.6 1610.9A75.2 75.2 0 0 1 1103 1668L1079.8 1668A75.2 75.2 0 0 1 1018.2 1610.9L1018.2 1576.5A75.2 75.2 0 0 1 1079.8 1519.4Z" fill="url(#gFv)"/><path d="M1232.2 1519.4L1255.4 1519.4A75.2 75.2 0 0 1 1317 1576.5L1317 1610.9A75.2 75.2 0 0 1 1255.4 1668L1232.2 1668A75.2 75.2 0 0 1 1170.6 1610.9L1170.6 1576.5A75.2 75.2 0 0 1 1232.2 1519.4Z" fill="#b1a9af"/><g fill="#4f4468" fill-opacity="0.8"><circle cx="1180.6" cy="1584.9" r="2.5"/><circle cx="1228.5" cy="1653.9" r="2.1"/><circle cx="1231.3" cy="1573.7" r="0.9"/><circle cx="1198" cy="1634.5" r="1.3"/><circle cx="1203.8" cy="1593.3" r="2.3"/><circle cx="1286.2" cy="1578.5" r="2.6"/><circle cx="1303" cy="1618.1" r="2.4"/><circle cx="1278.6" cy="1642.1" r="1.9"/><circle cx="1275.1" cy="1584.7" r="1.8"/><circle cx="1285.8" cy="1555.5" r="1.4"/><circle cx="1303.7" cy="1627.6" r="1.7"/><circle cx="1270.5" cy="1593.1" r="2.3"/><circle cx="1270.2" cy="1530.9" r="0.9"/><circle cx="1232.6" cy="1605.3" r="2.2"/><circle cx="1201.3" cy="1648.7" r="1.5"/><circle cx="1253.9" cy="1528.3" r="1.3"/><circle cx="1178.7" cy="1569.4" r="1.8"/><circle cx="1220.5" cy="1622" r="2.2"/><circle cx="1263.2" cy="1645.3" r="1.8"/><circle cx="1219.7" cy="1585.3" r="2"/><circle cx="1278.5" cy="1573.6" r="1.5"/><circle cx="1289.2" cy="1564.5" r="1.4"/><circle cx="1305.3" cy="1597.5" r="1.5"/><circle cx="1207.5" cy="1601.3" r="2"/><circle cx="1238.6" cy="1554.5" r="1"/><circle cx="1311.3" cy="1588.1" r="0.9"/><circle cx="1189.7" cy="1570.6" r="1.6"/><circle cx="1235.8" cy="1524.6" r="1.9"/><circle cx="1219.4" cy="1613.5" r="1.3"/><circle cx="1257.6" cy="1612.9" r="1.3"/><circle cx="1272.2" cy="1550.1" r="2.3"/><circle cx="1299.9" cy="1563" r="1"/><circle cx="1263.1" cy="1584" r="2.2"/><circle cx="1274.3" cy="1544.9" r="1.6"/><circle cx="1262.3" cy="1603.1" r="2"/><circle cx="1246.5" cy="1645.4" r="1.4"/><circle cx="1263.8" cy="1626.7" r="2.1"/><circle cx="1199.5" cy="1597.4" r="1.7"/><circle cx="1195.7" cy="1576.7" r="1.7"/><circle cx="1304.1" cy="1581.2" r="1.3"/><circle cx="1231" cy="1621.8" r="1.5"/><circle cx="1304.1" cy="1604.6" r="1.9"/><circle cx="1184.5" cy="1625" r="1.5"/><circle cx="1183.5" cy="1561.3" r="1.8"/><circle cx="1211.1" cy="1565.6" r="2.6"/><circle cx="1245" cy="1554.6" r="1.5"/><circle cx="1200.9" cy="1565.9" r="1.8"/><circle cx="1263" cy="1644" r="2.1"/><circle cx="1248.3" cy="1546.3" r="1.7"/><circle cx="1191.8" cy="1592.3" r="1.7"/><circle cx="1280.1" cy="1596.5" r="2.6"/><circle cx="1266.2" cy="1550.6" r="2.2"/><circle cx="1252.6" cy="1629.3" r="1.8"/><circle cx="1240.1" cy="1582.5" r="1.7"/><circle cx="1290" cy="1562.8" r="2.6"/><circle cx="1298.9" cy="1633" r="2.3"/><circle cx="1295.1" cy="1602.2" r="2.2"/><circle cx="1253.8" cy="1650" r="2.3"/><circle cx="1256.5" cy="1549" r="1"/><circle cx="1213.9" cy="1586.2" r="1.8"/><circle cx="1238.7" cy="1635.2" r="1.8"/><circle cx="1273.5" cy="1530.2" r="1.6"/><circle cx="1305.2" cy="1596.6" r="1.5"/><circle cx="1246.9" cy="1529.1" r="1"/><circle cx="1239.2" cy="1556.1" r="1.4"/><circle cx="1217.5" cy="1638.7" r="1.3"/><circle cx="1206" cy="1595" r="1.1"/><circle cx="1243.8" cy="1652.3" r="1.4"/><circle cx="1257" cy="1634.6" r="1.3"/><circle cx="1306.5" cy="1587.6" r="1.2"/><circle cx="1231.1" cy="1638.8" r="1.8"/><circle cx="1204.5" cy="1626.8" r="2.2"/><circle cx="1273.9" cy="1637.5" r="1.2"/><circle cx="1204.8" cy="1585" r="2.3"/><circle cx="1294.7" cy="1546.5" r="1.6"/><circle cx="1222.1" cy="1574.2" r="2.1"/><circle cx="1251.9" cy="1548" r="1.4"/><circle cx="1246.9" cy="1532.3" r="2.3"/><circle cx="1235.4" cy="1627.6" r="1.3"/><circle cx="1246" cy="1599.2" r="1.1"/><circle cx="1197.3" cy="1595.8" r="2.4"/><circle cx="1222.7" cy="1614" r="2.5"/><circle cx="1280.9" cy="1612" r="2.2"/><circle cx="1213.6" cy="1656.5" r="2.2"/><circle cx="1220.2" cy="1655.3" r="2.5"/><circle cx="1217" cy="1591.3" r="1.1"/><circle cx="1271.5" cy="1532.8" r="2"/><circle cx="1253.2" cy="1531.2" r="1.3"/><circle cx="1258.9" cy="1658.1" r="2.3"/><circle cx="1209.8" cy="1608.1" r="1"/><circle cx="1187.9" cy="1631.9" r="1.2"/><circle cx="1238.4" cy="1605.9" r="1.9"/><circle cx="1298" cy="1615.2" r="1.7"/><circle cx="1211.8" cy="1610.5" r="1.4"/><circle cx="1297.7" cy="1550.8" r="2.2"/><circle cx="1251.3" cy="1625.2" r="1.5"/><circle cx="1292.8" cy="1545.2" r="1.3"/><circle cx="1214.5" cy="1561.2" r="1.7"/><circle cx="1263.3" cy="1650.8" r="2.2"/><circle cx="1289.7" cy="1575.4" r="1.7"/><circle cx="1228.2" cy="1573.2" r="2.4"/><circle cx="1247.6" cy="1560" r="1.6"/><circle cx="1178.5" cy="1599.4" r="2.1"/><circle cx="1248.5" cy="1662.8" r="2.5"/><circle cx="1275" cy="1554.9" r="1.7"/><circle cx="1185.4" cy="1632.6" r="1.7"/><circle cx="1273.3" cy="1586" r="1"/><circle cx="1212.6" cy="1599.2" r="1.3"/><circle cx="1268.2" cy="1599.3" r="1.6"/><circle cx="1276.8" cy="1613.9" r="1.9"/><circle cx="1239.1" cy="1627" r="2.1"/><circle cx="1242.1" cy="1623.1" r="2.1"/><circle cx="1231" cy="1621.9" r="2.3"/><circle cx="1240.8" cy="1631.2" r="2.6"/><circle cx="1250" cy="1621.8" r="1.4"/><circle cx="1237.9" cy="1628.4" r="1.7"/><circle cx="1242.2" cy="1618.5" r="2.8"/><circle cx="1251" cy="1624.8" r="1.4"/><circle cx="1217.6" cy="1595.9" r="2.7"/><circle cx="1227.5" cy="1592.5" r="1.4"/><circle cx="1222.6" cy="1588.4" r="1.5"/><circle cx="1223.3" cy="1589.8" r="2.6"/><circle cx="1220.8" cy="1607.8" r="1.4"/><circle cx="1227.4" cy="1594.5" r="1.7"/><circle cx="1220.1" cy="1587.9" r="1.7"/><circle cx="1224.9" cy="1591.5" r="1.2"/><circle cx="1189.5" cy="1605.1" r="1.9"/><circle cx="1194.8" cy="1596" r="1.3"/><circle cx="1191.3" cy="1602.7" r="2.7"/><circle cx="1192.8" cy="1599.5" r="2.3"/><circle cx="1194" cy="1604.2" r="1.7"/><circle cx="1196.6" cy="1606.8" r="2.7"/><circle cx="1190.8" cy="1604.6" r="1.7"/><circle cx="1192" cy="1607.1" r="2.5"/><circle cx="1229.1" cy="1602.1" r="2.4"/><circle cx="1233.9" cy="1606.3" r="2"/><circle cx="1232" cy="1604.1" r="2.4"/><circle cx="1240.5" cy="1595.5" r="2.3"/><circle cx="1225.5" cy="1604.2" r="1.5"/><circle cx="1237" cy="1604.5" r="2"/><circle cx="1235.6" cy="1607.7" r="2.5"/><circle cx="1231.8" cy="1600.3" r="1.4"/></g><path d="M1384.6 1519.4L1407.8 1519.4A75.2 75.2 0 0 1 1469.4 1576.5L1469.4 1610.9A75.2 75.2 0 0 1 1407.8 1668L1384.6 1668A75.2 75.2 0 0 1 1323 1610.9L1323 1576.5A75.2 75.2 0 0 1 1384.6 1519.4Z" fill="#c1bab8"/><g fill="#4f4468" fill-opacity="0.8"><circle cx="1412.2" cy="1594.3" r="1.3"/><circle cx="1380.9" cy="1530.9" r="1.6"/><circle cx="1447.1" cy="1608.8" r="2.5"/><circle cx="1452.2" cy="1599.1" r="2.6"/><circle cx="1371.8" cy="1642.5" r="2.3"/><circle cx="1381.4" cy="1568.2" r="2.2"/><circle cx="1346.7" cy="1564.1" r="1.9"/><circle cx="1420.8" cy="1546" r="2.5"/><circle cx="1404.6" cy="1600.7" r="1.1"/><circle cx="1336.1" cy="1590.9" r="2.5"/><circle cx="1402.5" cy="1594" r="1.6"/><circle cx="1371.5" cy="1556.2" r="1.4"/><circle cx="1413.8" cy="1651" r="1.9"/><circle cx="1435" cy="1581.8" r="1.7"/><circle cx="1453.9" cy="1579.7" r="1.3"/><circle cx="1389.9" cy="1546.6" r="1.1"/><circle cx="1435.8" cy="1624.5" r="1.4"/><circle cx="1392.6" cy="1654" r="1.3"/><circle cx="1348" cy="1609.1" r="0.9"/><circle cx="1408.5" cy="1559.1" r="1.2"/><circle cx="1363.6" cy="1590.7" r="1"/><circle cx="1407" cy="1603" r="1.5"/><circle cx="1381.2" cy="1622.5" r="1.2"/><circle cx="1426.5" cy="1549.2" r="1.9"/><circle cx="1464.3" cy="1597.8" r="1"/><circle cx="1401.2" cy="1536.5" r="1.6"/><circle cx="1369.6" cy="1638.6" r="1.9"/><circle cx="1405.5" cy="1579.6" r="1.1"/><circle cx="1369.4" cy="1567" r="1.9"/><circle cx="1386.5" cy="1602.5" r="2.3"/><circle cx="1412" cy="1631.5" r="2.2"/><circle cx="1452.5" cy="1559.9" r="2.5"/><circle cx="1381.7" cy="1624.8" r="1.7"/><circle cx="1423.1" cy="1543.2" r="2"/><circle cx="1387.2" cy="1562" r="1.9"/><circle cx="1336.4" cy="1623" r="1.4"/><circle cx="1341.9" cy="1578.2" r="2.1"/><circle cx="1410.4" cy="1534" r="1.1"/><circle cx="1409.6" cy="1590.7" r="2.1"/><circle cx="1388.7" cy="1614.9" r="1.5"/><circle cx="1420.8" cy="1615.1" r="2.5"/><circle cx="1412.6" cy="1553.8" r="1.7"/><circle cx="1363.6" cy="1570.5" r="1.1"/><circle cx="1335.3" cy="1617.3" r="2.5"/><circle cx="1346.7" cy="1553.8" r="1.6"/><circle cx="1410.4" cy="1531.4" r="2.4"/><circle cx="1414.1" cy="1641.9" r="1"/><circle cx="1353.7" cy="1569.8" r="1.9"/><circle cx="1355.5" cy="1585.4" r="1.1"/><circle cx="1369.1" cy="1650.2" r="1.4"/><circle cx="1459.7" cy="1579.7" r="1.3"/><circle cx="1335.6" cy="1612.4" r="0.9"/><circle cx="1401.9" cy="1548.8" r="2"/><circle cx="1453.3" cy="1596.9" r="1"/><circle cx="1384.3" cy="1648" r="2"/><circle cx="1372.9" cy="1621.2" r="1.5"/><circle cx="1385.4" cy="1625.8" r="1.3"/><circle cx="1334.6" cy="1595" r="2.3"/><circle cx="1341.9" cy="1636.3" r="1.5"/><circle cx="1428.7" cy="1538.5" r="2.2"/><circle cx="1442.8" cy="1564.1" r="2.4"/><circle cx="1388.9" cy="1643.7" r="1.9"/><circle cx="1379.2" cy="1590.1" r="1.3"/><circle cx="1367.1" cy="1562" r="2.1"/><circle cx="1390.7" cy="1541.2" r="1.1"/><circle cx="1331.9" cy="1616.3" r="1.4"/><circle cx="1448.8" cy="1627" r="1.5"/><circle cx="1412.1" cy="1642" r="2.5"/><circle cx="1366" cy="1581.3" r="0.9"/><circle cx="1364.1" cy="1610.9" r="2.5"/><circle cx="1440.1" cy="1555.2" r="2.2"/><circle cx="1430.8" cy="1555.3" r="2.1"/><circle cx="1437.2" cy="1560.2" r="1.3"/><circle cx="1435.5" cy="1554.5" r="2.6"/><circle cx="1434.1" cy="1553.9" r="2.6"/><circle cx="1439.4" cy="1559.2" r="2.5"/><circle cx="1429.1" cy="1565.2" r="2"/><circle cx="1448.1" cy="1557.3" r="2.8"/><circle cx="1350.8" cy="1605.4" r="2.4"/><circle cx="1344.1" cy="1607.9" r="1.2"/><circle cx="1349" cy="1609.3" r="2.7"/><circle cx="1352.9" cy="1607.7" r="1.7"/><circle cx="1353.1" cy="1604.5" r="2.3"/><circle cx="1353.4" cy="1600.9" r="1.8"/><circle cx="1351.7" cy="1605" r="1.6"/><circle cx="1354.1" cy="1604.9" r="1.6"/><circle cx="1425" cy="1622.8" r="2"/><circle cx="1424.2" cy="1622.7" r="2"/><circle cx="1420.6" cy="1630.1" r="2.7"/><circle cx="1426.7" cy="1622.3" r="1.5"/><circle cx="1410.6" cy="1623.1" r="1.6"/><circle cx="1421.8" cy="1629" r="2.7"/><circle cx="1421.6" cy="1627.2" r="1.8"/><circle cx="1419.1" cy="1623.1" r="2.4"/><circle cx="1403.2" cy="1639.4" r="2.8"/><circle cx="1404.8" cy="1632.4" r="1.8"/><circle cx="1407.6" cy="1629.2" r="1.3"/><circle cx="1409.1" cy="1637.8" r="1.8"/><circle cx="1413" cy="1636.7" r="2.7"/><circle cx="1413.2" cy="1630" r="1.5"/><circle cx="1405.6" cy="1622.3" r="1.4"/><circle cx="1405.4" cy="1630.9" r="2.7"/></g><path d="M160.6 1671.8L193.4 1671.8A75.2 75.2 0 0 1 250.2 1728L250.2 1762.4A75.2 75.2 0 0 1 193.4 1818.6L160.6 1818.6A75.2 75.2 0 0 1 103.8 1762.4L103.8 1728A75.2 75.2 0 0 1 160.6 1671.8Z" fill="#9898ac"/><path d="M160.6 1671.8L193.4 1671.8A75.2 75.2 0 0 1 250.2 1728L250.2 1762.4A75.2 75.2 0 0 1 193.4 1818.6L160.6 1818.6A75.2 75.2 0 0 1 103.8 1762.4L103.8 1728A75.2 75.2 0 0 1 160.6 1671.8Z" fill="url(#gC)"/><ellipse cx="209" cy="1709.5" rx="3" ry="2.2" fill="#8a6d3c" opacity="0.8"/><path d="M313 1671.8L345.8 1671.8A75.2 75.2 0 0 1 402.6 1728L402.6 1762.4A75.2 75.2 0 0 1 345.8 1818.6L313 1818.6A75.2 75.2 0 0 1 256.2 1762.4L256.2 1728A75.2 75.2 0 0 1 313 1671.8Z" fill="#c2b8b8"/><path d="M313 1671.8L345.8 1671.8A75.2 75.2 0 0 1 402.6 1728L402.6 1762.4A75.2 75.2 0 0 1 345.8 1818.6L313 1818.6A75.2 75.2 0 0 1 256.2 1762.4L256.2 1728A75.2 75.2 0 0 1 313 1671.8Z" fill="#000" opacity="0.4" filter="url(#fcl)"/><path d="M313 1671.8L345.8 1671.8A75.2 75.2 0 0 1 402.6 1728L402.6 1762.4A75.2 75.2 0 0 1 345.8 1818.6L313 1818.6A75.2 75.2 0 0 1 256.2 1762.4L256.2 1728A75.2 75.2 0 0 1 313 1671.8Z" fill="url(#pdb)" opacity="0.55"/><path d="M313 1671.8L345.8 1671.8A75.2 75.2 0 0 1 402.6 1728L402.6 1762.4A75.2 75.2 0 0 1 345.8 1818.6L313 1818.6A75.2 75.2 0 0 1 256.2 1762.4L256.2 1728A75.2 75.2 0 0 1 313 1671.8Z" fill="url(#gV)"/><path d="M465.4 1671.8L498.2 1671.8A75.2 75.2 0 0 1 555 1728L555 1762.4A75.2 75.2 0 0 1 498.2 1818.6L465.4 1818.6A75.2 75.2 0 0 1 408.6 1762.4L408.6 1728A75.2 75.2 0 0 1 465.4 1671.8Z" fill="#b2aaae"/><path d="M465.4 1671.8L498.2 1671.8A75.2 75.2 0 0 1 555 1728L555 1762.4A75.2 75.2 0 0 1 498.2 1818.6L465.4 1818.6A75.2 75.2 0 0 1 408.6 1762.4L408.6 1728A75.2 75.2 0 0 1 465.4 1671.8Z" fill="#000" opacity="0.6" filter="url(#fcl)"/><path d="M465.4 1671.8L498.2 1671.8A75.2 75.2 0 0 1 555 1728L555 1762.4A75.2 75.2 0 0 1 498.2 1818.6L465.4 1818.6A75.2 75.2 0 0 1 408.6 1762.4L408.6 1728A75.2 75.2 0 0 1 465.4 1671.8Z" fill="url(#pda)" opacity="0.7"/><path d="M465.4 1671.8L498.2 1671.8A75.2 75.2 0 0 1 555 1728L555 1762.4A75.2 75.2 0 0 1 498.2 1818.6L465.4 1818.6A75.2 75.2 0 0 1 408.6 1762.4L408.6 1728A75.2 75.2 0 0 1 465.4 1671.8Z" fill="url(#gV)"/><path d="M617.8 1671.8L650.6 1671.8A75.2 75.2 0 0 1 707.4 1728L707.4 1762.4A75.2 75.2 0 0 1 650.6 1818.6L617.8 1818.6A75.2 75.2 0 0 1 561 1762.4L561 1728A75.2 75.2 0 0 1 617.8 1671.8Z" fill="#b7afb0"/><path d="M617.8 1671.8L650.6 1671.8A75.2 75.2 0 0 1 707.4 1728L707.4 1762.4A75.2 75.2 0 0 1 650.6 1818.6L617.8 1818.6A75.2 75.2 0 0 1 561 1762.4L561 1728A75.2 75.2 0 0 1 617.8 1671.8Z" fill="#000" opacity="0.4" filter="url(#fcl)"/><path d="M617.8 1671.8L650.6 1671.8A75.2 75.2 0 0 1 707.4 1728L707.4 1762.4A75.2 75.2 0 0 1 650.6 1818.6L617.8 1818.6A75.2 75.2 0 0 1 561 1762.4L561 1728A75.2 75.2 0 0 1 617.8 1671.8Z" fill="url(#pdb)" opacity="0.55"/><path d="M617.8 1671.8L650.6 1671.8A75.2 75.2 0 0 1 707.4 1728L707.4 1762.4A75.2 75.2 0 0 1 650.6 1818.6L617.8 1818.6A75.2 75.2 0 0 1 561 1762.4L561 1728A75.2 75.2 0 0 1 617.8 1671.8Z" fill="url(#gV)"/><path d="M770.2 1671.8L803 1671.8A75.2 75.2 0 0 1 859.8 1728L859.8 1762.4A75.2 75.2 0 0 1 803 1818.6L770.2 1818.6A75.2 75.2 0 0 1 713.4 1762.4L713.4 1728A75.2 75.2 0 0 1 770.2 1671.8Z" fill="#a8a0a7"/><path d="M770.2 1671.8L803 1671.8A75.2 75.2 0 0 1 859.8 1728L859.8 1762.4A75.2 75.2 0 0 1 803 1818.6L770.2 1818.6A75.2 75.2 0 0 1 713.4 1762.4L713.4 1728A75.2 75.2 0 0 1 770.2 1671.8Z" fill="#000" opacity="0.6" filter="url(#fcl)"/><path d="M770.2 1671.8L803 1671.8A75.2 75.2 0 0 1 859.8 1728L859.8 1762.4A75.2 75.2 0 0 1 803 1818.6L770.2 1818.6A75.2 75.2 0 0 1 713.4 1762.4L713.4 1728A75.2 75.2 0 0 1 770.2 1671.8Z" fill="url(#pda)" opacity="0.7"/><path d="M770.2 1671.8L803 1671.8A75.2 75.2 0 0 1 859.8 1728L859.8 1762.4A75.2 75.2 0 0 1 803 1818.6L770.2 1818.6A75.2 75.2 0 0 1 713.4 1762.4L713.4 1728A75.2 75.2 0 0 1 770.2 1671.8Z" fill="url(#gV)"/><path d="M922.6 1671.8L955.4 1671.8A75.2 75.2 0 0 1 1012.2 1728L1012.2 1762.4A75.2 75.2 0 0 1 955.4 1818.6L922.6 1818.6A75.2 75.2 0 0 1 865.8 1762.4L865.8 1728A75.2 75.2 0 0 1 922.6 1671.8Z" fill="#b1aaac"/><path d="M922.6 1671.8L955.4 1671.8A75.2 75.2 0 0 1 1012.2 1728L1012.2 1762.4A75.2 75.2 0 0 1 955.4 1818.6L922.6 1818.6A75.2 75.2 0 0 1 865.8 1762.4L865.8 1728A75.2 75.2 0 0 1 922.6 1671.8Z" fill="#000" opacity="0.4" filter="url(#fcl)"/><path d="M922.6 1671.8L955.4 1671.8A75.2 75.2 0 0 1 1012.2 1728L1012.2 1762.4A75.2 75.2 0 0 1 955.4 1818.6L922.6 1818.6A75.2 75.2 0 0 1 865.8 1762.4L865.8 1728A75.2 75.2 0 0 1 922.6 1671.8Z" fill="url(#pdb)" opacity="0.55"/><path d="M922.6 1671.8L955.4 1671.8A75.2 75.2 0 0 1 1012.2 1728L1012.2 1762.4A75.2 75.2 0 0 1 955.4 1818.6L922.6 1818.6A75.2 75.2 0 0 1 865.8 1762.4L865.8 1728A75.2 75.2 0 0 1 922.6 1671.8Z" fill="url(#gV)"/><path d="M1075 1671.8L1107.8 1671.8A75.2 75.2 0 0 1 1164.6 1728L1164.6 1762.4A75.2 75.2 0 0 1 1107.8 1818.6L1075 1818.6A75.2 75.2 0 0 1 1018.2 1762.4L1018.2 1728A75.2 75.2 0 0 1 1075 1671.8Z" fill="#655c74"/><path d="M1075 1671.8L1107.8 1671.8A75.2 75.2 0 0 1 1164.6 1728L1164.6 1762.4A75.2 75.2 0 0 1 1107.8 1818.6L1075 1818.6A75.2 75.2 0 0 1 1018.2 1762.4L1018.2 1728A75.2 75.2 0 0 1 1075 1671.8Z" fill="#000" opacity="0.35" filter="url(#fd3)"/><path d="M1075 1671.8L1107.8 1671.8A75.2 75.2 0 0 1 1164.6 1728L1164.6 1762.4A75.2 75.2 0 0 1 1107.8 1818.6L1075 1818.6A75.2 75.2 0 0 1 1018.2 1762.4L1018.2 1728A75.2 75.2 0 0 1 1075 1671.8Z" fill="url(#gF)"/><path d="M1227.4 1671.8L1260.2 1671.8A75.2 75.2 0 0 1 1317 1728L1317 1762.4A75.2 75.2 0 0 1 1260.2 1818.6L1227.4 1818.6A75.2 75.2 0 0 1 1170.6 1762.4L1170.6 1728A75.2 75.2 0 0 1 1227.4 1671.8Z" fill="#c6bebb"/><g fill="#4f4468" fill-opacity="0.8"><circle cx="1277" cy="1733.6" r="2.5"/><circle cx="1265.7" cy="1773.2" r="2.5"/><circle cx="1204.9" cy="1802.7" r="1.9"/><circle cx="1197.2" cy="1695.5" r="2.1"/><circle cx="1223.2" cy="1786.4" r="1.5"/><circle cx="1246.7" cy="1785.4" r="2.1"/><circle cx="1228.6" cy="1752.2" r="2.3"/><circle cx="1209.1" cy="1686.7" r="1.9"/><circle cx="1209.3" cy="1798.4" r="2.1"/><circle cx="1195.3" cy="1719" r="1.5"/><circle cx="1241.5" cy="1757.9" r="1.6"/><circle cx="1214.2" cy="1743.3" r="2.5"/><circle cx="1278.5" cy="1724.5" r="1.1"/><circle cx="1293.4" cy="1772.1" r="2.2"/><circle cx="1187" cy="1772.2" r="1.3"/><circle cx="1227.9" cy="1775" r="0.9"/><circle cx="1310.6" cy="1748.2" r="1.1"/><circle cx="1292" cy="1775.9" r="1.5"/><circle cx="1231.8" cy="1742.1" r="1"/><circle cx="1175" cy="1753.9" r="1.2"/><circle cx="1282.4" cy="1794.2" r="2.2"/><circle cx="1183.4" cy="1740.2" r="1.5"/><circle cx="1249.3" cy="1785.3" r="1.4"/><circle cx="1188.5" cy="1718.2" r="2.3"/><circle cx="1227.6" cy="1718.8" r="2.1"/><circle cx="1244.3" cy="1771.3" r="1.6"/><circle cx="1289" cy="1743.5" r="2.1"/><circle cx="1254" cy="1689.5" r="1.2"/><circle cx="1210.4" cy="1697.1" r="1.4"/><circle cx="1256.2" cy="1756.9" r="2.1"/><circle cx="1252.1" cy="1740.4" r="1.6"/><circle cx="1261.2" cy="1681.9" r="2.2"/><circle cx="1266.7" cy="1780.5" r="1"/><circle cx="1197.3" cy="1785.1" r="1.3"/><circle cx="1279.5" cy="1739" r="1.7"/><circle cx="1194.6" cy="1730.8" r="2.1"/><circle cx="1180.1" cy="1741.9" r="1.9"/><circle cx="1306.5" cy="1727.8" r="2.4"/><circle cx="1297.4" cy="1724.8" r="1.6"/><circle cx="1258.8" cy="1777" r="1.7"/><circle cx="1246.7" cy="1696.1" r="1"/><circle cx="1231.6" cy="1796.2" r="1.2"/><circle cx="1273.8" cy="1719.8" r="1.1"/><circle cx="1285.2" cy="1720.5" r="1.3"/><circle cx="1286.8" cy="1773.5" r="2.5"/><circle cx="1226.8" cy="1784.4" r="2.4"/><circle cx="1205.9" cy="1695.5" r="0.9"/><circle cx="1288.9" cy="1690.9" r="1.6"/><circle cx="1253" cy="1721.9" r="1.3"/><circle cx="1273.2" cy="1729.2" r="1.5"/><circle cx="1232.5" cy="1770" r="2.4"/><circle cx="1303.7" cy="1780" r="1.5"/><circle cx="1222.1" cy="1709.9" r="1.4"/><circle cx="1188.1" cy="1705.4" r="2"/><circle cx="1258.2" cy="1799.1" r="2.1"/><circle cx="1287.9" cy="1740.4" r="2.4"/><circle cx="1175.2" cy="1762.3" r="1.8"/><circle cx="1234.2" cy="1804.5" r="2.5"/><circle cx="1270.3" cy="1779.9" r="1.7"/><circle cx="1303.4" cy="1712.8" r="1.3"/><circle cx="1208.6" cy="1700" r="1.9"/><circle cx="1287.3" cy="1760.3" r="2.4"/><circle cx="1234.4" cy="1813.4" r="2.2"/><circle cx="1216.6" cy="1765.7" r="1.3"/><circle cx="1282.4" cy="1705" r="2.3"/><circle cx="1194" cy="1772.5" r="1.5"/><circle cx="1269.3" cy="1786" r="1.2"/><circle cx="1202.3" cy="1751.8" r="1.2"/><circle cx="1220.6" cy="1808.2" r="2.4"/><circle cx="1266.2" cy="1720.7" r="1.7"/><circle cx="1226.2" cy="1730.7" r="2.7"/><circle cx="1236.3" cy="1730" r="2"/><circle cx="1223.3" cy="1729.3" r="1.2"/><circle cx="1236.8" cy="1716.7" r="1.8"/><circle cx="1233" cy="1716.6" r="1.9"/><circle cx="1235.3" cy="1727.8" r="2.7"/><circle cx="1227.3" cy="1732.1" r="1.3"/><circle cx="1234" cy="1721.5" r="2.3"/><circle cx="1227.8" cy="1777" r="1.5"/><circle cx="1223" cy="1796.1" r="2.2"/><circle cx="1234.1" cy="1792.2" r="2.1"/><circle cx="1233.5" cy="1792.3" r="1.9"/><circle cx="1230.8" cy="1796.3" r="2"/><circle cx="1230.6" cy="1788.3" r="2.7"/><circle cx="1240.1" cy="1795.1" r="1.9"/><circle cx="1225.8" cy="1792.3" r="1.8"/><circle cx="1185.5" cy="1752.6" r="1.6"/><circle cx="1197.6" cy="1753.6" r="1.7"/><circle cx="1194.5" cy="1755.3" r="2.7"/><circle cx="1199.3" cy="1753.3" r="1.7"/><circle cx="1196.3" cy="1754.3" r="1.2"/><circle cx="1184.6" cy="1757.5" r="1.9"/><circle cx="1193.6" cy="1756.3" r="1.6"/><circle cx="1188.8" cy="1759.6" r="2.1"/><circle cx="1251.4" cy="1704.1" r="1.9"/><circle cx="1253" cy="1709.1" r="1.7"/><circle cx="1261.1" cy="1703.5" r="1.9"/><circle cx="1260.8" cy="1701.1" r="2.6"/><circle cx="1259.6" cy="1692.5" r="1.6"/><circle cx="1249.8" cy="1695.3" r="1.8"/><circle cx="1256.4" cy="1703.3" r="1.3"/><circle cx="1256.1" cy="1708.8" r="1.6"/></g><path d="M1379.8 1671.8L1412.6 1671.8A75.2 75.2 0 0 1 1469.4 1728L1469.4 1762.4A75.2 75.2 0 0 1 1412.6 1818.6L1379.8 1818.6A75.2 75.2 0 0 1 1323 1762.4L1323 1728A75.2 75.2 0 0 1 1379.8 1671.8Z" fill="#b9b3b6"/><g fill="#4f4468" fill-opacity="0.8"><circle cx="1392.4" cy="1796.8" r="1.9"/><circle cx="1372.5" cy="1808" r="2.6"/><circle cx="1455.7" cy="1735.2" r="2.5"/><circle cx="1394.3" cy="1676.7" r="1.7"/><circle cx="1405.9" cy="1743.6" r="2.1"/><circle cx="1386.7" cy="1722.6" r="2.3"/><circle cx="1349.9" cy="1794.6" r="2.6"/><circle cx="1330.5" cy="1770.9" r="1.2"/><circle cx="1408.8" cy="1810.1" r="2.2"/><circle cx="1381.5" cy="1788.5" r="1.6"/><circle cx="1393.8" cy="1731.7" r="1.9"/><circle cx="1371.4" cy="1690" r="1"/><circle cx="1397.4" cy="1779.8" r="1.6"/><circle cx="1373.4" cy="1699" r="1.5"/><circle cx="1339.1" cy="1776" r="2.5"/><circle cx="1396.8" cy="1706.9" r="1"/><circle cx="1389.8" cy="1739" r="1.3"/><circle cx="1422.3" cy="1767.5" r="0.9"/><circle cx="1460.6" cy="1771.3" r="2.4"/><circle cx="1461.9" cy="1751.6" r="2.3"/><circle cx="1456" cy="1724.5" r="1.4"/><circle cx="1393.6" cy="1724.4" r="1.9"/><circle cx="1403.4" cy="1727.9" r="1.2"/><circle cx="1439.6" cy="1726" r="1.2"/><circle cx="1365.7" cy="1773.2" r="0.9"/><circle cx="1417.3" cy="1704.7" r="1.9"/><circle cx="1360.9" cy="1685.8" r="2.3"/><circle cx="1355.3" cy="1731.4" r="1.9"/><circle cx="1401.4" cy="1773.3" r="2.1"/><circle cx="1460.1" cy="1725.4" r="1.1"/><circle cx="1386.4" cy="1686.2" r="2.2"/><circle cx="1357" cy="1774.9" r="2.2"/><circle cx="1423.6" cy="1777.9" r="1.1"/><circle cx="1368.8" cy="1718.5" r="2.2"/><circle cx="1462.1" cy="1759.8" r="1.7"/><circle cx="1379" cy="1754.6" r="1.4"/><circle cx="1378.1" cy="1703.8" r="1.2"/><circle cx="1437.2" cy="1779.3" r="0.9"/><circle cx="1351.6" cy="1726.4" r="1.9"/><circle cx="1446.7" cy="1785.8" r="1.2"/><circle cx="1383.2" cy="1687.1" r="2.4"/><circle cx="1350.8" cy="1712" r="2"/><circle cx="1377.2" cy="1774.8" r="1.3"/><circle cx="1428" cy="1704.4" r="1.7"/><circle cx="1457.3" cy="1733.6" r="2"/><circle cx="1381.3" cy="1718.1" r="1.8"/><circle cx="1414.2" cy="1805.4" r="1.9"/><circle cx="1399.5" cy="1789.3" r="2.6"/><circle cx="1431.5" cy="1709.7" r="1.4"/><circle cx="1404.5" cy="1796.1" r="1.1"/><circle cx="1348.6" cy="1727.9" r="1.7"/><circle cx="1407.6" cy="1703.1" r="2.3"/><circle cx="1398.6" cy="1807.6" r="1.7"/><circle cx="1356.4" cy="1763.4" r="1.2"/><circle cx="1390.7" cy="1753.4" r="1.6"/><circle cx="1370.8" cy="1730.5" r="1.5"/><circle cx="1396.3" cy="1771.7" r="2.6"/><circle cx="1456.5" cy="1734.3" r="1.4"/><circle cx="1427.9" cy="1738.3" r="1.5"/><circle cx="1465.7" cy="1758" r="1.2"/><circle cx="1443.7" cy="1702.8" r="2.2"/><circle cx="1450.4" cy="1701.8" r="1.8"/><circle cx="1379.6" cy="1698.4" r="1.5"/><circle cx="1349.9" cy="1792.1" r="2.3"/><circle cx="1381.2" cy="1788.6" r="1.8"/><circle cx="1372.4" cy="1763.2" r="1.9"/><circle cx="1467" cy="1749.9" r="1.4"/><circle cx="1371.4" cy="1702.4" r="2.1"/><circle cx="1407.4" cy="1728.2" r="1.1"/><circle cx="1459.3" cy="1722.5" r="1.4"/><circle cx="1375.3" cy="1729.5" r="2.4"/><circle cx="1376.2" cy="1731.2" r="1.8"/><circle cx="1380.3" cy="1729" r="1.8"/><circle cx="1381.6" cy="1715.6" r="1.8"/><circle cx="1382.2" cy="1725" r="2.2"/><circle cx="1385.5" cy="1719.4" r="2.7"/><circle cx="1388.7" cy="1721.9" r="1.5"/><circle cx="1377.4" cy="1719.3" r="2.4"/><circle cx="1379.2" cy="1709.7" r="2.7"/><circle cx="1372.1" cy="1701.6" r="2.2"/><circle cx="1373.4" cy="1697.7" r="2.5"/><circle cx="1370.2" cy="1703.1" r="2.4"/><circle cx="1379.6" cy="1697.2" r="2.2"/><circle cx="1381.5" cy="1694.1" r="1.7"/><circle cx="1374.9" cy="1704.8" r="2.2"/><circle cx="1367.7" cy="1702.4" r="1.3"/><circle cx="1345.2" cy="1723.5" r="2.4"/><circle cx="1345.5" cy="1721.1" r="1.6"/><circle cx="1348.4" cy="1724.7" r="1.4"/><circle cx="1343.5" cy="1734" r="2"/><circle cx="1355.6" cy="1723" r="2.3"/><circle cx="1343.9" cy="1720.4" r="1.2"/><circle cx="1348.7" cy="1717.7" r="2.3"/><circle cx="1347.2" cy="1714.8" r="2.1"/><circle cx="1379.4" cy="1734.2" r="1.5"/><circle cx="1391.2" cy="1729.5" r="1.4"/><circle cx="1401.8" cy="1731.8" r="2.2"/><circle cx="1394.8" cy="1726.9" r="2"/><circle cx="1398.1" cy="1730.7" r="1.9"/><circle cx="1390.1" cy="1732.4" r="2.1"/><circle cx="1396.5" cy="1733.8" r="2"/><circle cx="1384" cy="1728.3" r="1.5"/></g><path d="M161.6 1822.4L192.4 1822.4A75.2 75.2 0 0 1 250.2 1878.8L250.2 1913.2A75.2 75.2 0 0 1 192.4 1969.6L161.6 1969.6A75.2 75.2 0 0 1 103.8 1913.2L103.8 1878.8A75.2 75.2 0 0 1 161.6 1822.4Z" fill="#a0a0b4"/><path d="M161.6 1822.4L192.4 1822.4A75.2 75.2 0 0 1 250.2 1878.8L250.2 1913.2A75.2 75.2 0 0 1 192.4 1969.6L161.6 1969.6A75.2 75.2 0 0 1 103.8 1913.2L103.8 1878.8A75.2 75.2 0 0 1 161.6 1822.4Z" fill="url(#gC)"/><path d="M314 1822.4L344.8 1822.4A75.2 75.2 0 0 1 402.6 1878.8L402.6 1913.2A75.2 75.2 0 0 1 344.8 1969.6L314 1969.6A75.2 75.2 0 0 1 256.2 1913.2L256.2 1878.8A75.2 75.2 0 0 1 314 1822.4Z" fill="#9f97a3"/><path d="M314 1822.4L344.8 1822.4A75.2 75.2 0 0 1 402.6 1878.8L402.6 1913.2A75.2 75.2 0 0 1 344.8 1969.6L314 1969.6A75.2 75.2 0 0 1 256.2 1913.2L256.2 1878.8A75.2 75.2 0 0 1 314 1822.4Z" fill="#000" opacity="0.7" filter="url(#fcl)"/><path d="M314 1822.4L344.8 1822.4A75.2 75.2 0 0 1 402.6 1878.8L402.6 1913.2A75.2 75.2 0 0 1 344.8 1969.6L314 1969.6A75.2 75.2 0 0 1 256.2 1913.2L256.2 1878.8A75.2 75.2 0 0 1 314 1822.4Z" fill="url(#pda)" opacity="0.85"/><path d="M314 1822.4L344.8 1822.4A75.2 75.2 0 0 1 402.6 1878.8L402.6 1913.2A75.2 75.2 0 0 1 344.8 1969.6L314 1969.6A75.2 75.2 0 0 1 256.2 1913.2L256.2 1878.8A75.2 75.2 0 0 1 314 1822.4Z" fill="url(#gV)"/><path d="M466.4 1822.4L497.2 1822.4A75.2 75.2 0 0 1 555 1878.8L555 1913.2A75.2 75.2 0 0 1 497.2 1969.6L466.4 1969.6A75.2 75.2 0 0 1 408.6 1913.2L408.6 1878.8A75.2 75.2 0 0 1 466.4 1822.4Z" fill="#857d8c"/><path d="M466.4 1822.4L497.2 1822.4A75.2 75.2 0 0 1 555 1878.8L555 1913.2A75.2 75.2 0 0 1 497.2 1969.6L466.4 1969.6A75.2 75.2 0 0 1 408.6 1913.2L408.6 1878.8A75.2 75.2 0 0 1 466.4 1822.4Z" fill="#000" opacity="0.7" filter="url(#fcl)"/><path d="M466.4 1822.4L497.2 1822.4A75.2 75.2 0 0 1 555 1878.8L555 1913.2A75.2 75.2 0 0 1 497.2 1969.6L466.4 1969.6A75.2 75.2 0 0 1 408.6 1913.2L408.6 1878.8A75.2 75.2 0 0 1 466.4 1822.4Z" fill="url(#pdb)" opacity="0.85"/><path d="M466.4 1822.4L497.2 1822.4A75.2 75.2 0 0 1 555 1878.8L555 1913.2A75.2 75.2 0 0 1 497.2 1969.6L466.4 1969.6A75.2 75.2 0 0 1 408.6 1913.2L408.6 1878.8A75.2 75.2 0 0 1 466.4 1822.4Z" fill="url(#gV)"/><path d="M618.8 1822.4L649.6 1822.4A75.2 75.2 0 0 1 707.4 1878.8L707.4 1913.2A75.2 75.2 0 0 1 649.6 1969.6L618.8 1969.6A75.2 75.2 0 0 1 561 1913.2L561 1878.8A75.2 75.2 0 0 1 618.8 1822.4Z" fill="#a69fa7"/><path d="M618.8 1822.4L649.6 1822.4A75.2 75.2 0 0 1 707.4 1878.8L707.4 1913.2A75.2 75.2 0 0 1 649.6 1969.6L618.8 1969.6A75.2 75.2 0 0 1 561 1913.2L561 1878.8A75.2 75.2 0 0 1 618.8 1822.4Z" fill="#000" opacity="0.6" filter="url(#fcl)"/><path d="M618.8 1822.4L649.6 1822.4A75.2 75.2 0 0 1 707.4 1878.8L707.4 1913.2A75.2 75.2 0 0 1 649.6 1969.6L618.8 1969.6A75.2 75.2 0 0 1 561 1913.2L561 1878.8A75.2 75.2 0 0 1 618.8 1822.4Z" fill="url(#pda)" opacity="0.7"/><path d="M618.8 1822.4L649.6 1822.4A75.2 75.2 0 0 1 707.4 1878.8L707.4 1913.2A75.2 75.2 0 0 1 649.6 1969.6L618.8 1969.6A75.2 75.2 0 0 1 561 1913.2L561 1878.8A75.2 75.2 0 0 1 618.8 1822.4Z" fill="url(#gV)"/><path d="M771.2 1822.4L802 1822.4A75.2 75.2 0 0 1 859.8 1878.8L859.8 1913.2A75.2 75.2 0 0 1 802 1969.6L771.2 1969.6A75.2 75.2 0 0 1 713.4 1913.2L713.4 1878.8A75.2 75.2 0 0 1 771.2 1822.4Z" fill="#928a97"/><path d="M771.2 1822.4L802 1822.4A75.2 75.2 0 0 1 859.8 1878.8L859.8 1913.2A75.2 75.2 0 0 1 802 1969.6L771.2 1969.6A75.2 75.2 0 0 1 713.4 1913.2L713.4 1878.8A75.2 75.2 0 0 1 771.2 1822.4Z" fill="#000" opacity="0.7" filter="url(#fcl)"/><path d="M771.2 1822.4L802 1822.4A75.2 75.2 0 0 1 859.8 1878.8L859.8 1913.2A75.2 75.2 0 0 1 802 1969.6L771.2 1969.6A75.2 75.2 0 0 1 713.4 1913.2L713.4 1878.8A75.2 75.2 0 0 1 771.2 1822.4Z" fill="url(#pdb)" opacity="0.85"/><path d="M771.2 1822.4L802 1822.4A75.2 75.2 0 0 1 859.8 1878.8L859.8 1913.2A75.2 75.2 0 0 1 802 1969.6L771.2 1969.6A75.2 75.2 0 0 1 713.4 1913.2L713.4 1878.8A75.2 75.2 0 0 1 771.2 1822.4Z" fill="url(#gV)"/><path d="M923.6 1822.4L954.4 1822.4A75.2 75.2 0 0 1 1012.2 1878.8L1012.2 1913.2A75.2 75.2 0 0 1 954.4 1969.6L923.6 1969.6A75.2 75.2 0 0 1 865.8 1913.2L865.8 1878.8A75.2 75.2 0 0 1 923.6 1822.4Z" fill="#888292"/><path d="M923.6 1822.4L954.4 1822.4A75.2 75.2 0 0 1 1012.2 1878.8L1012.2 1913.2A75.2 75.2 0 0 1 954.4 1969.6L923.6 1969.6A75.2 75.2 0 0 1 865.8 1913.2L865.8 1878.8A75.2 75.2 0 0 1 923.6 1822.4Z" fill="#000" opacity="0.7" filter="url(#fcl)"/><path d="M923.6 1822.4L954.4 1822.4A75.2 75.2 0 0 1 1012.2 1878.8L1012.2 1913.2A75.2 75.2 0 0 1 954.4 1969.6L923.6 1969.6A75.2 75.2 0 0 1 865.8 1913.2L865.8 1878.8A75.2 75.2 0 0 1 923.6 1822.4Z" fill="url(#pda)" opacity="0.85"/><path d="M923.6 1822.4L954.4 1822.4A75.2 75.2 0 0 1 1012.2 1878.8L1012.2 1913.2A75.2 75.2 0 0 1 954.4 1969.6L923.6 1969.6A75.2 75.2 0 0 1 865.8 1913.2L865.8 1878.8A75.2 75.2 0 0 1 923.6 1822.4Z" fill="url(#gV)"/><path d="M1076 1822.4L1106.8 1822.4A75.2 75.2 0 0 1 1164.6 1878.8L1164.6 1913.2A75.2 75.2 0 0 1 1106.8 1969.6L1076 1969.6A75.2 75.2 0 0 1 1018.2 1913.2L1018.2 1878.8A75.2 75.2 0 0 1 1076 1822.4Z" fill="#787086"/><path d="M1076 1822.4L1106.8 1822.4A75.2 75.2 0 0 1 1164.6 1878.8L1164.6 1913.2A75.2 75.2 0 0 1 1106.8 1969.6L1076 1969.6A75.2 75.2 0 0 1 1018.2 1913.2L1018.2 1878.8A75.2 75.2 0 0 1 1076 1822.4Z" fill="#000" opacity="0.35" filter="url(#fd3)"/><path d="M1076 1822.4L1106.8 1822.4A75.2 75.2 0 0 1 1164.6 1878.8L1164.6 1913.2A75.2 75.2 0 0 1 1106.8 1969.6L1076 1969.6A75.2 75.2 0 0 1 1018.2 1913.2L1018.2 1878.8A75.2 75.2 0 0 1 1076 1822.4Z" fill="url(#gF)"/><path d="M1228.4 1822.4L1259.2 1822.4A75.2 75.2 0 0 1 1317 1878.8L1317 1913.2A75.2 75.2 0 0 1 1259.2 1969.6L1228.4 1969.6A75.2 75.2 0 0 1 1170.6 1913.2L1170.6 1878.8A75.2 75.2 0 0 1 1228.4 1822.4Z" fill="#b1abb0"/><g fill="#4f4468" fill-opacity="0.8"><circle cx="1278.4" cy="1918.6" r="2.3"/><circle cx="1189.9" cy="1922.5" r="1.3"/><circle cx="1273" cy="1853.6" r="2"/><circle cx="1217.8" cy="1882.2" r="1.3"/><circle cx="1269" cy="1946.4" r="1"/><circle cx="1180" cy="1918.5" r="2.2"/><circle cx="1279.6" cy="1927.5" r="2.4"/><circle cx="1312.8" cy="1881.7" r="1.4"/><circle cx="1185.5" cy="1862.8" r="1.1"/><circle cx="1209.7" cy="1942" r="2"/><circle cx="1192.4" cy="1899.4" r="0.9"/><circle cx="1274.2" cy="1907.2" r="1"/><circle cx="1182.5" cy="1925" r="2.5"/><circle cx="1255.6" cy="1931.6" r="1.9"/><circle cx="1238.9" cy="1849.5" r="1.2"/><circle cx="1185.4" cy="1872.4" r="1.3"/><circle cx="1259.4" cy="1851.9" r="2.6"/><circle cx="1266.7" cy="1933.9" r="1.3"/><circle cx="1292.5" cy="1924.2" r="1.6"/><circle cx="1299.8" cy="1864.7" r="0.9"/><circle cx="1184.1" cy="1908.1" r="1.1"/><circle cx="1230.3" cy="1862.3" r="2.1"/><circle cx="1241.4" cy="1894.7" r="2.1"/><circle cx="1291.3" cy="1944.1" r="2"/><circle cx="1255.8" cy="1899.4" r="1.3"/><circle cx="1218.6" cy="1871.9" r="2.2"/><circle cx="1282.1" cy="1907" r="1.1"/><circle cx="1226.2" cy="1835.9" r="1.3"/><circle cx="1185.9" cy="1911.3" r="2.3"/><circle cx="1258.7" cy="1923.6" r="1.7"/><circle cx="1305.9" cy="1908.7" r="1.2"/><circle cx="1223.3" cy="1851.7" r="2.1"/><circle cx="1225.6" cy="1942.7" r="0.9"/><circle cx="1289" cy="1857.4" r="1"/><circle cx="1197.4" cy="1904.9" r="1.8"/><circle cx="1215.9" cy="1922.5" r="1.4"/><circle cx="1266.8" cy="1841.7" r="2.2"/><circle cx="1174.7" cy="1900.9" r="1.8"/><circle cx="1277.5" cy="1853.3" r="1.9"/><circle cx="1203.3" cy="1845.2" r="1.7"/><circle cx="1307.5" cy="1910.3" r="1"/><circle cx="1221.9" cy="1934.5" r="1.9"/><circle cx="1280.1" cy="1938" r="2.1"/><circle cx="1277.6" cy="1870.8" r="1.7"/><circle cx="1260.3" cy="1853.6" r="1.6"/><circle cx="1294.2" cy="1933.6" r="1.1"/><circle cx="1219.6" cy="1901.1" r="2"/><circle cx="1243.3" cy="1954.2" r="1.1"/><circle cx="1278.7" cy="1878.8" r="2.1"/><circle cx="1285.5" cy="1879.1" r="2.5"/><circle cx="1286.8" cy="1867.1" r="2"/><circle cx="1253.7" cy="1827.8" r="1.6"/><circle cx="1259.5" cy="1933.6" r="1.8"/><circle cx="1250.3" cy="1884.7" r="1.4"/><circle cx="1303.6" cy="1884" r="1.4"/><circle cx="1228.1" cy="1919.5" r="2"/><circle cx="1305.3" cy="1864.9" r="1.3"/><circle cx="1250.2" cy="1928.5" r="2.3"/><circle cx="1234.5" cy="1937.9" r="1.1"/><circle cx="1279.9" cy="1840.3" r="2"/><circle cx="1225.8" cy="1952.7" r="2.1"/><circle cx="1260.8" cy="1866.4" r="2"/><circle cx="1212.6" cy="1865.9" r="1.6"/><circle cx="1236.3" cy="1931.9" r="2.5"/><circle cx="1309.7" cy="1917.1" r="1.2"/><circle cx="1251.7" cy="1871.2" r="1.5"/><circle cx="1306.1" cy="1921.2" r="1"/><circle cx="1274.3" cy="1889.8" r="1.1"/><circle cx="1292.3" cy="1929.5" r="0.9"/><circle cx="1193.2" cy="1871.9" r="2.5"/><circle cx="1219.8" cy="1866.3" r="2.1"/><circle cx="1212.9" cy="1860.5" r="1.8"/><circle cx="1226.9" cy="1864.6" r="2.4"/><circle cx="1227.7" cy="1864.4" r="2"/><circle cx="1217" cy="1856.9" r="1.5"/><circle cx="1223.4" cy="1862.1" r="2.3"/><circle cx="1218" cy="1863.5" r="2.1"/><circle cx="1212" cy="1864.3" r="2.7"/><circle cx="1253.8" cy="1895.6" r="1.5"/><circle cx="1249" cy="1902.1" r="1.8"/><circle cx="1246.9" cy="1909.9" r="1.3"/><circle cx="1251.5" cy="1909.8" r="1.4"/><circle cx="1260.1" cy="1894.1" r="1.5"/><circle cx="1261.2" cy="1908.5" r="1.3"/><circle cx="1261.4" cy="1894.9" r="2.4"/><circle cx="1263.8" cy="1906.4" r="1.6"/><circle cx="1282.9" cy="1863.5" r="2.7"/><circle cx="1281.1" cy="1864.9" r="2.2"/><circle cx="1284.5" cy="1854.5" r="1.5"/><circle cx="1276.3" cy="1866" r="1.6"/><circle cx="1277" cy="1852.7" r="2"/><circle cx="1277.5" cy="1863.7" r="2.1"/><circle cx="1273.7" cy="1860.1" r="1.8"/><circle cx="1272.1" cy="1857.6" r="1.4"/><circle cx="1277.6" cy="1904.2" r="2.4"/><circle cx="1277.3" cy="1907.8" r="2.8"/><circle cx="1271.5" cy="1905.4" r="2.3"/><circle cx="1265.8" cy="1905.2" r="1.2"/><circle cx="1270.4" cy="1913.9" r="2.5"/><circle cx="1269.4" cy="1905" r="1.7"/><circle cx="1278.1" cy="1922.8" r="1.2"/><circle cx="1264.5" cy="1912.4" r="1.5"/></g><path d="M1380.8 1822.4L1411.6 1822.4A75.2 75.2 0 0 1 1469.4 1878.8L1469.4 1913.2A75.2 75.2 0 0 1 1411.6 1969.6L1380.8 1969.6A75.2 75.2 0 0 1 1323 1913.2L1323 1878.8A75.2 75.2 0 0 1 1380.8 1822.4Z" fill="#aca2ab"/><g fill="#4f4468" fill-opacity="0.8"><circle cx="1411.5" cy="1896.8" r="1.1"/><circle cx="1384.7" cy="1915.9" r="1.8"/><circle cx="1412.2" cy="1921.8" r="1.1"/><circle cx="1333.8" cy="1881.3" r="2.3"/><circle cx="1419.6" cy="1899.4" r="1.2"/><circle cx="1379.2" cy="1908.3" r="1"/><circle cx="1445.2" cy="1876.3" r="1.9"/><circle cx="1395.6" cy="1913" r="2.1"/><circle cx="1346.7" cy="1861.9" r="2.2"/><circle cx="1383.9" cy="1963.1" r="2.5"/><circle cx="1349.5" cy="1896.1" r="2"/><circle cx="1349.9" cy="1862.2" r="1.3"/><circle cx="1433.8" cy="1941.8" r="1.8"/><circle cx="1420.5" cy="1840" r="2.2"/><circle cx="1358.7" cy="1898.1" r="2.6"/><circle cx="1460" cy="1889.4" r="2.2"/><circle cx="1408.8" cy="1859.6" r="1.6"/><circle cx="1361" cy="1875.6" r="1.7"/><circle cx="1445.6" cy="1865.2" r="2.4"/><circle cx="1428.3" cy="1856.5" r="1.5"/><circle cx="1439.1" cy="1843.8" r="2.5"/><circle cx="1367.6" cy="1833.1" r="1.6"/><circle cx="1440.5" cy="1865.6" r="2.1"/><circle cx="1393" cy="1941.7" r="1.5"/><circle cx="1350.4" cy="1884.5" r="0.9"/><circle cx="1420" cy="1955.3" r="1.4"/><circle cx="1366.3" cy="1888.6" r="2.2"/><circle cx="1381.4" cy="1957.4" r="1.3"/><circle cx="1363" cy="1868.9" r="2"/><circle cx="1450.1" cy="1887.2" r="2.5"/><circle cx="1418.7" cy="1864.2" r="1.6"/><circle cx="1452.1" cy="1874.7" r="1.5"/><circle cx="1429.1" cy="1944.8" r="2.5"/><circle cx="1421.1" cy="1838.1" r="1.2"/><circle cx="1459.3" cy="1882" r="1.2"/><circle cx="1397.9" cy="1860.5" r="2"/><circle cx="1360.9" cy="1896.5" r="1.9"/><circle cx="1441.8" cy="1947.1" r="1.4"/><circle cx="1442.2" cy="1894" r="1.7"/><circle cx="1390.1" cy="1958.7" r="2.1"/><circle cx="1350.2" cy="1866.5" r="1.8"/><circle cx="1453.2" cy="1938" r="1.4"/><circle cx="1385.5" cy="1918.7" r="2.5"/><circle cx="1368.9" cy="1839.5" r="1.4"/><circle cx="1367.9" cy="1889.2" r="1.1"/><circle cx="1405.6" cy="1901.4" r="2.1"/><circle cx="1389" cy="1948.5" r="2"/><circle cx="1349.1" cy="1894.2" r="1.6"/><circle cx="1443.1" cy="1918.8" r="1.4"/><circle cx="1371.9" cy="1949.2" r="1"/><circle cx="1358.9" cy="1919.1" r="1.1"/><circle cx="1340.7" cy="1881.4" r="2.3"/><circle cx="1360.1" cy="1908.7" r="1.4"/><circle cx="1393.4" cy="1933.4" r="1.9"/><circle cx="1432.7" cy="1891.1" r="1.9"/><circle cx="1378.5" cy="1929.5" r="2.1"/><circle cx="1380" cy="1830" r="1.2"/><circle cx="1448.9" cy="1857.8" r="2.3"/><circle cx="1406.2" cy="1942.7" r="2"/><circle cx="1389.6" cy="1852.3" r="1.3"/><circle cx="1388.8" cy="1912.6" r="2.1"/><circle cx="1406.6" cy="1924.4" r="1.1"/><circle cx="1445.1" cy="1846.9" r="2"/><circle cx="1381" cy="1923.2" r="2.3"/><circle cx="1443.4" cy="1879.7" r="1.1"/><circle cx="1408.3" cy="1827.9" r="1.9"/><circle cx="1398.4" cy="1862.4" r="2.2"/><circle cx="1385.2" cy="1916.6" r="0.9"/><circle cx="1339.7" cy="1897.7" r="2.1"/><circle cx="1369.9" cy="1852.3" r="2.6"/><circle cx="1354.1" cy="1844.6" r="0.9"/><circle cx="1326.1" cy="1893.2" r="2.5"/><circle cx="1400.2" cy="1908.7" r="2.5"/><circle cx="1374.6" cy="1918.1" r="2.2"/><circle cx="1352.2" cy="1876.9" r="2.4"/><circle cx="1352.5" cy="1864.3" r="2.6"/><circle cx="1448.6" cy="1934.9" r="2"/><circle cx="1347.5" cy="1857.8" r="1.5"/><circle cx="1430.6" cy="1860.9" r="2.5"/><circle cx="1430.9" cy="1938.3" r="1.6"/><circle cx="1398.5" cy="1862.5" r="1.3"/><circle cx="1436" cy="1895.1" r="1.1"/><circle cx="1411.3" cy="1834.3" r="0.9"/><circle cx="1363" cy="1910.9" r="2.2"/><circle cx="1462.7" cy="1879.5" r="1"/><circle cx="1426.2" cy="1914.8" r="1"/><circle cx="1342.6" cy="1927.7" r="1.9"/><circle cx="1392.9" cy="1849" r="1.7"/><circle cx="1370.2" cy="1951.4" r="2"/><circle cx="1386.1" cy="1911.5" r="2.3"/><circle cx="1423.1" cy="1908" r="1.9"/><circle cx="1358.5" cy="1848" r="1.5"/><circle cx="1349.6" cy="1941" r="1.7"/><circle cx="1455.2" cy="1874.8" r="2.5"/><circle cx="1354.6" cy="1922.5" r="1.8"/><circle cx="1364.6" cy="1915.8" r="1.3"/><circle cx="1415.2" cy="1878.1" r="2.2"/><circle cx="1357.2" cy="1894.7" r="2"/><circle cx="1352.8" cy="1918.3" r="1.2"/><circle cx="1445.2" cy="1894.5" r="2.6"/><circle cx="1331.6" cy="1919.9" r="1.5"/><circle cx="1381.2" cy="1860.9" r="2"/><circle cx="1327.4" cy="1887.9" r="1.9"/><circle cx="1358.5" cy="1921.9" r="2.2"/><circle cx="1428.1" cy="1889.3" r="1"/><circle cx="1383.9" cy="1869.7" r="2.1"/><circle cx="1356" cy="1904.1" r="1.7"/><circle cx="1359.6" cy="1887.5" r="1.4"/><circle cx="1438.6" cy="1892.4" r="2.3"/><circle cx="1359.3" cy="1871.3" r="1.5"/><circle cx="1429.2" cy="1927.3" r="2.6"/><circle cx="1435.5" cy="1923" r="2.5"/><circle cx="1434.3" cy="1916.6" r="1.9"/><circle cx="1431.3" cy="1917.1" r="1.8"/><circle cx="1431.4" cy="1932.3" r="1.9"/><circle cx="1424.6" cy="1928.1" r="2.6"/><circle cx="1432.3" cy="1930.4" r="1.8"/><circle cx="1439.7" cy="1931.8" r="2.6"/><circle cx="1408.6" cy="1936.4" r="2"/><circle cx="1410.4" cy="1947.6" r="2"/><circle cx="1408.9" cy="1947.1" r="1.5"/><circle cx="1420.9" cy="1947.4" r="1.5"/><circle cx="1409.3" cy="1945.6" r="2.4"/><circle cx="1406.8" cy="1938.1" r="1.9"/><circle cx="1408.1" cy="1944" r="1.4"/><circle cx="1413" cy="1952.4" r="2.2"/><circle cx="1440.4" cy="1896.9" r="1.8"/><circle cx="1448.5" cy="1894.1" r="2.2"/><circle cx="1455.3" cy="1891.8" r="1.5"/><circle cx="1448.4" cy="1895.8" r="1.6"/><circle cx="1451.8" cy="1893.7" r="1.5"/><circle cx="1451.2" cy="1901.3" r="2.5"/><circle cx="1458.4" cy="1911.5" r="1.8"/><circle cx="1443.6" cy="1891.6" r="2.1"/><circle cx="1359.6" cy="1866.1" r="1.4"/><circle cx="1367" cy="1860" r="2.8"/><circle cx="1371.1" cy="1854.4" r="1.9"/><circle cx="1377.2" cy="1863.2" r="2.2"/><circle cx="1378" cy="1856.2" r="1.7"/><circle cx="1370" cy="1860.4" r="2.3"/><circle cx="1371.1" cy="1858.8" r="2.6"/><circle cx="1379.2" cy="1869.6" r="2.8"/></g><path d="M163.6 1973.5L190.4 1973.5A75.2 75.2 0 0 1 250.2 2030.3L250.2 2064.7A75.2 75.2 0 0 1 190.4 2121.5L163.6 2121.5A75.2 75.2 0 0 1 103.8 2064.7L103.8 2030.3A75.2 75.2 0 0 1 163.6 1973.5Z" fill="#c0bcc7"/><path d="M163.6 1973.5L190.4 1973.5A75.2 75.2 0 0 1 250.2 2030.3L250.2 2064.7A75.2 75.2 0 0 1 190.4 2121.5L163.6 2121.5A75.2 75.2 0 0 1 103.8 2064.7L103.8 2030.3A75.2 75.2 0 0 1 163.6 1973.5Z" fill="url(#gC)"/><path d="M316 1973.5L342.8 1973.5A75.2 75.2 0 0 1 402.6 2030.3L402.6 2064.7A75.2 75.2 0 0 1 342.8 2121.5L316 2121.5A75.2 75.2 0 0 1 256.2 2064.7L256.2 2030.3A75.2 75.2 0 0 1 316 1973.5Z" fill="#b1aaaf"/><path d="M316 1973.5L342.8 1973.5A75.2 75.2 0 0 1 402.6 2030.3L402.6 2064.7A75.2 75.2 0 0 1 342.8 2121.5L316 2121.5A75.2 75.2 0 0 1 256.2 2064.7L256.2 2030.3A75.2 75.2 0 0 1 316 1973.5Z" fill="#000" opacity="0.6" filter="url(#fcl)"/><path d="M316 1973.5L342.8 1973.5A75.2 75.2 0 0 1 402.6 2030.3L402.6 2064.7A75.2 75.2 0 0 1 342.8 2121.5L316 2121.5A75.2 75.2 0 0 1 256.2 2064.7L256.2 2030.3A75.2 75.2 0 0 1 316 1973.5Z" fill="url(#pdb)" opacity="0.7"/><path d="M316 1973.5L342.8 1973.5A75.2 75.2 0 0 1 402.6 2030.3L402.6 2064.7A75.2 75.2 0 0 1 342.8 2121.5L316 2121.5A75.2 75.2 0 0 1 256.2 2064.7L256.2 2030.3A75.2 75.2 0 0 1 316 1973.5Z" fill="url(#gV)"/><path d="M468.4 1973.5L495.2 1973.5A75.2 75.2 0 0 1 555 2030.3L555 2064.7A75.2 75.2 0 0 1 495.2 2121.5L468.4 2121.5A75.2 75.2 0 0 1 408.6 2064.7L408.6 2030.3A75.2 75.2 0 0 1 468.4 1973.5Z" fill="#837b8d"/><path d="M468.4 1973.5L495.2 1973.5A75.2 75.2 0 0 1 555 2030.3L555 2064.7A75.2 75.2 0 0 1 495.2 2121.5L468.4 2121.5A75.2 75.2 0 0 1 408.6 2064.7L408.6 2030.3A75.2 75.2 0 0 1 468.4 1973.5Z" fill="#000" opacity="0.7" filter="url(#fcl)"/><path d="M468.4 1973.5L495.2 1973.5A75.2 75.2 0 0 1 555 2030.3L555 2064.7A75.2 75.2 0 0 1 495.2 2121.5L468.4 2121.5A75.2 75.2 0 0 1 408.6 2064.7L408.6 2030.3A75.2 75.2 0 0 1 468.4 1973.5Z" fill="url(#pda)" opacity="0.85"/><path d="M468.4 1973.5L495.2 1973.5A75.2 75.2 0 0 1 555 2030.3L555 2064.7A75.2 75.2 0 0 1 495.2 2121.5L468.4 2121.5A75.2 75.2 0 0 1 408.6 2064.7L408.6 2030.3A75.2 75.2 0 0 1 468.4 1973.5Z" fill="url(#gV)"/><path d="M620.8 1973.5L647.6 1973.5A75.2 75.2 0 0 1 707.4 2030.3L707.4 2064.7A75.2 75.2 0 0 1 647.6 2121.5L620.8 2121.5A75.2 75.2 0 0 1 561 2064.7L561 2030.3A75.2 75.2 0 0 1 620.8 1973.5Z" fill="#99919e"/><path d="M620.8 1973.5L647.6 1973.5A75.2 75.2 0 0 1 707.4 2030.3L707.4 2064.7A75.2 75.2 0 0 1 647.6 2121.5L620.8 2121.5A75.2 75.2 0 0 1 561 2064.7L561 2030.3A75.2 75.2 0 0 1 620.8 1973.5Z" fill="#000" opacity="0.6" filter="url(#fcl)"/><path d="M620.8 1973.5L647.6 1973.5A75.2 75.2 0 0 1 707.4 2030.3L707.4 2064.7A75.2 75.2 0 0 1 647.6 2121.5L620.8 2121.5A75.2 75.2 0 0 1 561 2064.7L561 2030.3A75.2 75.2 0 0 1 620.8 1973.5Z" fill="url(#pdb)" opacity="0.7"/><path d="M620.8 1973.5L647.6 1973.5A75.2 75.2 0 0 1 707.4 2030.3L707.4 2064.7A75.2 75.2 0 0 1 647.6 2121.5L620.8 2121.5A75.2 75.2 0 0 1 561 2064.7L561 2030.3A75.2 75.2 0 0 1 620.8 1973.5Z" fill="url(#gV)"/><path d="M773.2 1973.5L800 1973.5A75.2 75.2 0 0 1 859.8 2030.3L859.8 2064.7A75.2 75.2 0 0 1 800 2121.5L773.2 2121.5A75.2 75.2 0 0 1 713.4 2064.7L713.4 2030.3A75.2 75.2 0 0 1 773.2 1973.5Z" fill="#938c9b"/><path d="M773.2 1973.5L800 1973.5A75.2 75.2 0 0 1 859.8 2030.3L859.8 2064.7A75.2 75.2 0 0 1 800 2121.5L773.2 2121.5A75.2 75.2 0 0 1 713.4 2064.7L713.4 2030.3A75.2 75.2 0 0 1 773.2 1973.5Z" fill="#000" opacity="0.7" filter="url(#fcl)"/><path d="M773.2 1973.5L800 1973.5A75.2 75.2 0 0 1 859.8 2030.3L859.8 2064.7A75.2 75.2 0 0 1 800 2121.5L773.2 2121.5A75.2 75.2 0 0 1 713.4 2064.7L713.4 2030.3A75.2 75.2 0 0 1 773.2 1973.5Z" fill="url(#pda)" opacity="0.85"/><path d="M773.2 1973.5L800 1973.5A75.2 75.2 0 0 1 859.8 2030.3L859.8 2064.7A75.2 75.2 0 0 1 800 2121.5L773.2 2121.5A75.2 75.2 0 0 1 713.4 2064.7L713.4 2030.3A75.2 75.2 0 0 1 773.2 1973.5Z" fill="url(#gV)"/><path d="M925.6 1973.5L952.4 1973.5A75.2 75.2 0 0 1 1012.2 2030.3L1012.2 2064.7A75.2 75.2 0 0 1 952.4 2121.5L925.6 2121.5A75.2 75.2 0 0 1 865.8 2064.7L865.8 2030.3A75.2 75.2 0 0 1 925.6 1973.5Z" fill="#938b9b"/><path d="M925.6 1973.5L952.4 1973.5A75.2 75.2 0 0 1 1012.2 2030.3L1012.2 2064.7A75.2 75.2 0 0 1 952.4 2121.5L925.6 2121.5A75.2 75.2 0 0 1 865.8 2064.7L865.8 2030.3A75.2 75.2 0 0 1 925.6 1973.5Z" fill="#000" opacity="0.7" filter="url(#fcl)"/><path d="M925.6 1973.5L952.4 1973.5A75.2 75.2 0 0 1 1012.2 2030.3L1012.2 2064.7A75.2 75.2 0 0 1 952.4 2121.5L925.6 2121.5A75.2 75.2 0 0 1 865.8 2064.7L865.8 2030.3A75.2 75.2 0 0 1 925.6 1973.5Z" fill="url(#pdb)" opacity="0.85"/><path d="M925.6 1973.5L952.4 1973.5A75.2 75.2 0 0 1 1012.2 2030.3L1012.2 2064.7A75.2 75.2 0 0 1 952.4 2121.5L925.6 2121.5A75.2 75.2 0 0 1 865.8 2064.7L865.8 2030.3A75.2 75.2 0 0 1 925.6 1973.5Z" fill="url(#gV)"/><path d="M1078 1973.5L1104.8 1973.5A75.2 75.2 0 0 1 1164.6 2030.3L1164.6 2064.7A75.2 75.2 0 0 1 1104.8 2121.5L1078 2121.5A75.2 75.2 0 0 1 1018.2 2064.7L1018.2 2030.3A75.2 75.2 0 0 1 1078 1973.5Z" fill="#776d83"/><path d="M1078 1973.5L1104.8 1973.5A75.2 75.2 0 0 1 1164.6 2030.3L1164.6 2064.7A75.2 75.2 0 0 1 1104.8 2121.5L1078 2121.5A75.2 75.2 0 0 1 1018.2 2064.7L1018.2 2030.3A75.2 75.2 0 0 1 1078 1973.5Z" fill="#000" opacity="0.35" filter="url(#fd3)"/><path d="M1078 1973.5L1104.8 1973.5A75.2 75.2 0 0 1 1164.6 2030.3L1164.6 2064.7A75.2 75.2 0 0 1 1104.8 2121.5L1078 2121.5A75.2 75.2 0 0 1 1018.2 2064.7L1018.2 2030.3A75.2 75.2 0 0 1 1078 1973.5Z" fill="url(#gF)"/><path d="M1230.4 1973.5L1257.2 1973.5A75.2 75.2 0 0 1 1317 2030.3L1317 2064.7A75.2 75.2 0 0 1 1257.2 2121.5L1230.4 2121.5A75.2 75.2 0 0 1 1170.6 2064.7L1170.6 2030.3A75.2 75.2 0 0 1 1230.4 1973.5Z" fill="#afa7ad"/><g fill="#4f4468" fill-opacity="0.8"><circle cx="1203.3" cy="2079.5" r="1.3"/><circle cx="1248.4" cy="2009.2" r="2.3"/><circle cx="1267" cy="2013.1" r="1.3"/><circle cx="1215.1" cy="2025.9" r="1.6"/><circle cx="1245.4" cy="2072.7" r="1.3"/><circle cx="1259.7" cy="2064.2" r="2.2"/><circle cx="1215.7" cy="1983.4" r="1.7"/><circle cx="1249" cy="2012" r="1.2"/><circle cx="1191.7" cy="2082.3" r="2.4"/><circle cx="1241.7" cy="2000.5" r="2"/><circle cx="1288.5" cy="2019.9" r="1.7"/><circle cx="1237.4" cy="2009" r="1.5"/><circle cx="1291.4" cy="2046" r="1.1"/><circle cx="1191.3" cy="2068.1" r="2.3"/><circle cx="1287.8" cy="2070" r="2.5"/><circle cx="1288.1" cy="2080.3" r="1.9"/><circle cx="1186.5" cy="2058.2" r="2.1"/><circle cx="1180.8" cy="2040.7" r="1.2"/><circle cx="1281.6" cy="2036.2" r="1.7"/><circle cx="1201.7" cy="2091.8" r="1.3"/><circle cx="1214.9" cy="2012.6" r="1.5"/><circle cx="1243.4" cy="2077.5" r="1.3"/><circle cx="1266.3" cy="2102.2" r="1.2"/><circle cx="1299.4" cy="2048.1" r="1"/><circle cx="1269.9" cy="2018.6" r="2.4"/><circle cx="1241.6" cy="2072.9" r="1.3"/><circle cx="1201.6" cy="2029.1" r="1.5"/><circle cx="1256.3" cy="2100" r="1.9"/><circle cx="1280.6" cy="2094.3" r="1.3"/><circle cx="1250" cy="2021.8" r="1.3"/><circle cx="1295" cy="2000.3" r="1.4"/><circle cx="1287.7" cy="2053.4" r="1.9"/><circle cx="1301.7" cy="2059.6" r="2.3"/><circle cx="1299.4" cy="2029.4" r="2.4"/><circle cx="1175.9" cy="2058.1" r="1.2"/><circle cx="1179.8" cy="2047.8" r="2.1"/><circle cx="1199.8" cy="2067" r="2.4"/><circle cx="1238.8" cy="2002.4" r="1.6"/><circle cx="1234" cy="1995.1" r="2.4"/><circle cx="1236.7" cy="2007.2" r="1.1"/><circle cx="1226.1" cy="2060.1" r="1.2"/><circle cx="1244.1" cy="2065.4" r="2.2"/><circle cx="1216.8" cy="1984" r="1.7"/><circle cx="1263.5" cy="1992.4" r="2.1"/><circle cx="1224.1" cy="2020.3" r="1.8"/><circle cx="1188.8" cy="2026" r="1.6"/><circle cx="1208.5" cy="2049.9" r="1"/><circle cx="1255.6" cy="2105.8" r="1.8"/><circle cx="1221.5" cy="2112.1" r="0.9"/><circle cx="1286.1" cy="1998.1" r="2"/><circle cx="1213.7" cy="2101.5" r="1.9"/><circle cx="1259.4" cy="2063.5" r="1.7"/><circle cx="1241.8" cy="2075" r="2"/><circle cx="1199.8" cy="2005.7" r="1.6"/><circle cx="1224" cy="2054.5" r="1.4"/><circle cx="1292.3" cy="2005.2" r="1.2"/><circle cx="1191.6" cy="2026.9" r="1"/><circle cx="1294.9" cy="2068.3" r="2.4"/><circle cx="1199.5" cy="2042.3" r="2.6"/><circle cx="1192.2" cy="2088.4" r="1.7"/><circle cx="1181.9" cy="2077.2" r="2.4"/><circle cx="1268.5" cy="2084.7" r="2.3"/><circle cx="1276.5" cy="2031.1" r="1"/><circle cx="1294.1" cy="2024" r="1.4"/><circle cx="1200.7" cy="2081.6" r="2.1"/><circle cx="1280" cy="2060.6" r="2.3"/><circle cx="1290.9" cy="2009.4" r="2"/><circle cx="1261.6" cy="1999.5" r="1.3"/><circle cx="1309.7" cy="2030.4" r="2.3"/><circle cx="1270.3" cy="2001.6" r="1.6"/><circle cx="1202.9" cy="2014.5" r="1.4"/><circle cx="1267.1" cy="1996.8" r="1.9"/><circle cx="1184" cy="2027.9" r="2.5"/><circle cx="1214.5" cy="1998.5" r="2.1"/><circle cx="1253.9" cy="2108.3" r="2.6"/><circle cx="1189.1" cy="2018.6" r="1.9"/><circle cx="1248.1" cy="2118.1" r="2.4"/><circle cx="1228.3" cy="2103.3" r="1.5"/><circle cx="1223.9" cy="2067.4" r="2.1"/><circle cx="1227" cy="2067.8" r="1.1"/><circle cx="1272" cy="2006.8" r="2"/><circle cx="1219.7" cy="2056.9" r="2.4"/><circle cx="1247.8" cy="2029.2" r="2.5"/><circle cx="1245.4" cy="2043.9" r="2.1"/><circle cx="1237" cy="2057.9" r="2"/><circle cx="1195.7" cy="2018.8" r="2.1"/><circle cx="1203.5" cy="2033.3" r="2.2"/><circle cx="1220.5" cy="2026" r="2"/><circle cx="1289.8" cy="2064.4" r="1.2"/><circle cx="1215.8" cy="1984" r="1.9"/><circle cx="1194.1" cy="2004.8" r="2"/><circle cx="1259.9" cy="2052.3" r="1.6"/><circle cx="1202.4" cy="2000.2" r="2.5"/><circle cx="1274.1" cy="2103" r="2"/><circle cx="1247" cy="2090.9" r="2.3"/><circle cx="1175.6" cy="2058.6" r="0.9"/><circle cx="1232.2" cy="2089.1" r="1.3"/><circle cx="1246.9" cy="2089.1" r="1.6"/><circle cx="1210.1" cy="2083" r="1.9"/><circle cx="1235.7" cy="2084.9" r="1.9"/><circle cx="1198" cy="2020.1" r="2.5"/><circle cx="1270.6" cy="2064.3" r="1.9"/><circle cx="1230.2" cy="1989" r="1.4"/><circle cx="1246.1" cy="1996.8" r="0.9"/><circle cx="1258.6" cy="2074.3" r="1.1"/><circle cx="1187.5" cy="2008.8" r="2.3"/><circle cx="1269.5" cy="2066.3" r="1.9"/><circle cx="1204.8" cy="2080.7" r="1.5"/><circle cx="1288.8" cy="2077.2" r="2.4"/><circle cx="1309.5" cy="2050" r="1.1"/><circle cx="1237.5" cy="2079.8" r="2.5"/><circle cx="1234" cy="2082.3" r="2.5"/><circle cx="1233.7" cy="2080.7" r="2.5"/><circle cx="1240.1" cy="2073" r="1.2"/><circle cx="1236.7" cy="2073.8" r="2.3"/><circle cx="1223.9" cy="2074.5" r="1.7"/><circle cx="1231.9" cy="2069.5" r="1.2"/><circle cx="1227.3" cy="2075.8" r="2.5"/><circle cx="1261.4" cy="2007.2" r="2.5"/><circle cx="1253.3" cy="2002.6" r="1.2"/><circle cx="1250.4" cy="2001.8" r="2.8"/><circle cx="1259" cy="2009.8" r="2.3"/><circle cx="1250.1" cy="2002.7" r="2.1"/><circle cx="1257.4" cy="1997.7" r="2.3"/><circle cx="1263.7" cy="1996.4" r="2.4"/><circle cx="1264.2" cy="2000.9" r="2.6"/><circle cx="1274.7" cy="2025.3" r="1.5"/><circle cx="1271.1" cy="2028.2" r="2.7"/><circle cx="1268.4" cy="2024.6" r="1.9"/><circle cx="1270.6" cy="2031.3" r="2.6"/><circle cx="1267.8" cy="2026" r="2.5"/><circle cx="1268.7" cy="2030.9" r="1.9"/><circle cx="1262.4" cy="2036.6" r="1.4"/><circle cx="1268.7" cy="2027.5" r="2.2"/><circle cx="1239.7" cy="2048.2" r="1.3"/><circle cx="1239.4" cy="2036.3" r="1.6"/><circle cx="1236.6" cy="2039.7" r="1.9"/><circle cx="1235.7" cy="2046.4" r="1.8"/><circle cx="1232.7" cy="2041.1" r="1.9"/><circle cx="1231.7" cy="2042.4" r="1.9"/><circle cx="1231.8" cy="2041.3" r="1.3"/><circle cx="1228.7" cy="2044.9" r="2.1"/></g><path d="M1382.8 1973.5L1409.6 1973.5A75.2 75.2 0 0 1 1469.4 2030.3L1469.4 2064.7A75.2 75.2 0 0 1 1409.6 2121.5L1382.8 2121.5A75.2 75.2 0 0 1 1323 2064.7L1323 2030.3A75.2 75.2 0 0 1 1382.8 1973.5Z" fill="#aaa2aa"/><g fill="#4f4468" fill-opacity="0.8"><circle cx="1420.3" cy="2021.9" r="1.5"/><circle cx="1444.7" cy="1997.8" r="1.5"/><circle cx="1358.5" cy="2094.5" r="2.4"/><circle cx="1420.2" cy="2029.5" r="2.6"/><circle cx="1402.1" cy="2006.8" r="2.6"/><circle cx="1411.3" cy="2079" r="2.4"/><circle cx="1435.5" cy="2091.4" r="1.6"/><circle cx="1375.6" cy="2091.4" r="1.1"/><circle cx="1429.3" cy="2109.8" r="2.2"/><circle cx="1432.2" cy="2027.8" r="2.1"/><circle cx="1429.6" cy="2087.2" r="1.7"/><circle cx="1417" cy="2090.6" r="2.4"/><circle cx="1376.9" cy="1990.9" r="1.7"/><circle cx="1422.3" cy="2008.9" r="1.2"/><circle cx="1420.6" cy="1982.2" r="1.9"/><circle cx="1348" cy="2019.2" r="1.4"/><circle cx="1388.1" cy="2100.5" r="1"/><circle cx="1342.5" cy="2048.5" r="2.3"/><circle cx="1379.6" cy="2068.2" r="2.5"/><circle cx="1430.5" cy="1997" r="1.8"/><circle cx="1456.3" cy="2085" r="0.9"/><circle cx="1422.3" cy="2020.8" r="1.8"/><circle cx="1355.1" cy="2076.2" r="2.4"/><circle cx="1374.8" cy="2042" r="1.5"/><circle cx="1396.2" cy="2000.2" r="2.3"/><circle cx="1368" cy="2052.8" r="2"/><circle cx="1404.7" cy="1992.8" r="2.3"/><circle cx="1365.6" cy="2017.9" r="2"/><circle cx="1335.7" cy="2044.6" r="1"/><circle cx="1342.3" cy="2015.5" r="1.9"/><circle cx="1373.5" cy="2050.7" r="1.2"/><circle cx="1399.6" cy="2014.7" r="2.6"/><circle cx="1410.5" cy="2092.6" r="1.8"/><circle cx="1345.6" cy="2089.1" r="1"/><circle cx="1389.3" cy="2024.6" r="2.2"/><circle cx="1414.4" cy="2092.2" r="2.6"/><circle cx="1414" cy="2076.3" r="1.1"/><circle cx="1412.6" cy="2020.5" r="1.5"/><circle cx="1348.1" cy="2016.1" r="2.1"/><circle cx="1355.9" cy="2070.8" r="1.6"/><circle cx="1359.5" cy="2074.9" r="1.6"/><circle cx="1371.8" cy="2045" r="1"/><circle cx="1391.4" cy="2095.2" r="1.2"/><circle cx="1396.2" cy="1985.7" r="2.5"/><circle cx="1374.6" cy="2065" r="1.5"/><circle cx="1400.1" cy="2065.2" r="2.6"/><circle cx="1403.5" cy="1988" r="2"/><circle cx="1400.7" cy="2052.6" r="2"/><circle cx="1372.8" cy="1986.6" r="2.5"/><circle cx="1450.3" cy="2089.6" r="1.8"/><circle cx="1421.7" cy="2082.8" r="1.9"/><circle cx="1371.1" cy="2000.3" r="1.8"/><circle cx="1442.7" cy="2004.4" r="1.6"/><circle cx="1359.2" cy="2094.8" r="1"/><circle cx="1364.1" cy="2058.4" r="1.9"/><circle cx="1340.5" cy="2081.3" r="2.3"/><circle cx="1441.9" cy="2090.5" r="2"/><circle cx="1380.9" cy="2091.7" r="2.6"/><circle cx="1417.8" cy="1986" r="1.6"/><circle cx="1460.8" cy="2076.8" r="1"/><circle cx="1338.4" cy="2023.2" r="1.5"/><circle cx="1420.2" cy="2093.7" r="1"/><circle cx="1374" cy="2093.8" r="1.2"/><circle cx="1386.9" cy="2071" r="1.5"/><circle cx="1423" cy="1994.2" r="2.1"/><circle cx="1368.9" cy="2109.9" r="1.1"/><circle cx="1389.1" cy="2087.5" r="2.1"/><circle cx="1378.7" cy="2024.2" r="1.5"/><circle cx="1361" cy="2093.7" r="1.8"/><circle cx="1348.1" cy="2096.7" r="1.3"/><circle cx="1461.4" cy="2038.4" r="1.7"/><circle cx="1378.5" cy="2108.3" r="2.4"/><circle cx="1354.5" cy="2040" r="2.1"/><circle cx="1354" cy="2065.1" r="1.4"/><circle cx="1343.9" cy="2058.4" r="1.7"/><circle cx="1369.6" cy="2107.4" r="1"/><circle cx="1409.5" cy="2018.8" r="1.6"/><circle cx="1341.9" cy="2052.4" r="2.2"/><circle cx="1362.1" cy="2049.6" r="1.9"/><circle cx="1388.5" cy="1999.3" r="1"/><circle cx="1412.7" cy="2007.9" r="1.7"/><circle cx="1346.8" cy="2061.6" r="2.2"/><circle cx="1424.6" cy="2082.3" r="1.1"/><circle cx="1407.6" cy="2006.6" r="2.2"/><circle cx="1399.5" cy="2104.2" r="1.4"/><circle cx="1403.6" cy="2027.3" r="1.1"/><circle cx="1352.5" cy="2082.2" r="2.6"/><circle cx="1393" cy="2029.2" r="2.3"/><circle cx="1433.7" cy="2094.4" r="0.9"/><circle cx="1356.6" cy="2067.2" r="1.3"/><circle cx="1436.2" cy="1998.9" r="2"/><circle cx="1372.5" cy="1991.8" r="1.6"/><circle cx="1354" cy="2093.2" r="1"/><circle cx="1384.9" cy="2066.4" r="2"/><circle cx="1380.6" cy="2095.4" r="2.5"/><circle cx="1424.1" cy="2056" r="2.4"/><circle cx="1427.6" cy="2045" r="2.1"/><circle cx="1451.2" cy="2080.4" r="1.1"/><circle cx="1447.5" cy="2025.8" r="1.7"/><circle cx="1395.3" cy="2097.2" r="2"/><circle cx="1427.3" cy="1993.2" r="1.3"/><circle cx="1423.5" cy="2024.6" r="1.8"/><circle cx="1379.6" cy="2088.4" r="1.8"/><circle cx="1360.7" cy="2019.8" r="2.3"/><circle cx="1336.3" cy="2044.7" r="1.3"/><circle cx="1433.8" cy="2025.5" r="2.1"/><circle cx="1437.5" cy="2055.4" r="1.4"/><circle cx="1456" cy="2043.5" r="2.3"/><circle cx="1376.2" cy="2057.4" r="1"/><circle cx="1422.9" cy="1994.5" r="1.2"/><circle cx="1413.2" cy="2082.2" r="2.4"/><circle cx="1412.6" cy="2088.8" r="2"/><circle cx="1407.4" cy="2086.8" r="2.2"/><circle cx="1413.4" cy="2089.2" r="2.5"/><circle cx="1409.4" cy="2083.9" r="2.8"/><circle cx="1409.6" cy="2084" r="1.9"/><circle cx="1418.5" cy="2080.7" r="1.8"/><circle cx="1411" cy="2084.3" r="2.4"/><circle cx="1382.9" cy="2074.1" r="1.3"/><circle cx="1371.7" cy="2075.6" r="1.8"/><circle cx="1371.9" cy="2084.3" r="2.5"/><circle cx="1370.5" cy="2079.5" r="2.2"/><circle cx="1379.7" cy="2079.6" r="2.7"/><circle cx="1369.1" cy="2079.8" r="1.9"/><circle cx="1371" cy="2066.4" r="2.2"/><circle cx="1376.2" cy="2078.9" r="2.1"/><circle cx="1401.2" cy="2060.9" r="2"/><circle cx="1395.5" cy="2070.7" r="2.7"/><circle cx="1405.1" cy="2073.9" r="1.4"/><circle cx="1399.1" cy="2056.6" r="2.6"/><circle cx="1414.1" cy="2059.4" r="1.7"/><circle cx="1403.4" cy="2064.6" r="2.2"/><circle cx="1401.6" cy="2072.5" r="2.2"/><circle cx="1403.3" cy="2072.9" r="2.3"/><circle cx="1355" cy="2056" r="1.2"/><circle cx="1346.3" cy="2056.6" r="1.5"/><circle cx="1344.9" cy="2046.3" r="2.1"/><circle cx="1347.2" cy="2054.1" r="1.8"/><circle cx="1353.1" cy="2057.6" r="2.2"/><circle cx="1350.5" cy="2047" r="1.8"/><circle cx="1351.1" cy="2052.6" r="2.3"/><circle cx="1351.8" cy="2049" r="1.3"/></g><path d="M171.5 2125.4L182.5 2125.4A75.2 75.2 0 0 1 250.2 2183.2L250.2 2217.6A75.2 75.2 0 0 1 182.5 2275.4L171.5 2275.4A75.2 75.2 0 0 1 103.8 2217.6L103.8 2183.2A75.2 75.2 0 0 1 171.5 2125.4Z" fill="#b3adbc"/><path d="M171.5 2125.4L182.5 2125.4A75.2 75.2 0 0 1 250.2 2183.2L250.2 2217.6A75.2 75.2 0 0 1 182.5 2275.4L171.5 2275.4A75.2 75.2 0 0 1 103.8 2217.6L103.8 2183.2A75.2 75.2 0 0 1 171.5 2125.4Z" fill="url(#gC)"/><path d="M323.9 2125.4L334.9 2125.4A75.2 75.2 0 0 1 402.6 2183.2L402.6 2217.6A75.2 75.2 0 0 1 334.9 2275.4L323.9 2275.4A75.2 75.2 0 0 1 256.2 2217.6L256.2 2183.2A75.2 75.2 0 0 1 323.9 2125.4Z" fill="#a098a6"/><path d="M323.9 2125.4L334.9 2125.4A75.2 75.2 0 0 1 402.6 2183.2L402.6 2217.6A75.2 75.2 0 0 1 334.9 2275.4L323.9 2275.4A75.2 75.2 0 0 1 256.2 2217.6L256.2 2183.2A75.2 75.2 0 0 1 323.9 2125.4Z" fill="#000" opacity="0.6" filter="url(#fcl)"/><path d="M323.9 2125.4L334.9 2125.4A75.2 75.2 0 0 1 402.6 2183.2L402.6 2217.6A75.2 75.2 0 0 1 334.9 2275.4L323.9 2275.4A75.2 75.2 0 0 1 256.2 2217.6L256.2 2183.2A75.2 75.2 0 0 1 323.9 2125.4Z" fill="url(#pda)" opacity="0.7"/><path d="M323.9 2125.4L334.9 2125.4A75.2 75.2 0 0 1 402.6 2183.2L402.6 2217.6A75.2 75.2 0 0 1 334.9 2275.4L323.9 2275.4A75.2 75.2 0 0 1 256.2 2217.6L256.2 2183.2A75.2 75.2 0 0 1 323.9 2125.4Z" fill="url(#gV)"/><path d="M476.3 2125.4L487.3 2125.4A75.2 75.2 0 0 1 555 2183.2L555 2217.6A75.2 75.2 0 0 1 487.3 2275.4L476.3 2275.4A75.2 75.2 0 0 1 408.6 2217.6L408.6 2183.2A75.2 75.2 0 0 1 476.3 2125.4Z" fill="#9a929c"/><path d="M476.3 2125.4L487.3 2125.4A75.2 75.2 0 0 1 555 2183.2L555 2217.6A75.2 75.2 0 0 1 487.3 2275.4L476.3 2275.4A75.2 75.2 0 0 1 408.6 2217.6L408.6 2183.2A75.2 75.2 0 0 1 476.3 2125.4Z" fill="#000" opacity="0.7" filter="url(#fcl)"/><path d="M476.3 2125.4L487.3 2125.4A75.2 75.2 0 0 1 555 2183.2L555 2217.6A75.2 75.2 0 0 1 487.3 2275.4L476.3 2275.4A75.2 75.2 0 0 1 408.6 2217.6L408.6 2183.2A75.2 75.2 0 0 1 476.3 2125.4Z" fill="url(#pdb)" opacity="0.85"/><path d="M476.3 2125.4L487.3 2125.4A75.2 75.2 0 0 1 555 2183.2L555 2217.6A75.2 75.2 0 0 1 487.3 2275.4L476.3 2275.4A75.2 75.2 0 0 1 408.6 2217.6L408.6 2183.2A75.2 75.2 0 0 1 476.3 2125.4Z" fill="url(#gV)"/><path d="M628.7 2125.4L639.7 2125.4A75.2 75.2 0 0 1 707.4 2183.2L707.4 2217.6A75.2 75.2 0 0 1 639.7 2275.4L628.7 2275.4A75.2 75.2 0 0 1 561 2217.6L561 2183.2A75.2 75.2 0 0 1 628.7 2125.4Z" fill="#9a929f"/><path d="M628.7 2125.4L639.7 2125.4A75.2 75.2 0 0 1 707.4 2183.2L707.4 2217.6A75.2 75.2 0 0 1 639.7 2275.4L628.7 2275.4A75.2 75.2 0 0 1 561 2217.6L561 2183.2A75.2 75.2 0 0 1 628.7 2125.4Z" fill="#000" opacity="0.7" filter="url(#fcl)"/><path d="M628.7 2125.4L639.7 2125.4A75.2 75.2 0 0 1 707.4 2183.2L707.4 2217.6A75.2 75.2 0 0 1 639.7 2275.4L628.7 2275.4A75.2 75.2 0 0 1 561 2217.6L561 2183.2A75.2 75.2 0 0 1 628.7 2125.4Z" fill="url(#pda)" opacity="0.85"/><path d="M628.7 2125.4L639.7 2125.4A75.2 75.2 0 0 1 707.4 2183.2L707.4 2217.6A75.2 75.2 0 0 1 639.7 2275.4L628.7 2275.4A75.2 75.2 0 0 1 561 2217.6L561 2183.2A75.2 75.2 0 0 1 628.7 2125.4Z" fill="url(#gV)"/><path d="M781.1 2125.4L792.1 2125.4A75.2 75.2 0 0 1 859.8 2183.2L859.8 2217.6A75.2 75.2 0 0 1 792.1 2275.4L781.1 2275.4A75.2 75.2 0 0 1 713.4 2217.6L713.4 2183.2A75.2 75.2 0 0 1 781.1 2125.4Z" fill="#8f8896"/><path d="M781.1 2125.4L792.1 2125.4A75.2 75.2 0 0 1 859.8 2183.2L859.8 2217.6A75.2 75.2 0 0 1 792.1 2275.4L781.1 2275.4A75.2 75.2 0 0 1 713.4 2217.6L713.4 2183.2A75.2 75.2 0 0 1 781.1 2125.4Z" fill="#000" opacity="0.7" filter="url(#fcl)"/><path d="M781.1 2125.4L792.1 2125.4A75.2 75.2 0 0 1 859.8 2183.2L859.8 2217.6A75.2 75.2 0 0 1 792.1 2275.4L781.1 2275.4A75.2 75.2 0 0 1 713.4 2217.6L713.4 2183.2A75.2 75.2 0 0 1 781.1 2125.4Z" fill="url(#pdb)" opacity="0.85"/><path d="M781.1 2125.4L792.1 2125.4A75.2 75.2 0 0 1 859.8 2183.2L859.8 2217.6A75.2 75.2 0 0 1 792.1 2275.4L781.1 2275.4A75.2 75.2 0 0 1 713.4 2217.6L713.4 2183.2A75.2 75.2 0 0 1 781.1 2125.4Z" fill="url(#gV)"/><path d="M933.5 2125.4L944.5 2125.4A75.2 75.2 0 0 1 1012.2 2183.2L1012.2 2217.6A75.2 75.2 0 0 1 944.5 2275.4L933.5 2275.4A75.2 75.2 0 0 1 865.8 2217.6L865.8 2183.2A75.2 75.2 0 0 1 933.5 2125.4Z" fill="#8b8392"/><path d="M933.5 2125.4L944.5 2125.4A75.2 75.2 0 0 1 1012.2 2183.2L1012.2 2217.6A75.2 75.2 0 0 1 944.5 2275.4L933.5 2275.4A75.2 75.2 0 0 1 865.8 2217.6L865.8 2183.2A75.2 75.2 0 0 1 933.5 2125.4Z" fill="#000" opacity="0.7" filter="url(#fcl)"/><path d="M933.5 2125.4L944.5 2125.4A75.2 75.2 0 0 1 1012.2 2183.2L1012.2 2217.6A75.2 75.2 0 0 1 944.5 2275.4L933.5 2275.4A75.2 75.2 0 0 1 865.8 2217.6L865.8 2183.2A75.2 75.2 0 0 1 933.5 2125.4Z" fill="url(#pda)" opacity="0.85"/><path d="M933.5 2125.4L944.5 2125.4A75.2 75.2 0 0 1 1012.2 2183.2L1012.2 2217.6A75.2 75.2 0 0 1 944.5 2275.4L933.5 2275.4A75.2 75.2 0 0 1 865.8 2217.6L865.8 2183.2A75.2 75.2 0 0 1 933.5 2125.4Z" fill="url(#gV)"/><path d="M1085.9 2125.4L1096.9 2125.4A75.2 75.2 0 0 1 1164.6 2183.2L1164.6 2217.6A75.2 75.2 0 0 1 1096.9 2275.4L1085.9 2275.4A75.2 75.2 0 0 1 1018.2 2217.6L1018.2 2183.2A75.2 75.2 0 0 1 1085.9 2125.4Z" fill="#6d627b"/><path d="M1085.9 2125.4L1096.9 2125.4A75.2 75.2 0 0 1 1164.6 2183.2L1164.6 2217.6A75.2 75.2 0 0 1 1096.9 2275.4L1085.9 2275.4A75.2 75.2 0 0 1 1018.2 2217.6L1018.2 2183.2A75.2 75.2 0 0 1 1085.9 2125.4Z" fill="#000" opacity="0.35" filter="url(#fd3)"/><path d="M1085.9 2125.4L1096.9 2125.4A75.2 75.2 0 0 1 1164.6 2183.2L1164.6 2217.6A75.2 75.2 0 0 1 1096.9 2275.4L1085.9 2275.4A75.2 75.2 0 0 1 1018.2 2217.6L1018.2 2183.2A75.2 75.2 0 0 1 1085.9 2125.4Z" fill="url(#gF)"/><path d="M1085.9 2125.4L1096.9 2125.4A75.2 75.2 0 0 1 1164.6 2183.2L1164.6 2217.6A75.2 75.2 0 0 1 1096.9 2275.4L1085.9 2275.4A75.2 75.2 0 0 1 1018.2 2217.6L1018.2 2183.2A75.2 75.2 0 0 1 1085.9 2125.4Z" fill="url(#gFv)"/><path d="M1238.3 2125.4L1249.3 2125.4A75.2 75.2 0 0 1 1317 2183.2L1317 2217.6A75.2 75.2 0 0 1 1249.3 2275.4L1238.3 2275.4A75.2 75.2 0 0 1 1170.6 2217.6L1170.6 2183.2A75.2 75.2 0 0 1 1238.3 2125.4Z" fill="#afa7ae"/><g fill="#4f4468" fill-opacity="0.8"><circle cx="1192.3" cy="2248.2" r="1"/><circle cx="1286.6" cy="2254.4" r="2.1"/><circle cx="1305.1" cy="2221.2" r="2"/><circle cx="1236.5" cy="2243.6" r="2.3"/><circle cx="1228.9" cy="2203.8" r="2.1"/><circle cx="1185" cy="2208.7" r="1.1"/><circle cx="1228.5" cy="2193.3" r="1.2"/><circle cx="1275.6" cy="2209.9" r="1.4"/><circle cx="1214.4" cy="2200.9" r="1.5"/><circle cx="1238.9" cy="2212.1" r="1.4"/><circle cx="1253.5" cy="2188.5" r="1.9"/><circle cx="1285.9" cy="2194.8" r="1.3"/><circle cx="1282.3" cy="2165.7" r="2"/><circle cx="1183.5" cy="2218.5" r="1.4"/><circle cx="1240.9" cy="2215.8" r="1"/><circle cx="1227.9" cy="2244.4" r="2"/><circle cx="1289.1" cy="2209.9" r="1.6"/><circle cx="1213.1" cy="2250.1" r="2.3"/><circle cx="1248.8" cy="2240" r="2.5"/><circle cx="1289.8" cy="2166.1" r="1.7"/><circle cx="1292.6" cy="2231.8" r="1.6"/><circle cx="1301.5" cy="2190.1" r="1.4"/><circle cx="1233.1" cy="2210.1" r="1.7"/><circle cx="1229.2" cy="2156.5" r="1.7"/><circle cx="1249.4" cy="2234.2" r="2.4"/><circle cx="1217.2" cy="2232.4" r="2.3"/><circle cx="1179.3" cy="2193.3" r="1.6"/><circle cx="1237.8" cy="2233.9" r="1.1"/><circle cx="1304.3" cy="2200.7" r="1.5"/><circle cx="1279.1" cy="2150.2" r="1.1"/><circle cx="1252.6" cy="2262.7" r="2.2"/><circle cx="1217" cy="2187.8" r="2"/><circle cx="1272.6" cy="2213.8" r="1.4"/><circle cx="1280.7" cy="2176.6" r="2.3"/><circle cx="1264.7" cy="2255.6" r="2.5"/><circle cx="1264.8" cy="2173.1" r="2"/><circle cx="1194.2" cy="2219.2" r="1.9"/><circle cx="1228.3" cy="2168.8" r="0.9"/><circle cx="1306.5" cy="2226.3" r="1.1"/><circle cx="1289.5" cy="2227.6" r="2.1"/><circle cx="1251.9" cy="2248.8" r="1.8"/><circle cx="1257.9" cy="2207.9" r="2.3"/><circle cx="1209.2" cy="2257.4" r="2.2"/><circle cx="1293.4" cy="2247" r="1.7"/><circle cx="1248.2" cy="2159.6" r="1.5"/><circle cx="1303.4" cy="2210.6" r="2.2"/><circle cx="1233.4" cy="2236.3" r="1.1"/><circle cx="1178" cy="2216.2" r="1.1"/><circle cx="1177.9" cy="2222.8" r="2.4"/><circle cx="1297.6" cy="2229.8" r="1.3"/><circle cx="1247.9" cy="2257.9" r="1.2"/><circle cx="1265.7" cy="2228.4" r="2.6"/><circle cx="1214.8" cy="2194.4" r="2.2"/><circle cx="1280.2" cy="2139.6" r="1.8"/><circle cx="1199.4" cy="2153.7" r="1.7"/><circle cx="1254.2" cy="2214.4" r="2.2"/><circle cx="1189.2" cy="2212.2" r="2.5"/><circle cx="1250.4" cy="2134.1" r="1.3"/><circle cx="1214.1" cy="2166.6" r="2.4"/><circle cx="1210.3" cy="2194.2" r="1.3"/><circle cx="1210" cy="2138.9" r="1.3"/><circle cx="1256.9" cy="2137.5" r="1.6"/><circle cx="1267.6" cy="2153.3" r="1.9"/><circle cx="1241.8" cy="2237.5" r="1.6"/><circle cx="1185.5" cy="2166.4" r="2.6"/><circle cx="1215" cy="2205.8" r="2.3"/><circle cx="1259.8" cy="2210.5" r="1.2"/><circle cx="1198.2" cy="2196.9" r="1.9"/><circle cx="1248.5" cy="2149.5" r="1"/><circle cx="1310" cy="2179.8" r="1.1"/><circle cx="1228.2" cy="2212.3" r="1.2"/><circle cx="1199.7" cy="2205.6" r="2.2"/><circle cx="1274.4" cy="2256.8" r="2.5"/><circle cx="1295.7" cy="2164.9" r="1.3"/><circle cx="1226.3" cy="2160.9" r="2.6"/><circle cx="1256" cy="2231.1" r="1.7"/><circle cx="1198.3" cy="2222.5" r="2.2"/><circle cx="1203.6" cy="2203.2" r="1.3"/><circle cx="1266" cy="2254.8" r="1.9"/><circle cx="1187.2" cy="2235.6" r="2.6"/><circle cx="1200.5" cy="2237.8" r="1.7"/><circle cx="1229.5" cy="2153" r="1.3"/><circle cx="1256" cy="2252.7" r="1.1"/><circle cx="1223.1" cy="2181.1" r="1.5"/><circle cx="1269.1" cy="2163.9" r="2.1"/><circle cx="1233.2" cy="2190.1" r="2"/><circle cx="1209.4" cy="2174.6" r="2.1"/><circle cx="1263.6" cy="2258.5" r="1.7"/><circle cx="1192.7" cy="2202.9" r="1.2"/><circle cx="1308.7" cy="2171.9" r="2.1"/><circle cx="1183.6" cy="2216.8" r="1.7"/><circle cx="1269.9" cy="2135.9" r="2.1"/><circle cx="1254.9" cy="2155.4" r="1.8"/><circle cx="1294.2" cy="2161.1" r="1.1"/><circle cx="1250.5" cy="2137.9" r="2.5"/><circle cx="1277.2" cy="2215.3" r="1.1"/><circle cx="1226.7" cy="2165.1" r="1.9"/><circle cx="1211.8" cy="2192.2" r="2.3"/><circle cx="1216.5" cy="2168.4" r="1.7"/><circle cx="1248.9" cy="2189.5" r="1.9"/><circle cx="1262.5" cy="2217.8" r="1.2"/><circle cx="1240.7" cy="2206.2" r="2.5"/><circle cx="1205.6" cy="2188.4" r="2.5"/><circle cx="1206.9" cy="2246.8" r="2.2"/><circle cx="1182.3" cy="2209.5" r="1.3"/><circle cx="1183.9" cy="2195.6" r="1"/><circle cx="1232.9" cy="2166.4" r="2.4"/><circle cx="1276.6" cy="2211.3" r="1.2"/><circle cx="1206.7" cy="2176.1" r="1.6"/><circle cx="1265.8" cy="2261.1" r="1.6"/><circle cx="1224.9" cy="2193" r="2.3"/><circle cx="1224.5" cy="2200.1" r="2.1"/><circle cx="1229.8" cy="2189.8" r="1.7"/><circle cx="1244.1" cy="2185.5" r="1.4"/><circle cx="1232.5" cy="2193.8" r="1.7"/><circle cx="1233.5" cy="2192.7" r="1.7"/><circle cx="1222.7" cy="2197.5" r="2.1"/><circle cx="1226.4" cy="2198.1" r="1.2"/><circle cx="1281.9" cy="2239.8" r="1.8"/><circle cx="1279.2" cy="2242.1" r="1.6"/><circle cx="1275.7" cy="2240.5" r="2.2"/><circle cx="1278" cy="2230.5" r="2.5"/><circle cx="1270.7" cy="2230.7" r="2.4"/><circle cx="1279.3" cy="2235.1" r="2.2"/><circle cx="1274.1" cy="2229.7" r="1.9"/><circle cx="1285.6" cy="2245.8" r="1.8"/><circle cx="1275.8" cy="2223.1" r="2.1"/><circle cx="1271.8" cy="2218.1" r="1.3"/><circle cx="1273.5" cy="2215.4" r="1.7"/><circle cx="1283.7" cy="2216.7" r="1.8"/><circle cx="1282.5" cy="2213.4" r="2.6"/><circle cx="1279.4" cy="2221.1" r="2.7"/><circle cx="1274.1" cy="2218" r="2.1"/><circle cx="1278.5" cy="2205.5" r="2.5"/><circle cx="1224" cy="2227.7" r="1.7"/><circle cx="1228.1" cy="2227.2" r="2.3"/><circle cx="1214.3" cy="2221.1" r="1.3"/><circle cx="1214.8" cy="2216.1" r="1.5"/><circle cx="1222.8" cy="2225" r="2.5"/><circle cx="1220.2" cy="2218.6" r="1.7"/><circle cx="1219.9" cy="2213.4" r="1.5"/><circle cx="1223.3" cy="2213.9" r="2.2"/></g><path d="M1390.7 2125.4L1401.7 2125.4A75.2 75.2 0 0 1 1469.4 2183.2L1469.4 2217.6A75.2 75.2 0 0 1 1401.7 2275.4L1390.7 2275.4A75.2 75.2 0 0 1 1323 2217.6L1323 2183.2A75.2 75.2 0 0 1 1390.7 2125.4Z" fill="#9d95a2"/><g fill="#4f4468" fill-opacity="0.8"><circle cx="1407.8" cy="2209.8" r="2.5"/><circle cx="1383.5" cy="2231.8" r="1"/><circle cx="1390.3" cy="2186.6" r="1.1"/><circle cx="1407.2" cy="2225.1" r="2.6"/><circle cx="1394.2" cy="2164.9" r="2.5"/><circle cx="1389.5" cy="2234.5" r="1"/><circle cx="1378.8" cy="2160.2" r="1"/><circle cx="1360.9" cy="2197.7" r="2.2"/><circle cx="1442.7" cy="2194" r="1.3"/><circle cx="1348.1" cy="2155" r="1.8"/><circle cx="1401.3" cy="2171.2" r="2.4"/><circle cx="1353.5" cy="2256.9" r="2.3"/><circle cx="1410.5" cy="2167.3" r="2.4"/><circle cx="1335.4" cy="2202.4" r="2.2"/><circle cx="1333.8" cy="2211.2" r="2.5"/><circle cx="1384.4" cy="2189.7" r="2"/><circle cx="1407.1" cy="2142.2" r="2.3"/><circle cx="1386.7" cy="2243.6" r="2.4"/><circle cx="1408.6" cy="2170.5" r="2.4"/><circle cx="1434.1" cy="2243.9" r="2"/><circle cx="1445.1" cy="2168.6" r="1.7"/><circle cx="1377" cy="2160" r="1.9"/><circle cx="1363.9" cy="2203.6" r="1.9"/><circle cx="1428.9" cy="2204.6" r="2.3"/><circle cx="1387.3" cy="2147.9" r="1.6"/><circle cx="1405.3" cy="2198.1" r="1.3"/><circle cx="1433.1" cy="2213.7" r="1.1"/><circle cx="1365.9" cy="2253.5" r="2.4"/><circle cx="1399.5" cy="2183.7" r="1.4"/><circle cx="1351.7" cy="2188.6" r="2"/><circle cx="1339.3" cy="2170" r="1.3"/><circle cx="1404.6" cy="2251" r="2.5"/><circle cx="1425.9" cy="2219.5" r="2.5"/><circle cx="1426.2" cy="2192.6" r="2.1"/><circle cx="1440.1" cy="2234.5" r="0.9"/><circle cx="1397.3" cy="2261.2" r="2.6"/><circle cx="1351" cy="2213.8" r="2.2"/><circle cx="1398.4" cy="2234.3" r="0.9"/><circle cx="1369.3" cy="2169.8" r="0.9"/><circle cx="1348.4" cy="2248.7" r="1.8"/><circle cx="1358.5" cy="2230.2" r="1.4"/><circle cx="1351.3" cy="2177.7" r="1.1"/><circle cx="1398.1" cy="2217.5" r="1.5"/><circle cx="1426.9" cy="2252.5" r="1.3"/><circle cx="1448.4" cy="2228.7" r="1"/><circle cx="1452.4" cy="2229.9" r="1.3"/><circle cx="1370.8" cy="2176.9" r="1.2"/><circle cx="1432.7" cy="2256.8" r="2.1"/><circle cx="1367.8" cy="2146.8" r="2.3"/><circle cx="1426.3" cy="2234.9" r="2.3"/><circle cx="1439.7" cy="2231.9" r="2.3"/><circle cx="1398.4" cy="2195.3" r="1"/><circle cx="1373.6" cy="2228.2" r="2.6"/><circle cx="1435.8" cy="2210.6" r="1.5"/><circle cx="1349.7" cy="2169.7" r="2.2"/><circle cx="1435" cy="2198.3" r="1.7"/><circle cx="1358.4" cy="2200.7" r="1.8"/><circle cx="1455.7" cy="2200.4" r="2.2"/><circle cx="1442.5" cy="2202.6" r="1.6"/><circle cx="1384.3" cy="2249.7" r="2.3"/><circle cx="1391.1" cy="2242.7" r="1.7"/><circle cx="1330.8" cy="2202.4" r="1.7"/><circle cx="1387.9" cy="2260" r="1.3"/><circle cx="1421" cy="2162.2" r="2.4"/><circle cx="1353.2" cy="2201.6" r="1.8"/><circle cx="1374.1" cy="2228.3" r="2.1"/><circle cx="1437.5" cy="2225.5" r="1.2"/><circle cx="1338.4" cy="2226.8" r="1.7"/><circle cx="1405.1" cy="2186" r="1.6"/><circle cx="1413.7" cy="2217.6" r="1.7"/><circle cx="1399.3" cy="2181.5" r="1.2"/><circle cx="1421.7" cy="2234" r="2.1"/><circle cx="1451.4" cy="2189" r="1.8"/><circle cx="1394.4" cy="2148.3" r="2.6"/><circle cx="1398.8" cy="2140.5" r="2"/><circle cx="1439.6" cy="2161.8" r="1.1"/><circle cx="1371.1" cy="2266.6" r="2.2"/><circle cx="1392.7" cy="2184.1" r="1.2"/><circle cx="1365.8" cy="2263.9" r="1.1"/><circle cx="1446.4" cy="2151.2" r="2.4"/><circle cx="1400" cy="2218.2" r="2"/><circle cx="1402.6" cy="2176.6" r="1.9"/><circle cx="1352.6" cy="2208.8" r="1.5"/><circle cx="1367.9" cy="2183.9" r="2.1"/><circle cx="1364.3" cy="2247.6" r="1"/><circle cx="1435.6" cy="2195.8" r="1.9"/><circle cx="1355.3" cy="2164.6" r="1"/><circle cx="1339.3" cy="2230.5" r="1.6"/><circle cx="1363.9" cy="2247" r="1.3"/><circle cx="1388.1" cy="2162.3" r="1"/><circle cx="1429.3" cy="2151.2" r="2.2"/><circle cx="1385.4" cy="2195.3" r="1.6"/><circle cx="1430" cy="2155.5" r="1.8"/><circle cx="1421.7" cy="2237.2" r="1.7"/><circle cx="1406.7" cy="2252.2" r="1.8"/><circle cx="1357.5" cy="2186.6" r="2.5"/><circle cx="1444.5" cy="2216.8" r="1.5"/><circle cx="1377.8" cy="2224.5" r="1.2"/><circle cx="1394.1" cy="2257.1" r="1"/><circle cx="1380.5" cy="2136.5" r="1.5"/><circle cx="1464.4" cy="2192.4" r="2.4"/><circle cx="1408.8" cy="2189.1" r="2.1"/><circle cx="1398.8" cy="2167.1" r="2.5"/><circle cx="1414" cy="2135.1" r="2"/><circle cx="1334.9" cy="2192.8" r="1.5"/><circle cx="1345.2" cy="2177.3" r="1.5"/><circle cx="1344.8" cy="2160.7" r="1.5"/><circle cx="1381.6" cy="2240.7" r="1.1"/><circle cx="1337.3" cy="2212.7" r="1.1"/><circle cx="1351.6" cy="2218" r="2.4"/><circle cx="1368.8" cy="2224.2" r="1.9"/><circle cx="1375" cy="2206.7" r="1.6"/><circle cx="1373.5" cy="2222.1" r="1.3"/><circle cx="1359.6" cy="2221.9" r="2.6"/><circle cx="1368.6" cy="2218.8" r="2.3"/><circle cx="1383.2" cy="2216.1" r="2"/><circle cx="1374.2" cy="2218.3" r="2.1"/><circle cx="1371.7" cy="2230.5" r="2.2"/><circle cx="1394.1" cy="2148.3" r="2"/><circle cx="1392.6" cy="2149.5" r="2.3"/><circle cx="1391.4" cy="2149.5" r="2.1"/><circle cx="1395.3" cy="2145.7" r="1.5"/><circle cx="1391.2" cy="2148.5" r="2.7"/><circle cx="1384.8" cy="2144" r="1.6"/><circle cx="1388.6" cy="2143.3" r="2.6"/><circle cx="1388" cy="2142.6" r="2"/><circle cx="1369.1" cy="2194.2" r="2.8"/><circle cx="1379.7" cy="2209.6" r="1.9"/><circle cx="1376.9" cy="2209.4" r="1.8"/><circle cx="1365" cy="2205.1" r="1.7"/><circle cx="1367.2" cy="2207.2" r="1.2"/><circle cx="1375.4" cy="2212.2" r="1.9"/><circle cx="1376" cy="2192.6" r="2.2"/><circle cx="1370.6" cy="2198.5" r="1.7"/><circle cx="1400.4" cy="2197.9" r="1.3"/><circle cx="1406.8" cy="2196.4" r="2.2"/><circle cx="1395.9" cy="2201.2" r="1.7"/><circle cx="1396" cy="2193" r="2.2"/><circle cx="1397.2" cy="2200.9" r="2.7"/><circle cx="1398.6" cy="2193.8" r="1.7"/><circle cx="1392.7" cy="2202.5" r="1.5"/><circle cx="1393.2" cy="2194" r="1.5"/></g><path d="M177 2279.8L177 2279.8A75.2 75.2 0 0 1 250.2 2338.2L250.2 2372.6A75.2 75.2 0 0 1 177 2431L177 2431A75.2 75.2 0 0 1 103.8 2372.6L103.8 2338.2A75.2 75.2 0 0 1 177 2279.8Z" fill="#cec4c7"/><path d="M177 2279.8L177 2279.8A75.2 75.2 0 0 1 250.2 2338.2L250.2 2372.6A75.2 75.2 0 0 1 177 2431L177 2431A75.2 75.2 0 0 1 103.8 2372.6L103.8 2338.2A75.2 75.2 0 0 1 177 2279.8Z" fill="url(#gC)"/><path d="M329.4 2279.8L329.4 2279.8A75.2 75.2 0 0 1 402.6 2338.2L402.6 2372.6A75.2 75.2 0 0 1 329.4 2431L329.4 2431A75.2 75.2 0 0 1 256.2 2372.6L256.2 2338.2A75.2 75.2 0 0 1 329.4 2279.8Z" fill="#b5abb1"/><path d="M329.4 2279.8L329.4 2279.8A75.2 75.2 0 0 1 402.6 2338.2L402.6 2372.6A75.2 75.2 0 0 1 329.4 2431L329.4 2431A75.2 75.2 0 0 1 256.2 2372.6L256.2 2338.2A75.2 75.2 0 0 1 329.4 2279.8Z" fill="#000" opacity="0.4" filter="url(#fcl)"/><path d="M329.4 2279.8L329.4 2279.8A75.2 75.2 0 0 1 402.6 2338.2L402.6 2372.6A75.2 75.2 0 0 1 329.4 2431L329.4 2431A75.2 75.2 0 0 1 256.2 2372.6L256.2 2338.2A75.2 75.2 0 0 1 329.4 2279.8Z" fill="url(#pdb)" opacity="0.55"/><path d="M329.4 2279.8L329.4 2279.8A75.2 75.2 0 0 1 402.6 2338.2L402.6 2372.6A75.2 75.2 0 0 1 329.4 2431L329.4 2431A75.2 75.2 0 0 1 256.2 2372.6L256.2 2338.2A75.2 75.2 0 0 1 329.4 2279.8Z" fill="url(#gV)"/><path d="M481.8 2279.8L481.8 2279.8A75.2 75.2 0 0 1 555 2338.2L555 2372.6A75.2 75.2 0 0 1 481.8 2431L481.8 2431A75.2 75.2 0 0 1 408.6 2372.6L408.6 2338.2A75.2 75.2 0 0 1 481.8 2279.8Z" fill="#a59ca7"/><path d="M481.8 2279.8L481.8 2279.8A75.2 75.2 0 0 1 555 2338.2L555 2372.6A75.2 75.2 0 0 1 481.8 2431L481.8 2431A75.2 75.2 0 0 1 408.6 2372.6L408.6 2338.2A75.2 75.2 0 0 1 481.8 2279.8Z" fill="#000" opacity="0.6" filter="url(#fcl)"/><path d="M481.8 2279.8L481.8 2279.8A75.2 75.2 0 0 1 555 2338.2L555 2372.6A75.2 75.2 0 0 1 481.8 2431L481.8 2431A75.2 75.2 0 0 1 408.6 2372.6L408.6 2338.2A75.2 75.2 0 0 1 481.8 2279.8Z" fill="url(#pda)" opacity="0.7"/><path d="M481.8 2279.8L481.8 2279.8A75.2 75.2 0 0 1 555 2338.2L555 2372.6A75.2 75.2 0 0 1 481.8 2431L481.8 2431A75.2 75.2 0 0 1 408.6 2372.6L408.6 2338.2A75.2 75.2 0 0 1 481.8 2279.8Z" fill="url(#gV)"/><path d="M634.2 2279.8L634.2 2279.8A75.2 75.2 0 0 1 707.4 2338.2L707.4 2372.6A75.2 75.2 0 0 1 634.2 2431L634.2 2431A75.2 75.2 0 0 1 561 2372.6L561 2338.2A75.2 75.2 0 0 1 634.2 2279.8Z" fill="#a299a3"/><path d="M634.2 2279.8L634.2 2279.8A75.2 75.2 0 0 1 707.4 2338.2L707.4 2372.6A75.2 75.2 0 0 1 634.2 2431L634.2 2431A75.2 75.2 0 0 1 561 2372.6L561 2338.2A75.2 75.2 0 0 1 634.2 2279.8Z" fill="#000" opacity="0.7" filter="url(#fcl)"/><path d="M634.2 2279.8L634.2 2279.8A75.2 75.2 0 0 1 707.4 2338.2L707.4 2372.6A75.2 75.2 0 0 1 634.2 2431L634.2 2431A75.2 75.2 0 0 1 561 2372.6L561 2338.2A75.2 75.2 0 0 1 634.2 2279.8Z" fill="url(#pdb)" opacity="0.85"/><path d="M634.2 2279.8L634.2 2279.8A75.2 75.2 0 0 1 707.4 2338.2L707.4 2372.6A75.2 75.2 0 0 1 634.2 2431L634.2 2431A75.2 75.2 0 0 1 561 2372.6L561 2338.2A75.2 75.2 0 0 1 634.2 2279.8Z" fill="url(#gV)"/><path d="M786.6 2279.8L786.6 2279.8A75.2 75.2 0 0 1 859.8 2338.2L859.8 2372.6A75.2 75.2 0 0 1 786.6 2431L786.6 2431A75.2 75.2 0 0 1 713.4 2372.6L713.4 2338.2A75.2 75.2 0 0 1 786.6 2279.8Z" fill="#a79ea7"/><path d="M786.6 2279.8L786.6 2279.8A75.2 75.2 0 0 1 859.8 2338.2L859.8 2372.6A75.2 75.2 0 0 1 786.6 2431L786.6 2431A75.2 75.2 0 0 1 713.4 2372.6L713.4 2338.2A75.2 75.2 0 0 1 786.6 2279.8Z" fill="#000" opacity="0.6" filter="url(#fcl)"/><path d="M786.6 2279.8L786.6 2279.8A75.2 75.2 0 0 1 859.8 2338.2L859.8 2372.6A75.2 75.2 0 0 1 786.6 2431L786.6 2431A75.2 75.2 0 0 1 713.4 2372.6L713.4 2338.2A75.2 75.2 0 0 1 786.6 2279.8Z" fill="url(#pda)" opacity="0.7"/><path d="M786.6 2279.8L786.6 2279.8A75.2 75.2 0 0 1 859.8 2338.2L859.8 2372.6A75.2 75.2 0 0 1 786.6 2431L786.6 2431A75.2 75.2 0 0 1 713.4 2372.6L713.4 2338.2A75.2 75.2 0 0 1 786.6 2279.8Z" fill="url(#gV)"/><path d="M939 2279.8L939 2279.8A75.2 75.2 0 0 1 1012.2 2338.2L1012.2 2372.6A75.2 75.2 0 0 1 939 2431L939 2431A75.2 75.2 0 0 1 865.8 2372.6L865.8 2338.2A75.2 75.2 0 0 1 939 2279.8Z" fill="#958d9c"/><path d="M939 2279.8L939 2279.8A75.2 75.2 0 0 1 1012.2 2338.2L1012.2 2372.6A75.2 75.2 0 0 1 939 2431L939 2431A75.2 75.2 0 0 1 865.8 2372.6L865.8 2338.2A75.2 75.2 0 0 1 939 2279.8Z" fill="#000" opacity="0.6" filter="url(#fcl)"/><path d="M939 2279.8L939 2279.8A75.2 75.2 0 0 1 1012.2 2338.2L1012.2 2372.6A75.2 75.2 0 0 1 939 2431L939 2431A75.2 75.2 0 0 1 865.8 2372.6L865.8 2338.2A75.2 75.2 0 0 1 939 2279.8Z" fill="url(#pdb)" opacity="0.7"/><path d="M939 2279.8L939 2279.8A75.2 75.2 0 0 1 1012.2 2338.2L1012.2 2372.6A75.2 75.2 0 0 1 939 2431L939 2431A75.2 75.2 0 0 1 865.8 2372.6L865.8 2338.2A75.2 75.2 0 0 1 939 2279.8Z" fill="url(#gV)"/><path d="M1091.4 2279.8L1091.4 2279.8A75.2 75.2 0 0 1 1164.6 2338.2L1164.6 2372.6A75.2 75.2 0 0 1 1091.4 2431L1091.4 2431A75.2 75.2 0 0 1 1018.2 2372.6L1018.2 2338.2A75.2 75.2 0 0 1 1091.4 2279.8Z" fill="#625972"/><path d="M1091.4 2279.8L1091.4 2279.8A75.2 75.2 0 0 1 1164.6 2338.2L1164.6 2372.6A75.2 75.2 0 0 1 1091.4 2431L1091.4 2431A75.2 75.2 0 0 1 1018.2 2372.6L1018.2 2338.2A75.2 75.2 0 0 1 1091.4 2279.8Z" fill="#000" opacity="0.35" filter="url(#fd3)"/><path d="M1091.4 2279.8L1091.4 2279.8A75.2 75.2 0 0 1 1164.6 2338.2L1164.6 2372.6A75.2 75.2 0 0 1 1091.4 2431L1091.4 2431A75.2 75.2 0 0 1 1018.2 2372.6L1018.2 2338.2A75.2 75.2 0 0 1 1091.4 2279.8Z" fill="url(#gF)"/><path d="M1243.8 2279.8L1243.8 2279.8A75.2 75.2 0 0 1 1317 2338.2L1317 2372.6A75.2 75.2 0 0 1 1243.8 2431L1243.8 2431A75.2 75.2 0 0 1 1170.6 2372.6L1170.6 2338.2A75.2 75.2 0 0 1 1243.8 2279.8Z" fill="#c6bfbd"/><g fill="#4f4468" fill-opacity="0.8"><circle cx="1201.8" cy="2313.7" r="2.3"/><circle cx="1198.6" cy="2301.3" r="2.4"/><circle cx="1216.7" cy="2325.2" r="1.3"/><circle cx="1260.6" cy="2382.8" r="2.3"/><circle cx="1262.5" cy="2345.6" r="1.5"/><circle cx="1234" cy="2415.1" r="2"/><circle cx="1235.6" cy="2358.6" r="1.1"/><circle cx="1206.6" cy="2410.7" r="1.4"/><circle cx="1195.1" cy="2347.8" r="1.9"/><circle cx="1236.9" cy="2303.5" r="1.2"/><circle cx="1244.4" cy="2349.4" r="1.9"/><circle cx="1258.8" cy="2386.9" r="2.5"/><circle cx="1201.6" cy="2327" r="2.4"/><circle cx="1182.9" cy="2327.7" r="2.2"/><circle cx="1273" cy="2316.2" r="2"/><circle cx="1293.9" cy="2311.5" r="1.3"/><circle cx="1227.6" cy="2388.5" r="1.2"/><circle cx="1255.7" cy="2332.5" r="1.1"/><circle cx="1177" cy="2346.1" r="2"/><circle cx="1248" cy="2387.6" r="1.2"/><circle cx="1223.5" cy="2413" r="0.9"/><circle cx="1267.4" cy="2392.9" r="1.9"/><circle cx="1216" cy="2299.9" r="1.1"/><circle cx="1281.8" cy="2317.9" r="2"/><circle cx="1258.5" cy="2346.6" r="2.4"/><circle cx="1198.5" cy="2362" r="2"/><circle cx="1291.3" cy="2374" r="1.8"/><circle cx="1303.2" cy="2357.1" r="1.4"/><circle cx="1294.8" cy="2334.7" r="1.2"/><circle cx="1221.8" cy="2316.4" r="2.5"/><circle cx="1195.9" cy="2335.9" r="0.9"/><circle cx="1198.2" cy="2305.1" r="1.7"/><circle cx="1214.1" cy="2310.5" r="1.2"/><circle cx="1206.8" cy="2370" r="1.7"/><circle cx="1179.3" cy="2379" r="2.4"/><circle cx="1208.3" cy="2303" r="1.5"/><circle cx="1265" cy="2411" r="2.1"/><circle cx="1286.2" cy="2351.2" r="2.3"/><circle cx="1254.9" cy="2369.7" r="1.9"/><circle cx="1280.1" cy="2396.3" r="2.3"/><circle cx="1273.2" cy="2373.4" r="2"/><circle cx="1183.1" cy="2340.9" r="2.6"/><circle cx="1290.8" cy="2334.8" r="0.9"/><circle cx="1208.2" cy="2351.8" r="1.3"/><circle cx="1276.5" cy="2416" r="1.8"/><circle cx="1292.4" cy="2368.1" r="1.4"/><circle cx="1291.5" cy="2399.7" r="1.7"/><circle cx="1254.6" cy="2424.7" r="2"/><circle cx="1213.1" cy="2352.6" r="1.5"/><circle cx="1274.6" cy="2411" r="1.7"/><circle cx="1275.4" cy="2292.9" r="1.7"/><circle cx="1257.6" cy="2409.9" r="1.6"/><circle cx="1298.3" cy="2388" r="2.4"/><circle cx="1192.4" cy="2342.1" r="2.2"/><circle cx="1301.8" cy="2385.8" r="1.8"/><circle cx="1212.5" cy="2323.5" r="2.2"/><circle cx="1231" cy="2396.1" r="2.5"/><circle cx="1192.5" cy="2308.9" r="1"/><circle cx="1253.1" cy="2292.7" r="2.4"/><circle cx="1235.9" cy="2288.3" r="1.5"/><circle cx="1229.2" cy="2334.7" r="1.1"/><circle cx="1247.7" cy="2314.8" r="1.1"/><circle cx="1207" cy="2308.3" r="1.2"/><circle cx="1208.2" cy="2294.8" r="1.3"/><circle cx="1250" cy="2353.9" r="2.3"/><circle cx="1226.6" cy="2392.4" r="2.1"/><circle cx="1281.6" cy="2332.2" r="1.5"/><circle cx="1200.3" cy="2377.6" r="2"/><circle cx="1198.6" cy="2312.4" r="1.6"/><circle cx="1281.5" cy="2304.6" r="1.7"/><circle cx="1197.2" cy="2359.3" r="2.2"/><circle cx="1189.6" cy="2364" r="1.3"/><circle cx="1193.1" cy="2367.2" r="2.2"/><circle cx="1201.7" cy="2372.9" r="1.6"/><circle cx="1197.8" cy="2362.4" r="1.4"/><circle cx="1198.5" cy="2369.5" r="2.3"/><circle cx="1200" cy="2358.6" r="2"/><circle cx="1194" cy="2367.2" r="2"/><circle cx="1232.9" cy="2363.8" r="2.4"/><circle cx="1238.8" cy="2370.1" r="2.7"/><circle cx="1232.1" cy="2364.4" r="2.5"/><circle cx="1227.9" cy="2368" r="2.6"/><circle cx="1248.9" cy="2366.4" r="1.4"/><circle cx="1232.5" cy="2373.9" r="1.7"/><circle cx="1235.6" cy="2371.3" r="2.6"/><circle cx="1232.5" cy="2370.3" r="2.7"/><circle cx="1214.2" cy="2307.6" r="1.9"/><circle cx="1221.8" cy="2316.2" r="1.9"/><circle cx="1212.8" cy="2316.9" r="1.4"/><circle cx="1218.6" cy="2301.5" r="2.4"/><circle cx="1218.5" cy="2310.3" r="2.1"/><circle cx="1217" cy="2302.6" r="2.5"/><circle cx="1217.3" cy="2318.3" r="2"/><circle cx="1237.8" cy="2311.8" r="2.6"/><circle cx="1244.9" cy="2312.8" r="2.2"/><circle cx="1247.9" cy="2307.3" r="2.1"/><circle cx="1244.8" cy="2312.9" r="1.2"/><circle cx="1248" cy="2311.5" r="1.7"/><circle cx="1238.9" cy="2319.8" r="2.7"/><circle cx="1233.6" cy="2318.3" r="2.5"/><circle cx="1245.3" cy="2308.7" r="1.5"/><circle cx="1236.5" cy="2313.5" r="1.3"/></g><path d="M1396.2 2279.8L1396.2 2279.8A75.2 75.2 0 0 1 1469.4 2338.2L1469.4 2372.6A75.2 75.2 0 0 1 1396.2 2431L1396.2 2431A75.2 75.2 0 0 1 1323 2372.6L1323 2338.2A75.2 75.2 0 0 1 1396.2 2279.8Z" fill="#b1a9b0"/><g fill="#4f4468" fill-opacity="0.8"><circle cx="1443.2" cy="2340.7" r="1.8"/><circle cx="1437.1" cy="2307.5" r="1.8"/><circle cx="1334.5" cy="2340.1" r="1.6"/><circle cx="1451.5" cy="2313.4" r="1.9"/><circle cx="1433.1" cy="2310.7" r="1.1"/><circle cx="1359.6" cy="2376.2" r="1.2"/><circle cx="1336.8" cy="2339.8" r="2.3"/><circle cx="1381.5" cy="2417.5" r="1.8"/><circle cx="1435.3" cy="2392" r="1"/><circle cx="1351.2" cy="2301.8" r="2.1"/><circle cx="1444.1" cy="2305.6" r="1.7"/><circle cx="1428.7" cy="2377.3" r="2"/><circle cx="1347" cy="2304.4" r="2.3"/><circle cx="1366.7" cy="2301.7" r="1.9"/><circle cx="1336.4" cy="2381.6" r="2"/><circle cx="1400.9" cy="2300.9" r="1.1"/><circle cx="1423.8" cy="2353.3" r="1.9"/><circle cx="1354.8" cy="2330.3" r="2.1"/><circle cx="1377.6" cy="2304.5" r="2.1"/><circle cx="1357.9" cy="2414.8" r="1.5"/><circle cx="1426.1" cy="2370.4" r="1.4"/><circle cx="1397.7" cy="2371.6" r="1.9"/><circle cx="1399.3" cy="2330.2" r="2.6"/><circle cx="1388.5" cy="2327.7" r="2"/><circle cx="1360" cy="2403.9" r="2.5"/><circle cx="1360.9" cy="2315" r="2.3"/><circle cx="1339.7" cy="2391" r="2.1"/><circle cx="1372.8" cy="2350.3" r="2.2"/><circle cx="1389" cy="2382" r="1.6"/><circle cx="1419.1" cy="2353.9" r="1"/><circle cx="1363.4" cy="2392.2" r="1.1"/><circle cx="1344.8" cy="2323.5" r="0.9"/><circle cx="1437.3" cy="2362.3" r="1"/><circle cx="1386.4" cy="2410.5" r="1.6"/><circle cx="1421.8" cy="2297" r="1.2"/><circle cx="1357.8" cy="2403" r="1.5"/><circle cx="1422.8" cy="2400.7" r="2"/><circle cx="1372.7" cy="2292.1" r="1.4"/><circle cx="1436.9" cy="2358.6" r="1"/><circle cx="1361.1" cy="2385.4" r="1.4"/><circle cx="1462.2" cy="2366.4" r="1.6"/><circle cx="1429.2" cy="2409.1" r="1.6"/><circle cx="1340" cy="2361.9" r="1.9"/><circle cx="1397.9" cy="2318.7" r="1.5"/><circle cx="1387.6" cy="2285.9" r="1.4"/><circle cx="1354.3" cy="2351" r="1.4"/><circle cx="1369.7" cy="2290.6" r="2.5"/><circle cx="1341.4" cy="2326.7" r="1.8"/><circle cx="1342.4" cy="2344.9" r="2.4"/><circle cx="1366.2" cy="2400.3" r="2.2"/><circle cx="1357.4" cy="2336.8" r="1.6"/><circle cx="1331.8" cy="2334.7" r="1.7"/><circle cx="1454" cy="2341.9" r="2.2"/><circle cx="1374.9" cy="2307.7" r="2.1"/><circle cx="1436.5" cy="2395.8" r="1.7"/><circle cx="1381.8" cy="2302.3" r="1"/><circle cx="1332.4" cy="2330" r="2"/><circle cx="1391.1" cy="2425.6" r="1.5"/><circle cx="1451.8" cy="2370" r="1.2"/><circle cx="1368.2" cy="2292.5" r="2.2"/><circle cx="1372" cy="2348" r="1"/><circle cx="1396.5" cy="2342.6" r="2.5"/><circle cx="1422.7" cy="2326.7" r="1.2"/><circle cx="1459.6" cy="2375.5" r="1.7"/><circle cx="1426.1" cy="2348.7" r="1.1"/><circle cx="1424.9" cy="2309.1" r="2.4"/><circle cx="1395.9" cy="2400.7" r="1.1"/><circle cx="1330" cy="2332" r="1.8"/><circle cx="1334.5" cy="2365.1" r="2.1"/><circle cx="1335.9" cy="2328.7" r="2.5"/><circle cx="1391.2" cy="2384.3" r="1.4"/><circle cx="1391.9" cy="2389.7" r="1.9"/><circle cx="1391.4" cy="2389.3" r="2"/><circle cx="1393.2" cy="2389.9" r="1.5"/><circle cx="1408.3" cy="2389" r="2.4"/><circle cx="1391.2" cy="2385.5" r="1.6"/><circle cx="1390.5" cy="2389.4" r="1.4"/><circle cx="1401.2" cy="2385.2" r="2.4"/><circle cx="1435" cy="2323.4" r="2.5"/><circle cx="1422" cy="2319.2" r="1.4"/><circle cx="1432.2" cy="2319.4" r="2"/><circle cx="1423.1" cy="2321.1" r="1.3"/><circle cx="1426.5" cy="2316.4" r="2.5"/><circle cx="1428.6" cy="2331.8" r="1.2"/><circle cx="1432.4" cy="2314.4" r="2.2"/><circle cx="1422.3" cy="2314.7" r="2.7"/><circle cx="1372.3" cy="2319.4" r="1.5"/><circle cx="1376.2" cy="2319.3" r="1.3"/><circle cx="1365.7" cy="2321.5" r="2"/><circle cx="1375.1" cy="2314.8" r="1.3"/><circle cx="1375.1" cy="2326" r="1.7"/><circle cx="1361.2" cy="2313.4" r="2.2"/><circle cx="1379.8" cy="2331.9" r="1.8"/><circle cx="1373.8" cy="2309.7" r="2.6"/><circle cx="1369.5" cy="2329" r="1.5"/><circle cx="1366.6" cy="2326.5" r="2.4"/><circle cx="1356.5" cy="2321.7" r="1.4"/><circle cx="1363" cy="2327.6" r="1.8"/><circle cx="1372.2" cy="2328.2" r="2.4"/><circle cx="1367.3" cy="2314.6" r="1.3"/><circle cx="1362.8" cy="2315.9" r="1.9"/><circle cx="1364.7" cy="2316.8" r="1.5"/></g></g></svg></body></html>
